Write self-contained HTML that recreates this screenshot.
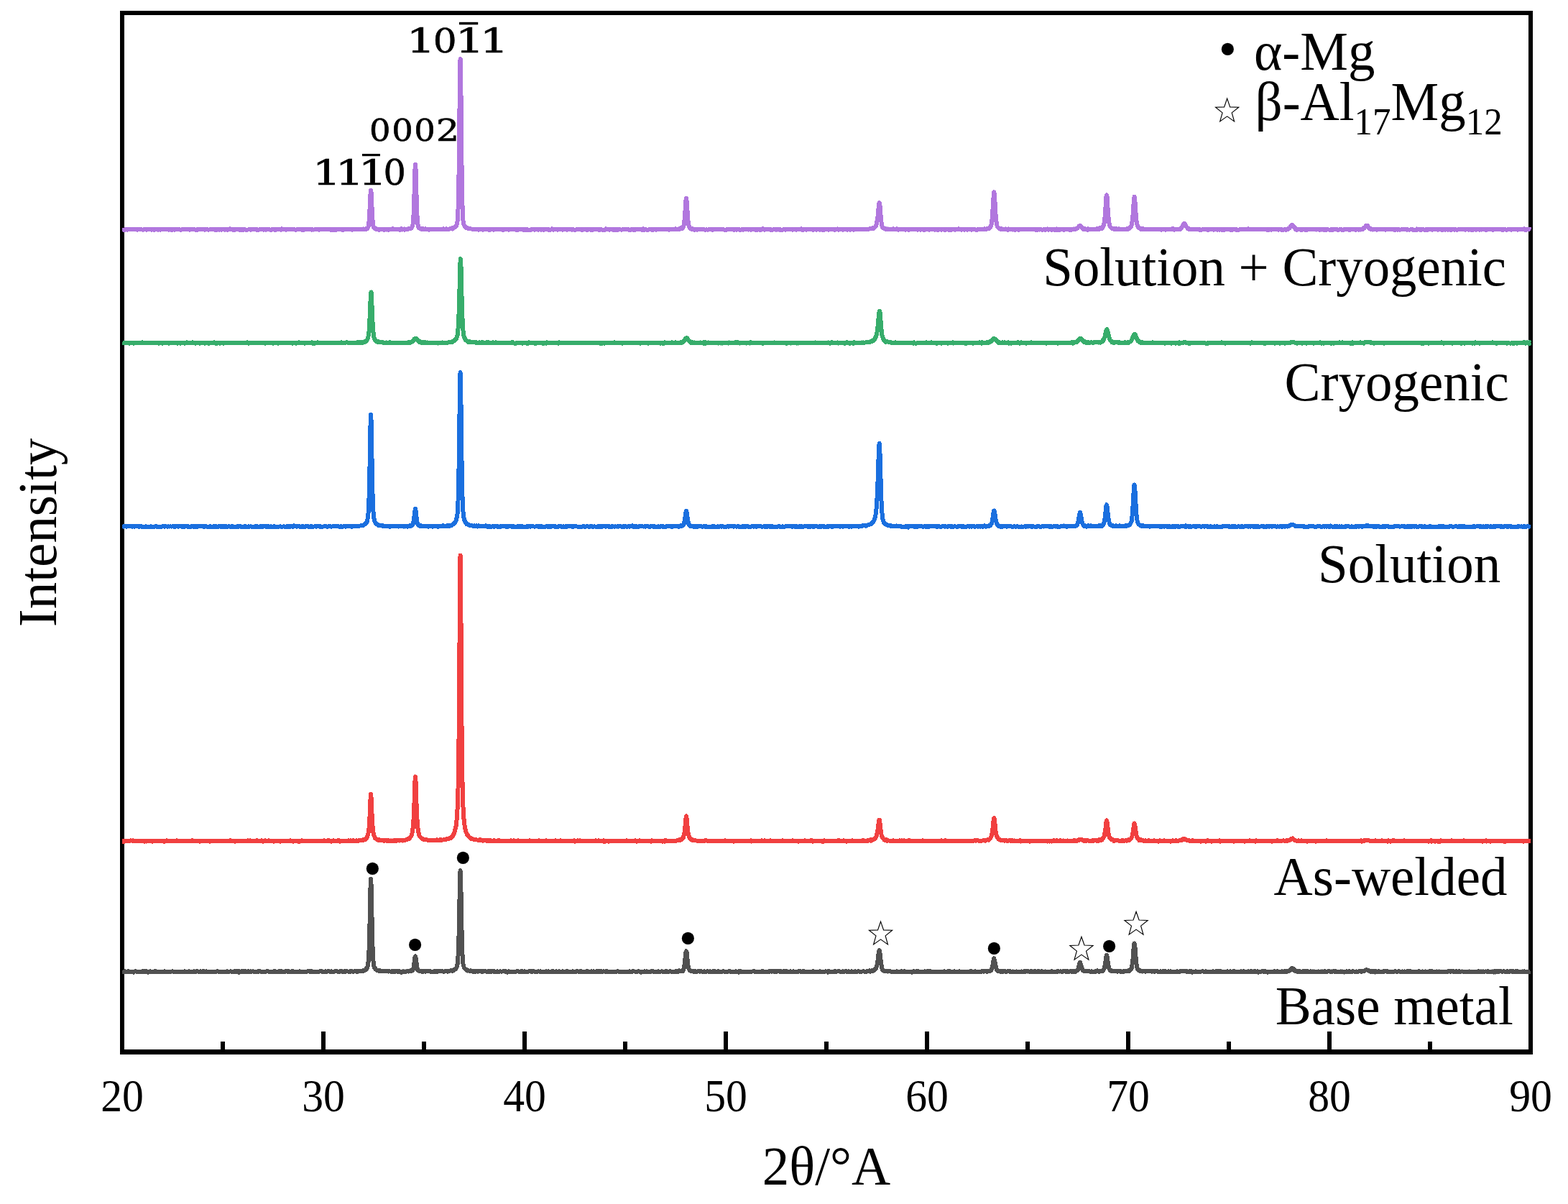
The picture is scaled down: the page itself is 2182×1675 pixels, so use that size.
<!DOCTYPE html>
<html lang="en"><head><meta charset="utf-8"><title>XRD patterns</title>
<style>
html,body{margin:0;padding:0;background:#fff}
body{width:2182px;height:1675px;overflow:hidden}
svg{display:block}
text{fill:#000;white-space:pre}
.t{font-family:"Liberation Serif","Times New Roman",Times,serif;font-size:75px}
.tk{font-family:"Liberation Serif","Times New Roman",Times,serif;font-size:64px;text-anchor:middle}
.pk{font-family:"DejaVu Serif",serif;stroke:#000;stroke-width:.6px}
.c{fill:none;stroke-linejoin:round;stroke-linecap:butt}
.ca{stroke-width:6;shape-rendering:crispEdges}
.cb{stroke-width:4.6}
</style></head><body>
<svg width="2182" height="1675" viewBox="0 0 2182 1675">
<rect width="2182" height="1675" fill="#fff"/>
<path d="M167 15H2133V1467H167ZM173 21V1460H2127V21Z" fill="#000" fill-rule="evenodd"/>
<path d="M310 1461V1449M450 1461V1435M590 1461V1449M730 1461V1435M870 1461V1449M1010 1461V1435M1150 1461V1449M1290 1461V1435M1430 1461V1449M1570 1461V1435M1710 1461V1449M1850 1461V1435M1990 1461V1449" stroke="#000" stroke-width="6" fill="none"/>
<text class="tk" transform="translate(170 1546) scale(0.933 1)">20</text>
<text class="tk" transform="translate(450 1546) scale(0.933 1)">30</text>
<text class="tk" transform="translate(730 1546) scale(0.933 1)">40</text>
<text class="tk" transform="translate(1010 1546) scale(0.933 1)">50</text>
<text class="tk" transform="translate(1290 1546) scale(0.933 1)">60</text>
<text class="tk" transform="translate(1570 1546) scale(0.933 1)">70</text>
<text class="tk" transform="translate(1850 1546) scale(0.933 1)">80</text>
<text class="tk" transform="translate(2130 1546) scale(0.933 1)">90</text>
<text class="t" transform="translate(1150 1648) scale(1 1.018)" text-anchor="middle">2θ/°A</text>
<text class="t" transform="translate(78 741) rotate(-90) scale(1 1.018)" text-anchor="middle">Intensity</text>
<clipPath id="cp"><rect x="170" y="18" width="1961" height="1446"/></clipPath>
<defs>
<path id="base" d="M170 1351.3L171 1351.8L172 1352L173 1351.5L174 1351.3L175 1351.7L176 1351.9L177 1352.1L178 1351.3L179 1351.3L180 1351.9L181 1351.9L182 1352.2L183 1352L184 1351.7L185 1351.6L186 1352.5L187 1351.6L188 1351.4L189 1351.3L190 1351.7L191 1351.7L192 1351.6L193 1351.7L194 1351.8L195 1351.9L196 1352.1L197 1351.8L198 1351.1L199 1351.9L200 1351.2L201 1351.6L202 1351.2L203 1351.7L204 1351.4L205 1351.8L206 1352.8L207 1351.7L208 1352L209 1351.3L210 1351.6L211 1351.9L212 1351.7L213 1351.8L214 1351.7L215 1351.4L216 1351.9L217 1351.4L218 1352.3L219 1351.5L220 1351.9L221 1351.7L222 1352L223 1351.5L224 1352L225 1351.7L226 1352.1L227 1351.9L228 1351.7L229 1351.4L230 1352L231 1351.9L232 1352.2L233 1351.6L234 1351.9L235 1351.9L236 1351.8L237 1351.8L238 1351.8L239 1351.5L240 1351.4L241 1351.6L242 1351.9L243 1352.2L244 1352L245 1352L246 1352L247 1351.9L248 1351.8L249 1352L250 1352.3L251 1351.6L252 1351.5L253 1352.3L254 1351.8L255 1352L256 1352L257 1351.3L258 1352.5L259 1352.3L260 1351.8L261 1351.9L262 1351.7L263 1351.4L264 1351.7L265 1351.8L266 1352.1L267 1351.9L268 1351.7L269 1352.1L270 1351.4L271 1352L272 1352.1L273 1351.6L274 1351.1L275 1351.4L276 1351.8L277 1351.9L278 1352.2L279 1351.4L280 1351.7L281 1351.9L282 1351.6L283 1350.9L284 1352L285 1352.5L286 1352L287 1351.4L288 1351.6L289 1351.8L290 1352.5L291 1351.9L292 1351.7L293 1352.2L294 1351.7L295 1352.3L296 1351.5L297 1351.5L298 1351.9L299 1352.2L300 1351.9L301 1351.8L302 1351.1L303 1351.5L304 1351.5L305 1351.5L306 1351.9L307 1351.6L308 1352L309 1351.7L310 1351.6L311 1351.7L312 1351.8L313 1352L314 1351.5L315 1351.6L316 1351.3L317 1352.2L318 1352.2L319 1351.6L320 1351.5L321 1351.3L322 1351.8L323 1351.8L324 1352.4L325 1351.8L326 1351.4L327 1350.9L328 1352.2L329 1351.8L330 1351.2L331 1351.8L332 1351.2L333 1352.8L334 1352.1L335 1351.9L336 1351.6L337 1351L338 1351.7L339 1351.2L340 1351.9L341 1351L342 1351.4L343 1352.1L344 1352.2L345 1351.3L346 1351.2L347 1352L348 1352L349 1351.4L350 1351.5L351 1351.5L352 1351.3L353 1351.5L354 1352.1L355 1351.9L356 1352.4L357 1351.7L358 1351.7L359 1351.4L360 1351.7L361 1351.3L362 1351.1L363 1351.9L364 1352.2L365 1352L366 1352.1L367 1351.8L368 1351.5L369 1351.7L370 1351.6L371 1351.3L372 1351.1L373 1351.2L374 1351.7L375 1351.7L376 1351.5L377 1352.2L378 1351.8L379 1351.9L380 1352.1L381 1351.4L382 1351L383 1351.9L384 1351.5L385 1352.1L386 1351.8L387 1352L388 1351.9L389 1351L390 1351.9L391 1351.5L392 1351.4L393 1351.5L394 1351.9L395 1352L396 1352L397 1351.1L398 1351.5L399 1350.9L400 1351.7L401 1351.9L402 1351.4L403 1351.8L404 1351.8L405 1352L406 1351.4L407 1351.4L408 1351.4L409 1352.3L410 1352L411 1351.6L412 1351.8L413 1351.7L414 1351.8L415 1351.6L416 1351.6L417 1351.3L418 1351.5L419 1352.2L420 1351.9L421 1351.7L422 1351.6L423 1351.7L424 1351.8L425 1351.5L426 1351.7L427 1351.8L428 1351.4L429 1351.4L430 1351.3L431 1351.3L432 1352L433 1350.9L434 1351.6L435 1351.5L436 1351.5L437 1351.7L438 1352L439 1351.7L440 1351.6L441 1351.5L442 1351.6L443 1352L444 1351.5L445 1351.3L446 1351.2L447 1351.3L448 1351.2L449 1352L450 1351.8L451 1351.6L452 1352.1L453 1351.4L454 1351.9L455 1351.9L456 1351.1L457 1351.1L458 1351.3L459 1351.9L460 1352.1L461 1351.2L462 1352L463 1351.5L464 1351.5L465 1351.5L466 1351.5L467 1351L468 1351.3L469 1351.2L470 1351.8L471 1352.3L472 1352.5L473 1351.5L474 1351L475 1351.5L476 1351.3L477 1352.2L478 1351.8L479 1351.3L480 1351.9L481 1351.7L482 1351L483 1351.4L484 1351.5L485 1351.5L486 1351.6L487 1351.4L488 1351.6L489 1351.3L490 1351.2L491 1351.9L492 1351.5L493 1351.5L494 1350.8L495 1351.3L496 1351.6L497 1350.8L498 1351.6L499 1351L500 1351.2L501 1351L502 1351L503 1351.2L504 1350.5L505 1351L505.5 1350.1L506 1349.9L506.5 1350.3L507 1349.5L507.5 1349.5L508 1349.7L508.5 1349.5L509 1348.1L509.5 1348.4L510 1348.4L510.5 1347.4L511 1346L511.5 1344.6L512 1342.5L512.5 1338.6L513 1332.7L513.5 1322.4L514 1306.5L514.5 1285.4L515 1259.6L515.5 1235.6L516 1223.8L516.1 1222.7L516.5 1229L517 1249.5L517.5 1275L518 1298.3L518.5 1316.7L519 1329.9L519.5 1336.7L520 1341.4L520.5 1344.4L521 1345.9L521.5 1346.9L522 1347.8L522.5 1347.4L523 1348.3L523.5 1349L524 1349.4L524.5 1350L525 1349.9L525.5 1349.9L526 1350.1L526.5 1350.2L527 1350.5L527.5 1350.7L528 1350.5L528.5 1350.4L529.5 1350.5L530.5 1351.3L531.5 1351.4L532.5 1351.4L533.5 1351.4L534.5 1351.5L535.5 1351.3L536.5 1351.5L537.5 1351L538.5 1351.3L539.5 1351.1L540.5 1351.6L541.5 1351.2L542.5 1351.4L543.5 1351.6L544.5 1351.9L545.5 1351.2L546.5 1351.2L547.5 1351.8L548.5 1351.1L549.5 1351.7L550.5 1351.3L551.5 1351.5L552.5 1350.9L553.5 1351.8L554.5 1351.4L555.5 1351.2L556.5 1352.2L557.5 1351.8L558.5 1352.7L559.5 1351.6L560.5 1351.4L561.5 1351.5L562.5 1352L563.5 1351.5L564.5 1351.6L565.5 1351.6L566.5 1351.1L567 1351.4L567.5 1351.2L568 1350.9L568.5 1351.6L569 1351.5L569.5 1351.3L570 1350.9L570.5 1350.5L571 1351.3L571.5 1351L572 1350.4L572.5 1350.8L573 1350.2L573.5 1350.4L574 1350.1L574.5 1349.5L575 1348.3L575.5 1346.4L576 1343.1L576.5 1339.6L577 1335.4L577.5 1331.8L578 1330.4L578.5 1332L579 1336.1L579.5 1338.9L580 1343.6L580.5 1346.3L581 1349L581.5 1349.7L582 1349.5L582.5 1350.5L583 1350.5L583.5 1351.1L584 1350.6L584.5 1351L585 1351.1L585.5 1351.1L586 1351L586.5 1350.7L587 1351.4L587.5 1351.7L588 1351.3L588.5 1351L589 1351.5L589.5 1351.6L590 1351.4L591 1351.4L592 1351.9L593 1351.1L594 1351.3L595 1350.9L596 1351.3L597 1351.3L598 1351.2L599 1351.3L600 1352.1L601 1351.5L602 1351.5L603 1352.2L604 1351.5L605 1350.9L606 1351.6L607 1351.2L608 1352L609 1351.1L610 1351.3L611 1350.9L612 1351.5L613 1351.1L614 1351.4L615 1351.3L616 1351.2L617 1351.7L618 1351.6L619 1351.3L620 1351L621 1350.9L622 1351.3L623 1351.9L624 1350.9L625 1350.7L626 1350.6L627 1350.4L628 1350.3L629 1350.4L629.5 1350.8L630 1350.2L630.5 1349.9L631 1349.3L631.5 1349.7L632 1349.4L632.5 1348.8L633 1348.5L633.5 1348.4L634 1348.3L634.5 1347.6L635 1346.7L635.5 1345.5L636 1344.2L636.5 1341.8L637 1338.6L637.5 1330.7L638 1319.6L638.5 1302.9L639 1278.8L639.5 1251.7L640 1225.4L640.5 1211.8L640.6 1211.2L641 1217.4L641.5 1239.8L642 1268.8L642.5 1293.9L643 1313.8L643.5 1327.5L644 1335.8L644.5 1340.8L645 1343.2L645.5 1345L646 1346.6L646.5 1347L647 1347.3L647.5 1348.2L648 1348.5L648.5 1349.2L649 1349.1L649.5 1349.2L650 1349.7L650.5 1350.5L651 1350.1L651.5 1350.3L652 1350.4L652.5 1350.6L653 1350.9L654 1351.2L655 1350.3L656 1351.4L657 1351.1L658 1351L659 1352L660 1351.2L661 1351.9L662 1351.6L663 1351L664 1351.5L665 1351.6L666 1351.4L667 1350.7L668 1351.4L669 1351.4L670 1351.1L671 1352.1L672 1351.4L673 1351.4L674 1351.4L675 1351.3L676 1351.3L677 1351.6L678 1351.7L679 1351.4L680 1351.6L681 1351.1L682 1351.8L683 1351.4L684 1351.7L685 1351.3L686 1351.4L687 1351.7L688 1351.2L689 1352.4L690 1351.6L691 1351.6L692 1351.4L693 1352.2L694 1352.1L695 1351.7L696 1351.2L697 1351.5L698 1351.8L699 1351.5L700 1351.3L701 1351.3L702 1351.4L703 1351.7L704 1351.4L705 1351.7L706 1352.6L707 1352.2L708 1351.3L709 1351.8L710 1351.7L711 1351.6L712 1352L713 1351.6L714 1351.6L715 1351.5L716 1351.6L717 1352.1L718 1351.9L719 1351.2L720 1351.5L721 1351.4L722 1351.9L723 1351.7L724 1352L725 1351.7L726 1351L727 1351.8L728 1351.8L729 1351.8L730 1351.2L731 1351.7L732 1351.5L733 1351.5L734 1351.8L735 1351.8L736 1351.4L737 1351.1L738 1350.9L739 1351.5L740 1352.1L741 1351.7L742 1350.9L743 1351.4L744 1351.8L745 1352.2L746 1352.1L747 1351.8L748 1351.8L749 1351.3L750 1351.5L751 1351.6L752 1351.4L753 1351.7L754 1351.6L755 1351.8L756 1352.2L757 1351.9L758 1351.8L759 1351.6L760 1351.2L761 1351.7L762 1351.9L763 1351.4L764 1352.1L765 1351.6L766 1351.8L767 1351.6L768 1351.3L769 1352.4L770 1351.3L771 1352L772 1351.5L773 1351.8L774 1351.4L775 1351.6L776 1352L777 1352.3L778 1351.4L779 1351.7L780 1352L781 1351.5L782 1351.9L783 1351.4L784 1351.9L785 1351.8L786 1352.1L787 1351.8L788 1351.3L789 1351.9L790 1351.3L791 1351.9L792 1352.2L793 1351.9L794 1351.5L795 1352.1L796 1351.8L797 1351.3L798 1351.6L799 1352.2L800 1351.6L801 1351.7L802 1351.6L803 1351.1L804 1351.5L805 1351.8L806 1351.8L807 1351.6L808 1351L809 1352.1L810 1351.9L811 1352L812 1352.1L813 1351.6L814 1351.5L815 1351.8L816 1352.3L817 1351.1L818 1351.6L819 1351.5L820 1351.9L821 1352.2L822 1351.6L823 1351.3L824 1351.7L825 1351.6L826 1351.2L827 1352L828 1351.5L829 1351.9L830 1351.3L831 1352.1L832 1351.2L833 1352L834 1351.1L835 1352.2L836 1351.6L837 1351.2L838 1351.6L839 1351.8L840 1351.4L841 1351.5L842 1351.8L843 1351.6L844 1350.7L845 1351.6L846 1351.8L847 1351.8L848 1352L849 1351.5L850 1352.5L851 1352L852 1351.8L853 1352.1L854 1352L855 1351.7L856 1351.5L857 1352L858 1351.8L859 1351.1L860 1351.3L861 1351.8L862 1351.7L863 1351.8L864 1351.9L865 1351.7L866 1352.2L867 1351.5L868 1351.6L869 1351.8L870 1351.9L871 1352L872 1352.2L873 1351.5L874 1352.1L875 1351.8L876 1351.3L877 1351.6L878 1352.4L879 1352L880 1351.5L881 1350.9L882 1351.4L883 1351.5L884 1351.7L885 1352.5L886 1351.9L887 1351.8L888 1351.4L889 1351.3L890 1351.6L891 1351.5L892 1352.7L893 1351.6L894 1351.5L895 1352.1L896 1351.7L897 1351.3L898 1352.1L899 1351.6L900 1351.2L901 1351.8L902 1351.8L903 1351.6L904 1351.9L905 1352L906 1351.4L907 1351L908 1350.9L909 1351.6L910 1352.1L911 1352L912 1352.1L913 1352.3L914 1351.7L915 1352L916 1351.2L917 1351.9L918 1351.8L919 1351.6L920 1351.5L921 1351.3L922 1351.7L923 1352.1L924 1351.5L925 1351.8L926 1351.4L927 1351.7L928 1351.3L929 1351.8L930 1351.6L931 1351.7L932 1351.4L933 1351.2L934 1351.5L935 1351.9L936 1352.1L937 1351.5L938 1351.8L939 1351.8L940 1351.6L941 1351L942 1351.6L943 1351.1L944 1351.7L944.5 1351.6L945 1351.5L945.5 1350.4L946 1351.4L946.5 1351.4L947 1350.6L947.5 1351.3L948 1350.9L948.5 1350.7L949 1350.4L949.5 1350.1L950 1350L950.5 1350.7L951 1349L951.5 1347.8L952 1345.6L952.5 1342.7L953 1338.8L953.5 1333.8L954 1329.1L954.5 1324.4L955 1323.1L955.5 1324.2L956 1329.2L956.5 1334.1L957 1339.2L957.5 1342.9L958 1345.5L958.5 1348.1L959 1348.8L959.5 1349.6L960 1349.8L960.5 1350.5L961 1350.5L961.5 1350.9L962 1351L962.5 1350.8L963 1350.6L963.5 1351.3L964 1351.5L964.5 1351.5L965 1350.9L965.5 1351.5L966 1351.5L966.5 1351.5L967 1351.6L968 1351.3L969 1351.6L970 1351.8L971 1351.4L972 1351.1L973 1351.5L974 1351.6L975 1351L976 1351.4L977 1351.8L978 1351.6L979 1351.7L980 1351.2L981 1351.9L982 1352.2L983 1351.6L984 1351.4L985 1351.3L986 1351.9L987 1351.7L988 1351.4L989 1352.1L990 1351.9L991 1351.9L992 1351.1L993 1351.6L994 1351.9L995 1351.3L996 1352L997 1352.1L998 1352L999 1351.4L1000 1351.4L1001 1352L1002 1352L1003 1352.1L1004 1352.1L1005 1351.6L1006 1351.5L1007 1351.1L1008 1351.9L1009 1352.4L1010 1351.5L1011 1351.5L1012 1351.9L1013 1351.8L1014 1351.2L1015 1351.5L1016 1351.3L1017 1352.4L1018 1351.5L1019 1352L1020 1352.3L1021 1352.3L1022 1352.2L1023 1352.2L1024 1351.3L1025 1351.6L1026 1351.5L1027 1351.6L1028 1352.6L1029 1351.1L1030 1351.9L1031 1351.3L1032 1352.1L1033 1352.1L1034 1351.5L1035 1352.4L1036 1351.7L1037 1352.1L1038 1351.8L1039 1351.5L1040 1351.6L1041 1351.7L1042 1351.9L1043 1351.7L1044 1352.5L1045 1351.6L1046 1351.5L1047 1351.5L1048 1351.4L1049 1351.2L1050 1351.4L1051 1352L1052 1351.7L1053 1351.6L1054 1351.8L1055 1352L1056 1351.9L1057 1352L1058 1351.5L1059 1351.6L1060 1351.4L1061 1351.7L1062 1351.4L1063 1351.6L1064 1351.6L1065 1351.6L1066 1351.6L1067 1351.5L1068 1352.1L1069 1351.6L1070 1351.4L1071 1351.8L1072 1351.3L1073 1351.3L1074 1351.7L1075 1351.1L1076 1350.6L1077 1351.8L1078 1352L1079 1351.1L1080 1351.4L1081 1351.9L1082 1351L1083 1351.4L1084 1351.3L1085 1351.6L1086 1351L1087 1352L1088 1351.6L1089 1351.8L1090 1351.6L1091 1351L1092 1351.6L1093 1351.2L1094 1351.7L1095 1351.4L1096 1351.6L1097 1351.6L1098 1351.9L1099 1351.9L1100 1351.4L1101 1351.7L1102 1352.2L1103 1351.9L1104 1351.4L1105 1351.7L1106 1351.6L1107 1352L1108 1351.7L1109 1351.8L1110 1352.4L1111 1351.2L1112 1351.4L1113 1351.1L1114 1351.2L1115 1352L1116 1351.8L1117 1352.2L1118 1351L1119 1351.4L1120 1352.2L1121 1352L1122 1352L1123 1352L1124 1351.7L1125 1351.7L1126 1351.7L1127 1352L1128 1351.6L1129 1351.8L1130 1352.2L1131 1351.3L1132 1351.4L1133 1351.9L1134 1351.6L1135 1351.6L1136 1352.4L1137 1351.8L1138 1351.5L1139 1352L1140 1352.5L1141 1351.3L1142 1351.5L1143 1351.7L1144 1351.5L1145 1352.4L1146 1351.9L1147 1351.5L1148 1351.8L1149 1351.4L1150 1351.5L1151 1351.7L1152 1352.5L1153 1350.9L1154 1351.8L1155 1352.1L1156 1351.9L1157 1352.3L1158 1351.8L1159 1351.7L1160 1351.6L1161 1351.4L1162 1352.2L1163 1351.3L1164 1351.6L1165 1351.5L1166 1351.4L1167 1350.9L1168 1351.5L1169 1351.7L1170 1351.7L1171 1351.9L1172 1351.6L1173 1351.4L1174 1351.8L1175 1351.9L1176 1351.4L1177 1351.1L1178 1351.3L1179 1352L1180 1352L1181 1351.3L1182 1351.7L1183 1351.9L1184 1352.1L1185 1351.4L1186 1351.5L1187 1352.1L1188 1352.4L1189 1352.1L1190 1351.2L1191 1351.7L1192 1351.5L1193 1351.6L1194 1351.4L1195 1351.4L1196 1351.5L1197 1352.1L1198 1351.8L1199 1351.7L1200 1351.5L1201 1351.2L1202 1351.4L1203 1351.8L1204 1351.7L1205 1352L1206 1351.4L1207 1351.3L1208 1350.7L1209 1351.3L1210 1350.5L1211 1351.5L1212 1350.7L1212.5 1350.8L1213 1350.3L1213.5 1350.5L1214 1350.2L1214.5 1350.8L1215 1350.4L1215.5 1349.7L1216 1349.3L1216.5 1349.7L1217 1349.2L1217.5 1348.7L1218 1348.8L1218.5 1347.9L1219 1347.1L1219.5 1345.8L1220 1344.3L1220.5 1342.2L1221 1339.2L1221.5 1336.6L1222 1332.6L1222.5 1327.7L1223 1324.6L1223.5 1322.8L1223.7 1322.3L1224 1323.2L1224.5 1325.7L1225 1330.4L1225.5 1334.9L1226 1339.4L1226.5 1342.6L1227 1345.5L1227.5 1347.7L1228 1348.9L1228.5 1349.9L1229 1350L1229.5 1349.9L1230 1350.6L1230.5 1350.6L1231 1351.4L1231.5 1351.5L1232 1351.3L1232.5 1350.7L1233 1351L1233.5 1351.2L1234 1351L1234.5 1351.4L1235 1351.5L1235.5 1351.6L1236 1351.4L1237 1351.1L1238 1351.2L1239 1351.4L1240 1351.9L1241 1352L1242 1351.9L1243 1351.7L1244 1351.8L1245 1351.9L1246 1352L1247 1351.9L1248 1351.1L1249 1351.9L1250 1351.8L1251 1351.5L1252 1351.8L1253 1351.7L1254 1351.6L1255 1351.1L1256 1351.7L1257 1351.8L1258 1351.6L1259 1351.1L1260 1351.8L1261 1351.9L1262 1351.7L1263 1351.8L1264 1351.5L1265 1351.5L1266 1351.8L1267 1351.6L1268 1351.7L1269 1352.7L1270 1351.9L1271 1351.7L1272 1351.1L1273 1351.7L1274 1351.9L1275 1351.4L1276 1351.6L1277 1350.9L1278 1351.9L1279 1351.5L1280 1351.9L1281 1352.1L1282 1351.6L1283 1352L1284 1351.8L1285 1351.6L1286 1351.6L1287 1351.4L1288 1352.1L1289 1352L1290 1351.4L1291 1352L1292 1351.4L1293 1351.2L1294 1352.1L1295 1351.3L1296 1352.1L1297 1351.8L1298 1352L1299 1351.9L1300 1352.1L1301 1351.8L1302 1351.9L1303 1351.8L1304 1352L1305 1351.6L1306 1352L1307 1352.2L1308 1351.7L1309 1351.8L1310 1351.5L1311 1351.6L1312 1351.8L1313 1351.6L1314 1351.4L1315 1351.7L1316 1351.7L1317 1351.8L1318 1351.9L1319 1351.1L1320 1352.2L1321 1351.6L1322 1351.4L1323 1351.6L1324 1351.8L1325 1352L1326 1351.6L1327 1351.7L1328 1351.2L1329 1351.7L1330 1351.6L1331 1351.5L1332 1352L1333 1352.3L1334 1352L1335 1351.4L1336 1352.2L1337 1351.6L1338 1351.7L1339 1351.5L1340 1351.8L1341 1351.9L1342 1351.7L1343 1351.6L1344 1351.6L1345 1351.5L1346 1352L1347 1351.5L1348 1351.6L1349 1351.6L1350 1351.4L1351 1351.6L1352 1351.2L1353 1351.8L1354 1351.8L1355 1351.6L1356 1352.2L1357 1351.4L1358 1351.8L1359 1351.8L1360 1351.5L1361 1351.6L1362 1351.9L1363 1351.6L1364 1351.7L1365 1352.1L1366 1351.7L1367 1351L1368 1351.3L1369 1351.8L1370 1351.5L1371 1351.1L1372 1350.8L1372.5 1351.5L1373 1351.9L1373.5 1351L1374 1350.6L1374.5 1351.5L1375 1351.1L1375.5 1351.1L1376 1351L1376.5 1350.8L1377 1351.1L1377.5 1351.1L1378 1350.8L1378.5 1350.2L1379 1350.2L1379.5 1349.1L1380 1348.3L1380.5 1346.2L1381 1344.5L1381.5 1341.9L1382 1339L1382.5 1335.8L1383 1334.1L1383.3 1333.4L1383.5 1334L1384 1335.6L1384.5 1338.4L1385 1340.9L1385.5 1343.4L1386 1346.1L1386.5 1347.7L1387 1348.8L1387.5 1350L1388 1350.6L1388.5 1350.7L1389 1351.2L1389.5 1351.1L1390 1350.7L1390.5 1350.9L1391 1351.1L1391.5 1351.5L1392 1351.6L1392.5 1351.4L1393 1351.7L1393.5 1351.1L1394 1351.4L1394.5 1351.9L1395 1351.6L1395.5 1351.8L1396.5 1350.9L1397.5 1351L1398.5 1351.3L1399.5 1351.9L1400.5 1352.1L1401.5 1351.4L1402.5 1351.3L1403.5 1351.3L1404.5 1351.3L1405.5 1351.8L1406.5 1351.5L1407.5 1352.3L1408.5 1351.9L1409.5 1351.4L1410.5 1351.7L1411.5 1351.6L1412.5 1351.9L1413.5 1352L1414.5 1351.5L1415.5 1352L1416.5 1351.9L1417.5 1351.6L1418.5 1351.8L1419.5 1351.9L1420.5 1351.6L1421.5 1351.5L1422.5 1352.1L1423.5 1351.7L1424.5 1351.5L1425.5 1351.8L1426.5 1351.2L1427.5 1351.7L1428.5 1351.2L1429.5 1351.5L1430.5 1351.1L1431.5 1351.4L1432.5 1352L1433.5 1351.6L1434.5 1351.3L1435.5 1352.2L1436.5 1351.5L1437.5 1352.2L1438.5 1351.5L1439.5 1351.2L1440.5 1352.3L1441.5 1351.5L1442.5 1351.9L1443.5 1352.1L1444.5 1351.3L1445.5 1351.7L1446.5 1351.5L1447.5 1351.9L1448.5 1351.7L1449.5 1351.3L1450.5 1351.7L1451.5 1351.9L1452.5 1351.6L1453.5 1351.9L1454.5 1351.5L1455.5 1351.7L1456.5 1351.8L1457.5 1351.7L1458.5 1352.1L1459.5 1352L1460.5 1351.9L1461.5 1351.9L1462.5 1351.7L1463.5 1351.3L1464.5 1352L1465.5 1352.2L1466.5 1351.7L1467.5 1351.6L1468.5 1351.7L1469.5 1352.1L1470.5 1351.8L1471.5 1351.3L1472.5 1351.6L1473.5 1351.4L1474.5 1351.6L1475.5 1351.4L1476.5 1351.4L1477.5 1352.1L1478.5 1352L1479.5 1351.1L1480.5 1351.3L1481.5 1351.5L1482.5 1351.5L1483.5 1351.2L1484.5 1351.9L1485.5 1351.1L1486.5 1351.8L1487.5 1351.8L1488.5 1351.5L1489.5 1351.3L1490.5 1351.6L1491.5 1351.6L1492 1350.8L1492.5 1351.1L1493 1351.6L1493.5 1351.4L1494 1351.3L1494.5 1351.1L1495 1351.1L1495.5 1351.1L1496 1352.2L1496.5 1350.8L1497 1351.6L1497.5 1351.1L1498 1350.9L1498.5 1350.6L1499 1350L1499.5 1350L1500 1348.7L1500.5 1347.2L1501 1345.4L1501.5 1343.5L1502 1341.1L1502.5 1339.7L1503 1339L1503.5 1340L1504 1341.6L1504.5 1342.9L1505 1345.4L1505.5 1347.5L1506 1348.1L1506.5 1349.1L1507 1350.5L1507.5 1350.5L1508 1350.7L1508.5 1350.6L1509 1351.1L1509.5 1351L1510 1351.3L1510.5 1351.4L1511 1351.5L1511.5 1351.2L1512 1351.2L1512.5 1351.4L1513 1351.4L1513.5 1351.5L1514 1351.3L1514.5 1351.4L1515 1351.3L1516 1351.3L1517 1351.5L1518 1351.9L1519 1351.3L1520 1351.7L1521 1351.6L1522 1351.5L1523 1351.7L1524 1351.3L1525 1351.6L1526 1351.5L1527 1350.3L1528 1351.5L1529 1351.5L1529.5 1351.9L1530 1350.9L1530.5 1351.3L1531 1351.3L1531.5 1350.8L1532 1351.4L1532.5 1351.1L1533 1350.6L1533.5 1350.4L1534 1350.5L1534.5 1351.2L1535 1350.8L1535.5 1348.9L1536 1348.3L1536.5 1348L1537 1346L1537.5 1343.4L1538 1340.7L1538.5 1336.9L1539 1333.3L1539.5 1330.4L1540 1328.8L1540.5 1330.7L1541 1333.1L1541.5 1337.3L1542 1340.7L1542.5 1343.6L1543 1346.1L1543.5 1347.7L1544 1348.3L1544.5 1349.5L1545 1350.2L1545.5 1349.9L1546 1350.1L1546.5 1351.1L1547 1351.1L1547.5 1350.5L1548 1351.2L1548.5 1351.1L1549 1351.5L1549.5 1351.1L1550 1351.2L1550.5 1351L1551 1351.3L1551.5 1351.3L1552 1351.1L1553 1351.2L1554 1351.1L1555 1351.6L1556 1351.1L1557 1350.9L1558 1351.1L1559 1351.8L1560 1351.2L1561 1351.6L1562 1351.6L1563 1351.2L1564 1351.6L1565 1351.4L1566 1351.2L1567 1350.9L1567.5 1351.1L1568 1350.6L1568.5 1350.9L1569 1350.7L1569.5 1351L1570 1350.9L1570.5 1350.4L1571 1350.8L1571.5 1350.8L1572 1350.2L1572.5 1349.7L1573 1349.8L1573.5 1348.3L1574 1348.2L1574.5 1347.4L1575 1346L1575.5 1342.3L1576 1339.1L1576.5 1334.1L1577 1327.7L1577.5 1319.8L1578 1315.4L1578.5 1312.3L1578.6 1312.5L1579 1313.4L1579.5 1317.9L1580 1324.4L1580.5 1331.4L1581 1336.9L1581.5 1341L1582 1344.5L1582.5 1346.8L1583 1348.2L1583.5 1348.9L1584 1349.2L1584.5 1349.6L1585 1350L1585.5 1350.1L1586 1350L1586.5 1350.2L1587 1351L1587.5 1350.5L1588 1350.5L1588.5 1351L1589 1351.5L1589.5 1351.5L1590 1351L1590.5 1350.9L1591 1351.1L1592 1351L1593 1351.2L1594 1351.6L1595 1351.1L1596 1351.2L1597 1351.4L1598 1351.5L1599 1351.3L1600 1351.3L1601 1351.2L1602 1351.3L1603 1351.7L1604 1351.5L1605 1350.6L1606 1351.8L1607 1351.6L1608 1351.3L1609 1351.5L1610 1350.6L1611 1351.1L1612 1352L1613 1352.3L1614 1352.4L1615 1351.4L1616 1351.7L1617 1351.9L1618 1351.2L1619 1352.2L1620 1351.4L1621 1351.8L1622 1351.3L1623 1351.8L1624 1351.7L1625 1352L1626 1351.3L1627 1351.7L1628 1352.3L1629 1351.3L1630 1351.8L1631 1351.8L1632 1351.5L1633 1351.6L1634 1352.1L1635 1352L1636 1351.8L1637 1351.7L1638 1351.3L1639 1351.7L1640 1352.2L1641 1352L1642 1351.2L1643 1350.9L1644 1351.3L1645 1351.5L1646 1351.2L1647 1351.1L1648 1351.3L1649 1351.5L1650 1351.4L1651 1351.9L1652 1351.1L1653 1351.8L1654 1351.8L1655 1351.2L1656 1352.1L1657 1351.1L1658 1351.2L1659 1352.6L1660 1352.1L1661 1351.8L1662 1352.1L1663 1352.1L1664 1351.3L1665 1351.8L1666 1352.1L1667 1351.6L1668 1351.7L1669 1351.5L1670 1351.9L1671 1351.5L1672 1351.5L1673 1351.3L1674 1351.4L1675 1351.8L1676 1351.8L1677 1351.6L1678 1351.3L1679 1351.8L1680 1351.8L1681 1352.1L1682 1351.5L1683 1351.6L1684 1351.9L1685 1352.2L1686 1351.7L1687 1351.7L1688 1351.4L1689 1351.6L1690 1352L1691 1352L1692 1352.1L1693 1351.1L1694 1352L1695 1351.4L1696 1351.9L1697 1350.9L1698 1351.7L1699 1351.4L1700 1352.1L1701 1351.7L1702 1352.1L1703 1351.5L1704 1352.3L1705 1351.5L1706 1352.3L1707 1351.5L1708 1351.4L1709 1352L1710 1351.6L1711 1351.7L1712 1351.2L1713 1351.6L1714 1351.7L1715 1351.5L1716 1351.8L1717 1350.9L1718 1352L1719 1351.6L1720 1352.2L1721 1351.6L1722 1351.5L1723 1351.5L1724 1351.8L1725 1351.9L1726 1351.5L1727 1351.4L1728 1351.8L1729 1352L1730 1351.1L1731 1351.3L1732 1351.5L1733 1352.3L1734 1352.1L1735 1352L1736 1351.9L1737 1351.3L1738 1352.1L1739 1351.5L1740 1351.4L1741 1352.3L1742 1351.2L1743 1352.2L1744 1351.8L1745 1351.4L1746 1351.8L1747 1351.4L1748 1351.8L1749 1351.5L1750 1351.3L1751 1352.6L1752 1351.5L1753 1352L1754 1351.7L1755 1351.9L1756 1351.3L1757 1351.3L1758 1350.6L1759 1352L1760 1351.8L1761 1351.3L1762 1352L1763 1351.9L1764 1352.7L1765 1351.8L1766 1352L1767 1351.9L1768 1351.9L1769 1351.7L1770 1351.5L1771 1351.9L1772 1352.1L1773 1351.3L1774 1351.3L1775 1351.7L1776 1352.3L1777 1351.6L1778 1351.1L1779 1351.9L1780 1351.9L1781 1352.3L1782 1351.7L1783 1352.3L1784 1351.4L1785 1351.9L1786 1351.6L1787 1351.2L1787.5 1351.5L1788 1352L1788.5 1351.9L1789 1351.4L1789.5 1351.9L1790 1351.8L1790.5 1351.8L1791 1351.5L1791.5 1351.5L1792 1351L1792.5 1351.1L1793 1351.1L1793.5 1350.6L1794 1350.4L1794.5 1350.3L1795 1349.9L1795.5 1349.7L1796 1348.4L1796.5 1348.1L1797 1347.8L1797.5 1347.2L1798 1347.3L1798.1 1347L1798.5 1347.7L1799 1347.5L1799.5 1347.6L1800 1348.8L1800.5 1349.6L1801 1349L1801.5 1350L1802 1350.4L1802.5 1351.1L1803 1351.4L1803.5 1351.1L1804 1350.7L1804.5 1351.6L1805 1351.7L1805.5 1351.6L1806 1351.5L1806.5 1351.2L1807 1352.3L1807.5 1351.1L1808 1351.1L1808.5 1351.9L1809 1351.7L1809.5 1351.8L1810 1351.7L1810.5 1352.2L1811.5 1352.1L1812.5 1351.4L1813.5 1352L1814.5 1351.3L1815.5 1351.1L1816.5 1352.1L1817.5 1351.5L1818.5 1350.9L1819.5 1351.7L1820.5 1351.4L1821.5 1351.8L1822.5 1351.7L1823.5 1351.4L1824.5 1351.4L1825.5 1351.9L1826.5 1351.4L1827.5 1351.7L1828.5 1351.4L1829.5 1351.8L1830.5 1352.3L1831.5 1351.9L1832.5 1352.1L1833.5 1351.8L1834.5 1351.4L1835.5 1351.6L1836.5 1351.7L1837.5 1351.8L1838.5 1351.5L1839.5 1351.9L1840.5 1351.5L1841.5 1351.7L1842.5 1351.7L1843.5 1351.3L1844.5 1352L1845.5 1351.7L1846.5 1351.7L1847.5 1351.7L1848.5 1351L1849.5 1351.2L1850.5 1351.4L1851.5 1352L1852.5 1351.5L1853.5 1351.9L1854.5 1351.4L1855.5 1351.4L1856.5 1351.5L1857.5 1352L1858.5 1351.1L1859.5 1351.6L1860.5 1351.8L1861.5 1351.7L1862.5 1351.7L1863.5 1352L1864.5 1351.8L1865.5 1351.4L1866.5 1351.9L1867.5 1351.4L1868.5 1351.6L1869.5 1352.2L1870.5 1352.5L1871.5 1352.2L1872.5 1351.8L1873.5 1351.4L1874.5 1351.4L1875.5 1352.2L1876.5 1351.8L1877.5 1351.2L1878.5 1352.2L1879.5 1351.9L1880.5 1352.1L1881.5 1351.8L1882.5 1351L1883.5 1351.4L1884.5 1351.6L1885.5 1351.6L1886.5 1352.2L1887.5 1351.4L1888.5 1351.6L1889.5 1351.6L1890.5 1351.6L1891.5 1351.3L1892.5 1351.2L1893.5 1350.7L1894.5 1351.7L1895.5 1351.4L1896.5 1351.5L1897.5 1350.8L1898.5 1350.8L1899.5 1350L1900.5 1349.4L1901.5 1349.4L1902.5 1349.5L1903.5 1349.9L1904.5 1350.3L1905.5 1350.7L1906.5 1351.6L1907.5 1351.8L1908.5 1351.3L1909.5 1351.2L1910.5 1351.7L1911.5 1351.7L1912.5 1351.3L1913.5 1352.4L1914.5 1351L1915.5 1351.4L1916.5 1351.7L1917.5 1352L1918.5 1351.1L1919.5 1351.5L1920.5 1352.2L1921.5 1352.1L1922.5 1351.6L1923.5 1351.7L1924.5 1351.4L1925.5 1351.8L1926.5 1351.3L1927.5 1351L1928.5 1351.2L1929.5 1351.7L1930.5 1351.3L1931.5 1352.1L1932.5 1352.1L1933.5 1352L1934.5 1351.9L1935.5 1352.1L1936.5 1351.8L1937.5 1352L1938.5 1351.9L1939.5 1352L1940.5 1351.4L1941.5 1351.5L1942.5 1351.4L1943.5 1352L1944.5 1351.9L1945.5 1351.4L1946.5 1351.4L1947.5 1351.5L1948.5 1352L1949.5 1351.7L1950.5 1351.6L1951.5 1351.5L1952.5 1351.7L1953.5 1352.2L1954.5 1351.5L1955.5 1351.6L1956.5 1352.3L1957.5 1351.9L1958.5 1351.3L1959.5 1352.1L1960.5 1351.3L1961.5 1351.9L1962.5 1350.9L1963.5 1351.4L1964.5 1352L1965.5 1351.5L1966.5 1351.5L1967.5 1351.7L1968.5 1351.7L1969.5 1351.5L1970.5 1351.5L1971.5 1352.3L1972.5 1352.2L1973.5 1351.8L1974.5 1351.3L1975.5 1351.5L1976.5 1351.6L1977.5 1351.9L1978.5 1352.2L1979.5 1351.5L1980.5 1351.7L1981.5 1351.6L1982.5 1351.7L1983.5 1351.5L1984.5 1351.8L1985.5 1352.1L1986.5 1351.6L1987.5 1351.6L1988.5 1351.7L1989.5 1351.3L1990.5 1352.3L1991.5 1351.3L1992.5 1351.6L1993.5 1351.4L1994.5 1352.2L1995.5 1351.5L1996.5 1351.5L1997.5 1352.3L1998.5 1351.7L1999.5 1351.4L2000.5 1351.7L2001.5 1351.8L2002.5 1351.5L2003.5 1351.6L2004.5 1351.6L2005.5 1351.9L2006.5 1352L2007.5 1352L2008.5 1351.7L2009.5 1352L2010.5 1351.6L2011.5 1352.1L2012.5 1351.8L2013.5 1351.6L2014.5 1352.1L2015.5 1351.2L2016.5 1351.4L2017.5 1351.4L2018.5 1351.7L2019.5 1351.3L2020.5 1351.3L2021.5 1351.1L2022.5 1351.7L2023.5 1351.4L2024.5 1352.4L2025.5 1352L2026.5 1351.3L2027.5 1352.1L2028.5 1351.7L2029.5 1352.1L2030.5 1351.3L2031.5 1352.1L2032.5 1352.1L2033.5 1351.6L2034.5 1351.4L2035.5 1351.6L2036.5 1351.8L2037.5 1352.5L2038.5 1352.3L2039.5 1352.2L2040.5 1351.6L2041.5 1351.6L2042.5 1351.8L2043.5 1351.6L2044.5 1351.5L2045.5 1351.6L2046.5 1352L2047.5 1351.7L2048.5 1351.8L2049.5 1351.6L2050.5 1351.6L2051.5 1351.6L2052.5 1352.1L2053.5 1351.8L2054.5 1352.2L2055.5 1351.6L2056.5 1352.1L2057.5 1351.2L2058.5 1351.6L2059.5 1351.7L2060.5 1351.5L2061.5 1351.7L2062.5 1351.4L2063.5 1351.6L2064.5 1351.5L2065.5 1351.7L2066.5 1351.6L2067.5 1351.4L2068.5 1351.6L2069.5 1351.7L2070.5 1351.3L2071.5 1351.7L2072.5 1352.1L2073.5 1351.6L2074.5 1351.9L2075.5 1351.9L2076.5 1351.4L2077.5 1352.1L2078.5 1352.5L2079.5 1351.4L2080.5 1352.4L2081.5 1351.5L2082.5 1352.2L2083.5 1351.1L2084.5 1352.1L2085.5 1351.7L2086.5 1351.3L2087.5 1351.4L2088.5 1351.4L2089.5 1351.4L2090.5 1351.8L2091.5 1351.6L2092.5 1350.9L2093.5 1351.6L2094.5 1351.9L2095.5 1351.7L2096.5 1352.3L2097.5 1351.1L2098.5 1351.8L2099.5 1351.7L2100.5 1351.9L2101.5 1351.3L2102.5 1351.3L2103.5 1351.6L2104.5 1351.7L2105.5 1351.1L2106.5 1351.8L2107.5 1351.7L2108.5 1351.9L2109.5 1350.8L2110.5 1351.9L2111.5 1351.4L2112.5 1351.5L2113.5 1352L2114.5 1352.3L2115.5 1351.8L2116.5 1351.7L2117.5 1352.1L2118.5 1351.4L2119.5 1351.7L2120.5 1351.5L2121.5 1351.4L2122.5 1351.8L2123.5 1352.4L2124.5 1351.8L2125.5 1351.9L2126.5 1351.7L2127.5 1352.1L2128.5 1351.8L2129.5 1351.4"/>
<path id="asw" d="M170 1170.2L171 1170L172 1171.2L173 1170.2L174 1170.1L175 1170.2L176 1169.8L177 1169.8L178 1170.2L179 1169.8L180 1170.3L181 1169.9L182 1169.4L183 1169.5L184 1169.7L185 1169.3L186 1170L187 1169.9L188 1170.3L189 1169.7L190 1169.9L191 1170.2L192 1170.3L193 1169.6L194 1170.5L195 1169.8L196 1170.4L197 1169.9L198 1169.9L199 1169.6L200 1170L201 1170.8L202 1169.8L203 1170.5L204 1170.5L205 1169.9L206 1170.4L207 1170.5L208 1169.9L209 1169.8L210 1170.4L211 1170.1L212 1170.7L213 1170.2L214 1169.6L215 1170L216 1169.6L217 1170.3L218 1170.2L219 1169.9L220 1169.7L221 1170.3L222 1169.9L223 1170.4L224 1169.7L225 1169.9L226 1169.8L227 1169.6L228 1170.9L229 1170.6L230 1169.8L231 1170.3L232 1169.4L233 1170.4L234 1170.4L235 1169.9L236 1169.9L237 1170.1L238 1170.2L239 1169.9L240 1169.7L241 1169.9L242 1169.9L243 1170.3L244 1170L245 1170.1L246 1169.4L247 1169.9L248 1169.9L249 1169.8L250 1170L251 1169.9L252 1169.5L253 1170.3L254 1170.3L255 1169.8L256 1170.2L257 1169.7L258 1169.6L259 1169.9L260 1170.5L261 1170L262 1169.5L263 1170.1L264 1169.8L265 1169.8L266 1170.1L267 1169.4L268 1169.4L269 1169.5L270 1170.4L271 1170L272 1169.8L273 1169.8L274 1170.2L275 1170.4L276 1169.8L277 1170.1L278 1170.8L279 1170.2L280 1169.9L281 1170.1L282 1170.1L283 1170.2L284 1170.1L285 1169.8L286 1170L287 1170.1L288 1169.8L289 1170L290 1169.7L291 1170.4L292 1170.6L293 1169.7L294 1170.3L295 1170.1L296 1170L297 1169.9L298 1170.1L299 1170.4L300 1169.6L301 1170.4L302 1169.9L303 1169.6L304 1170L305 1170.2L306 1170L307 1170.1L308 1169.9L309 1169.8L310 1170.4L311 1169.7L312 1170.4L313 1170.1L314 1169.9L315 1169.9L316 1169.9L317 1170L318 1170L319 1170L320 1169.4L321 1169.3L322 1170.1L323 1169.8L324 1169.8L325 1170L326 1169.6L327 1170.6L328 1170L329 1170L330 1169.7L331 1170.3L332 1170.3L333 1170.5L334 1170.3L335 1169.7L336 1169.6L337 1170.5L338 1169.8L339 1170L340 1170L341 1170.2L342 1170.2L343 1169.7L344 1169.8L345 1169.4L346 1170.2L347 1170L348 1169.4L349 1170.4L350 1170L351 1169.7L352 1169.9L353 1169.8L354 1170.1L355 1170.1L356 1169.8L357 1170.2L358 1169.1L359 1169.9L360 1170.2L361 1170.3L362 1170.3L363 1169.7L364 1169.4L365 1169.9L366 1170.8L367 1170.1L368 1169.8L369 1169.4L370 1170.1L371 1169.9L372 1170.2L373 1170.1L374 1169.2L375 1170L376 1170.3L377 1169.8L378 1169.6L379 1169.6L380 1169.6L381 1170.8L382 1170.5L383 1169.8L384 1170.5L385 1169.6L386 1169.8L387 1169.8L388 1169.9L389 1170.2L390 1170.7L391 1170.3L392 1170L393 1170.1L394 1169.9L395 1170.1L396 1169.7L397 1170.1L398 1170.2L399 1170.3L400 1169.7L401 1170.1L402 1170.1L403 1169.7L404 1169.3L405 1169.8L406 1170.3L407 1169.9L408 1170.8L409 1170.2L410 1169.8L411 1170L412 1170.2L413 1170.2L414 1169.9L415 1170.2L416 1171L417 1170.3L418 1170.1L419 1169.8L420 1169.4L421 1170.1L422 1169.9L423 1170L424 1169.8L425 1170.3L426 1170.4L427 1169.8L428 1169.5L429 1170.1L430 1170.4L431 1170.1L432 1170.1L433 1169.5L434 1169.8L435 1170.2L436 1170.1L437 1170L438 1170.2L439 1170.3L440 1170L441 1169.7L442 1169.5L443 1170L444 1169.9L445 1169.9L446 1170.3L447 1169.7L448 1169.9L449 1170.2L450 1169.7L451 1169.2L452 1169.8L453 1170.2L454 1169.7L455 1169.9L456 1169.3L457 1170.3L458 1169.4L459 1169.7L460 1169.9L461 1170.6L462 1170L463 1169.7L464 1169.4L465 1169.8L466 1169.5L467 1169.7L468 1169.9L469 1170.3L470 1169.5L471 1170.4L472 1169.3L473 1170.6L474 1169.7L475 1169.8L476 1169.7L477 1170L478 1169.9L479 1169.8L480 1169.6L481 1169.7L482 1169.9L483 1169.7L484 1169.6L485 1169.3L486 1169.8L487 1170L488 1169.4L489 1170.1L490 1169.7L491 1169.7L492 1169.1L493 1169.8L494 1170L495 1170.2L496 1169.3L497 1169.5L498 1169.7L499 1169.6L500 1169.1L501 1169.3L502 1169.5L503 1169.2L504 1168.8L505 1169L505.5 1168L506 1168.5L506.5 1168L507 1167.9L507.5 1168.1L508 1168.1L508.5 1167.4L509 1166.9L509.5 1167L510 1166.1L510.5 1164.5L511 1164.1L511.5 1162.9L512 1161.4L512.5 1158.9L513 1156.6L513.5 1151.9L514 1145.9L514.5 1136.1L515 1124.4L515.5 1111.7L516 1105.1L516.1 1104.9L516.5 1108.6L517 1119.5L517.5 1131.5L518 1142.4L518.5 1149.2L519 1154.5L519.5 1158.3L520 1161.5L520.5 1162.3L521 1163.5L521.5 1164.9L522 1166L522.5 1166.4L523 1166.9L523.5 1166.8L524 1167.3L524.5 1168.1L525 1167.9L525.5 1167.9L526 1168.2L526.5 1168.9L527 1169.1L527.5 1168.8L528 1168.5L528.5 1169.4L529.5 1168.8L530.5 1169.1L531.5 1169.3L532.5 1169.2L533.5 1169.2L534.5 1169.9L535.5 1169.5L536.5 1168.9L537.5 1169.2L538.5 1169.9L539.5 1169.4L540.5 1169.2L541.5 1169.8L542.5 1169.7L543.5 1169.5L544.5 1169.7L545.5 1169.4L546.5 1169.6L547.5 1169.7L548.5 1169.3L549.5 1169.9L550.5 1169.1L551.5 1170.1L552.5 1169.4L553.5 1169.5L554.5 1168.9L555.5 1169.6L556.5 1169L557.5 1169.4L558.5 1169.1L559.5 1168.8L560.5 1169.6L561.5 1168.9L562.5 1168.6L563.5 1168.5L564.5 1168.5L565.5 1168.2L566.5 1168.2L567 1167.5L567.5 1167.6L568 1167.1L568.5 1166.8L569 1167L569.5 1166.1L570 1165.4L570.5 1165.6L571 1164.6L571.5 1164.3L572 1163.3L572.5 1162.2L573 1160.6L573.5 1159.1L574 1155.6L574.5 1152.7L575 1147.1L575.5 1140.1L576 1129.8L576.5 1117.1L577 1101.2L577.5 1086.5L578 1080.4L578.5 1086.8L579 1101L579.5 1117.6L580 1130.1L580.5 1139.8L581 1147.5L581.5 1152.4L582 1155.7L582.5 1158.4L583 1160L583.5 1162.2L584 1163.6L584.5 1164L585 1164.5L585.5 1164.8L586 1165.5L586.5 1166.3L587 1166.4L587.5 1166.9L588 1166.9L588.5 1167.4L589 1167.5L589.5 1167.8L590 1167.9L591 1168.2L592 1168.1L593 1168.4L594 1168.2L595 1168.6L596 1168.8L597 1169L598 1168.5L599 1168.6L600 1168.8L601 1168.6L602 1168.9L603 1169L604 1168.8L605 1169.5L606 1168.9L607 1169.1L608 1168.4L609 1169.2L610 1169L611 1168.9L612 1168.1L613 1168.7L614 1168.4L615 1168.7L616 1168.5L617 1168.2L618 1168.1L619 1168.5L620 1168.3L621 1167.2L622 1167.4L623 1167.5L624 1166.8L625 1166.7L626 1166L627 1166.1L628 1165.1L629 1163.9L629.5 1163.9L630 1163L630.5 1162.7L631 1161.2L631.5 1159.9L632 1159.5L632.5 1158L633 1155.9L633.5 1153.3L634 1152.3L634.5 1149.5L635 1145.7L635.5 1141.2L636 1135.4L636.5 1126.6L637 1115.5L637.5 1096.8L638 1069.9L638.5 1029.1L639 971.1L639.5 896.6L640 819.5L640.5 773.6L640.6 772.6L641 795.2L641.5 864.4L642 942.7L642.5 1008L643 1054.5L643.5 1087.4L644 1108.5L644.5 1122.6L645 1132.1L645.5 1139.4L646 1144.3L646.5 1147.8L647 1151.7L647.5 1153.4L648 1156.2L648.5 1157.3L649 1158.5L649.5 1159.9L650 1161.5L650.5 1161.9L651 1162.6L651.5 1162.7L652 1163.8L652.5 1164.2L653 1164.6L654 1165.2L655 1165.6L656 1167L657 1166.6L658 1167.5L659 1167.8L660 1167.9L661 1168.1L662 1168.4L663 1168.2L664 1168.5L665 1168.7L666 1168.8L667 1168.7L668 1168L669 1169L670 1168.6L671 1169.5L672 1169.6L673 1169.3L674 1169.3L675 1168.6L676 1169.3L677 1169.1L678 1170L679 1169L680 1170.2L681 1169.4L682 1168.8L683 1170.1L684 1169.5L685 1169.7L686 1170L687 1169.1L688 1169.5L689 1169.7L690 1170.1L691 1169.6L692 1169.9L693 1169.1L694 1169.9L695 1169.4L696 1169.6L697 1169.8L698 1170L699 1169.5L700 1169.9L701 1169.7L702 1170L703 1169.6L704 1170.3L705 1169.5L706 1169.5L707 1170.2L708 1169.6L709 1170L710 1170.1L711 1169.3L712 1169.7L713 1169.7L714 1169.8L715 1169.4L716 1169.9L717 1169.9L718 1169.5L719 1169.9L720 1169.9L721 1169.3L722 1169.9L723 1170.2L724 1170.1L725 1169.5L726 1169.6L727 1169.9L728 1170L729 1170.2L730 1169.9L731 1170.2L732 1169.7L733 1170.5L734 1169.9L735 1169.6L736 1169.7L737 1169.3L738 1169.7L739 1169.8L740 1170.1L741 1170.3L742 1169.6L743 1169.7L744 1170.2L745 1170.3L746 1170.2L747 1170L748 1169.6L749 1169.8L750 1169.4L751 1169.7L752 1170.3L753 1170.5L754 1169.8L755 1170.1L756 1170.4L757 1169.6L758 1169.5L759 1169.7L760 1169.2L761 1170.2L762 1169.9L763 1169.8L764 1170L765 1170.1L766 1169.9L767 1169.5L768 1170.2L769 1169.8L770 1170L771 1169.7L772 1169.9L773 1169.4L774 1170L775 1169.8L776 1170.3L777 1169.7L778 1169.7L779 1170.2L780 1169.3L781 1170.2L782 1169.9L783 1169.8L784 1170L785 1169.9L786 1169.6L787 1170.2L788 1169.7L789 1170L790 1169.9L791 1169.7L792 1169.8L793 1170.1L794 1169.9L795 1170.4L796 1170.3L797 1169.8L798 1170.3L799 1169.2L800 1170.5L801 1169.6L802 1169.6L803 1170.3L804 1169.4L805 1169.7L806 1170.1L807 1169.3L808 1169.9L809 1170.3L810 1169.7L811 1170.5L812 1169.7L813 1170.4L814 1170.1L815 1170L816 1169.9L817 1169.7L818 1170.3L819 1169.6L820 1170L821 1170.2L822 1170.1L823 1170.2L824 1169.8L825 1169.6L826 1170.1L827 1169.9L828 1170.3L829 1169.3L830 1170L831 1170.1L832 1169.8L833 1169.4L834 1170L835 1170.3L836 1169.7L837 1169.7L838 1169.6L839 1169.6L840 1169.4L841 1171L842 1169.9L843 1170.4L844 1170.4L845 1169.8L846 1170.2L847 1170.6L848 1170.4L849 1170.3L850 1169.7L851 1169.8L852 1170L853 1170.5L854 1169.7L855 1170.2L856 1170.4L857 1170.2L858 1170L859 1169.8L860 1170.2L861 1169.9L862 1170.1L863 1169.8L864 1169.8L865 1169.8L866 1169.7L867 1170.3L868 1169.5L869 1170.1L870 1169.8L871 1170.1L872 1169.4L873 1170L874 1170L875 1170.4L876 1170.3L877 1170.1L878 1170L879 1170L880 1170.3L881 1170.4L882 1170.2L883 1170.4L884 1169.5L885 1170.3L886 1170.6L887 1170L888 1169.8L889 1170.4L890 1169.4L891 1170.4L892 1169.6L893 1170.1L894 1169.6L895 1170.5L896 1170L897 1169.8L898 1170L899 1170.4L900 1170.5L901 1170.1L902 1169.9L903 1170.5L904 1170L905 1169.8L906 1170.6L907 1169.4L908 1170.1L909 1170.5L910 1170.1L911 1170.1L912 1170.3L913 1169.7L914 1170L915 1170L916 1170.3L917 1170.1L918 1170L919 1170.4L920 1170.4L921 1169.6L922 1170.8L923 1170.1L924 1169.8L925 1170.5L926 1169.1L927 1169.5L928 1170L929 1169.7L930 1169.5L931 1169.8L932 1170.3L933 1169.9L934 1170.1L935 1170L936 1169.8L937 1169.8L938 1169.5L939 1169.7L940 1169.9L941 1169.5L942 1169.4L943 1169.5L944 1169.3L944.5 1169.3L945 1168.5L945.5 1169.1L946 1168.3L946.5 1168.9L947 1168.5L947.5 1168.2L948 1167.7L948.5 1168.1L949 1167.3L949.5 1166.9L950 1165.8L950.5 1166.2L951 1164.5L951.5 1163L952 1161.6L952.5 1158.6L953 1153.8L953.5 1149.5L954 1144L954.5 1137.9L955 1135.4L955.5 1138.3L956 1143.8L956.5 1149.2L957 1154.4L957.5 1158.3L958 1161.1L958.5 1162.8L959 1164.4L959.5 1165.9L960 1165.9L960.5 1167.3L961 1167.6L961.5 1168L962 1168.3L962.5 1168.1L963 1168L963.5 1169.1L964 1168.8L964.5 1169.1L965 1169.4L965.5 1168.7L966 1169.2L966.5 1169.3L967 1169L968 1169.2L969 1169.5L970 1169.7L971 1170L972 1170L973 1170.2L974 1169.6L975 1169.9L976 1169.8L977 1169.7L978 1169.7L979 1170.3L980 1170.3L981 1169.9L982 1169L983 1169.5L984 1169.6L985 1170.5L986 1170.3L987 1169.9L988 1170.2L989 1170.1L990 1169.9L991 1169.9L992 1169.7L993 1169.6L994 1169.9L995 1169.6L996 1170.1L997 1169.9L998 1169.7L999 1170.1L1000 1169.7L1001 1169.9L1002 1169.7L1003 1170.2L1004 1170L1005 1169.9L1006 1169.9L1007 1170.1L1008 1169.8L1009 1169.4L1010 1170.5L1011 1170L1012 1170.2L1013 1169.7L1014 1169.5L1015 1169.6L1016 1170.2L1017 1169.9L1018 1169.9L1019 1169.8L1020 1169.5L1021 1170.5L1022 1169.7L1023 1169.7L1024 1169.6L1025 1170.1L1026 1170.4L1027 1170.1L1028 1170.1L1029 1169.9L1030 1170.4L1031 1170.1L1032 1170.1L1033 1169.7L1034 1170.4L1035 1170.2L1036 1169.9L1037 1169.8L1038 1170.1L1039 1169.6L1040 1170L1041 1169.8L1042 1169.7L1043 1170.4L1044 1169.7L1045 1169.4L1046 1170.5L1047 1169.8L1048 1170.4L1049 1170L1050 1169.7L1051 1169.5L1052 1169.9L1053 1170.1L1054 1169.8L1055 1169.9L1056 1169.8L1057 1170L1058 1170L1059 1169.9L1060 1169.4L1061 1169.7L1062 1169.9L1063 1169.8L1064 1169.4L1065 1169.8L1066 1169.5L1067 1169.5L1068 1170.1L1069 1169.7L1070 1170.4L1071 1170.3L1072 1169.4L1073 1170.1L1074 1169.5L1075 1170.2L1076 1170.3L1077 1170.4L1078 1170.4L1079 1169.5L1080 1170.1L1081 1169.5L1082 1170.1L1083 1170.2L1084 1169.9L1085 1170.3L1086 1169.7L1087 1169.8L1088 1169.6L1089 1169.4L1090 1170L1091 1170L1092 1169.7L1093 1169.7L1094 1169.5L1095 1170.2L1096 1170.2L1097 1169.8L1098 1169.9L1099 1169.8L1100 1169.7L1101 1170.1L1102 1170.3L1103 1169.3L1104 1170.3L1105 1169.7L1106 1169.9L1107 1169.5L1108 1169.8L1109 1169.9L1110 1169.9L1111 1170.8L1112 1169.9L1113 1169.9L1114 1169.9L1115 1170.1L1116 1170.2L1117 1170.2L1118 1170L1119 1170L1120 1169.2L1121 1170L1122 1169.7L1123 1170.1L1124 1169.8L1125 1170.2L1126 1169.9L1127 1170.2L1128 1169.3L1129 1170.3L1130 1169.5L1131 1170.5L1132 1169.5L1133 1170L1134 1169.7L1135 1170L1136 1170.3L1137 1169.7L1138 1170.1L1139 1170.2L1140 1169.6L1141 1170.2L1142 1169.8L1143 1170.2L1144 1169.6L1145 1171L1146 1169.9L1147 1169.3L1148 1170.1L1149 1169.9L1150 1169.5L1151 1169.9L1152 1169.6L1153 1170L1154 1169.7L1155 1169.6L1156 1170L1157 1170.1L1158 1170L1159 1170.1L1160 1169.9L1161 1170L1162 1170.3L1163 1170.3L1164 1170.1L1165 1170.4L1166 1169.4L1167 1170.3L1168 1169.3L1169 1169.7L1170 1169.6L1171 1170.1L1172 1170.4L1173 1169.7L1174 1169.3L1175 1170.2L1176 1169.9L1177 1169.5L1178 1170.6L1179 1170L1180 1170L1181 1170L1182 1169.8L1183 1170.1L1184 1169.9L1185 1170.3L1186 1169.4L1187 1169.9L1188 1170.2L1189 1169.5L1190 1170.1L1191 1169.6L1192 1170.2L1193 1170.3L1194 1170L1195 1169.8L1196 1169.6L1197 1169.6L1198 1169.9L1199 1169.7L1200 1169.4L1201 1169.7L1202 1169.3L1203 1170L1204 1169.9L1205 1169.6L1206 1169.9L1207 1169.4L1208 1169.8L1209 1169.3L1210 1168.8L1211 1168.4L1212 1169.5L1212.5 1168.3L1213 1168.7L1213.5 1168.9L1214 1168.4L1214.5 1168L1215 1168L1215.5 1168L1216 1167.7L1216.5 1167.5L1217 1166.6L1217.5 1166.9L1218 1166L1218.5 1165.5L1219 1164.7L1219.5 1163.5L1220 1161.5L1220.5 1159.8L1221 1157.5L1221.5 1154.4L1222 1150.9L1222.5 1146.4L1223 1143.1L1223.5 1140.7L1223.7 1140.8L1224 1141L1224.5 1145.1L1225 1149.2L1225.5 1153.7L1226 1157.6L1226.5 1160.9L1227 1162.9L1227.5 1164.2L1228 1165.2L1228.5 1165.9L1229 1166.3L1229.5 1167.2L1230 1167.5L1230.5 1168.5L1231 1168L1231.5 1168.8L1232 1168.6L1232.5 1168.6L1233 1169.1L1233.5 1168.2L1234 1168.4L1234.5 1169.7L1235 1169.3L1235.5 1169.4L1236 1169.3L1237 1169.5L1238 1169.5L1239 1169.5L1240 1169.7L1241 1169.7L1242 1169.9L1243 1169.4L1244 1169.6L1245 1170.3L1246 1169.7L1247 1169.9L1248 1169.9L1249 1169.7L1250 1170.4L1251 1170.1L1252 1169.3L1253 1170.2L1254 1169.5L1255 1169.3L1256 1169.7L1257 1170.2L1258 1169.4L1259 1170.2L1260 1169.6L1261 1170.3L1262 1170.2L1263 1169.7L1264 1169.2L1265 1169.9L1266 1169.2L1267 1170.2L1268 1169.8L1269 1170.3L1270 1169.8L1271 1169.6L1272 1170.1L1273 1169.6L1274 1170L1275 1169.9L1276 1169.7L1277 1169.5L1278 1170.1L1279 1170.5L1280 1169.9L1281 1169.7L1282 1169.8L1283 1169.6L1284 1169.3L1285 1170.3L1286 1170L1287 1169.8L1288 1170.5L1289 1170L1290 1169.9L1291 1170.2L1292 1169.8L1293 1170.1L1294 1170.1L1295 1170.2L1296 1170.1L1297 1170.4L1298 1170.2L1299 1170.2L1300 1170.2L1301 1169.8L1302 1169.7L1303 1169.9L1304 1170.3L1305 1169.5L1306 1170.1L1307 1169.7L1308 1169.8L1309 1169.7L1310 1169.4L1311 1170.4L1312 1169.9L1313 1170L1314 1170L1315 1169.1L1316 1170.4L1317 1170.5L1318 1169.9L1319 1170L1320 1170.2L1321 1170.2L1322 1170.2L1323 1170.2L1324 1169.9L1325 1170.1L1326 1169.6L1327 1169.9L1328 1170.3L1329 1170.4L1330 1170.1L1331 1170.2L1332 1169.8L1333 1170.2L1334 1169.9L1335 1169.6L1336 1170.3L1337 1170L1338 1170L1339 1169.6L1340 1169.9L1341 1170L1342 1170.1L1343 1170.1L1344 1170.1L1345 1170.2L1346 1170.3L1347 1170.3L1348 1169.6L1349 1170L1350 1170.3L1351 1170.2L1352 1169.8L1353 1169.9L1354 1169.8L1355 1169.9L1356 1169.2L1357 1169.2L1358 1169.6L1359 1169.3L1360 1169.5L1361 1169.4L1362 1169.8L1363 1169.7L1364 1170.1L1365 1169.7L1366 1169.5L1367 1169.5L1368 1169.4L1369 1169.1L1370 1168.9L1371 1169.7L1372 1168.9L1372.5 1168.8L1373 1168.5L1373.5 1168.6L1374 1168.3L1374.5 1168.3L1375 1167.8L1375.5 1167.7L1376 1168.6L1376.5 1167.7L1377 1167.5L1377.5 1167.3L1378 1166.5L1378.5 1165.8L1379 1164.6L1379.5 1163.8L1380 1161.5L1380.5 1159.3L1381 1156.1L1381.5 1152.5L1382 1147.1L1382.5 1142L1383 1138.7L1383.3 1138L1383.5 1138L1384 1141.1L1384.5 1145.9L1385 1151.2L1385.5 1155.8L1386 1159L1386.5 1161.8L1387 1163.3L1387.5 1164.2L1388 1165.3L1388.5 1165.6L1389 1167L1389.5 1167L1390 1167.8L1390.5 1167.8L1391 1168.2L1391.5 1168.3L1392 1168.5L1392.5 1168.8L1393 1168.7L1393.5 1168.9L1394 1168.9L1394.5 1169L1395 1169L1395.5 1168.9L1396.5 1169.3L1397.5 1169.6L1398.5 1169.5L1399.5 1169.3L1400.5 1169.2L1401.5 1170.3L1402.5 1170.1L1403.5 1169.4L1404.5 1169.3L1405.5 1169.3L1406.5 1170.1L1407.5 1169.3L1408.5 1169.8L1409.5 1169.5L1410.5 1169.9L1411.5 1169.5L1412.5 1169.8L1413.5 1169.8L1414.5 1170.1L1415.5 1170.3L1416.5 1170L1417.5 1170L1418.5 1170.4L1419.5 1169.4L1420.5 1170.5L1421.5 1169.8L1422.5 1169.8L1423.5 1170.3L1424.5 1169.8L1425.5 1169.9L1426.5 1170.2L1427.5 1170.3L1428.5 1169.6L1429.5 1170.1L1430.5 1170L1431.5 1169.9L1432.5 1170.4L1433.5 1170.7L1434.5 1170.2L1435.5 1170.2L1436.5 1169.7L1437.5 1169.9L1438.5 1169.8L1439.5 1170.1L1440.5 1170L1441.5 1169.7L1442.5 1169.9L1443.5 1169.6L1444.5 1169.8L1445.5 1169.9L1446.5 1170L1447.5 1169.9L1448.5 1170L1449.5 1169.9L1450.5 1169.7L1451.5 1170.2L1452.5 1169.8L1453.5 1169.8L1454.5 1170.3L1455.5 1169.9L1456.5 1170.1L1457.5 1170.5L1458.5 1169.7L1459.5 1169.6L1460.5 1170.6L1461.5 1169.8L1462.5 1169.7L1463.5 1170.6L1464.5 1170L1465.5 1169.9L1466.5 1169.3L1467.5 1169.9L1468.5 1169.7L1469.5 1170.1L1470.5 1169.3L1471.5 1170L1472.5 1170.4L1473.5 1170L1474.5 1169.7L1475.5 1169.1L1476.5 1169.8L1477.5 1169.7L1478.5 1169.6L1479.5 1169.5L1480.5 1170.3L1481.5 1170.3L1482.5 1169.6L1483.5 1169.7L1484.5 1169.6L1485.5 1169.5L1486.5 1170L1487.5 1170L1488.5 1170.2L1489.5 1169.9L1490.5 1169.9L1491.5 1170.3L1492.5 1170L1493.5 1169.9L1494.5 1169.2L1495.5 1169.6L1496.5 1169.5L1497.5 1169.6L1498.5 1169.8L1499.5 1169L1500.5 1169.3L1501.5 1168.1L1502.5 1168.5L1503.5 1167.6L1504.5 1168.3L1505.5 1168.1L1506.5 1168.7L1507.5 1168.6L1508.5 1169.7L1509.5 1169.5L1510.5 1168.9L1511.5 1169.8L1512.5 1169.5L1513.5 1169.3L1514.5 1169.6L1515.5 1169.8L1516.5 1169.7L1517.5 1169.7L1518.5 1169.9L1519.5 1170L1520.5 1169.2L1521.5 1169.8L1522.5 1169.1L1523.5 1169.3L1524.5 1169L1525.5 1169.2L1526.5 1169.8L1527.5 1169.4L1528.5 1169.7L1529 1168.9L1529.5 1169.5L1530 1168.2L1530.5 1169.1L1531 1169.1L1531.5 1168.8L1532 1168.3L1532.5 1168.1L1533 1168L1533.5 1168.4L1534 1167.7L1534.5 1166.9L1535 1165.9L1535.5 1166L1536 1164.5L1536.5 1163.7L1537 1161.1L1537.5 1158.7L1538 1155.9L1538.5 1151.8L1539 1147.4L1539.5 1143.1L1540 1141.4L1540.5 1143.3L1541 1147L1541.5 1151.4L1542 1155.8L1542.5 1159.5L1543 1161.7L1543.5 1163.5L1544 1165L1544.5 1165.9L1545 1166.1L1545.5 1166.9L1546 1167.5L1546.5 1168.3L1547 1168.1L1547.5 1168L1548 1168.4L1548.5 1168.6L1549 1168.3L1549.5 1168.9L1550 1169.8L1550.5 1168.8L1551 1169.2L1551.5 1169.5L1552 1169.1L1553 1168.7L1554 1169.5L1555 1169.2L1556 1169.2L1557 1169.6L1558 1169.5L1559 1169.8L1560 1169.9L1561 1169.2L1562 1169.8L1563 1169.4L1564 1169.5L1565 1169.9L1566 1169.3L1567 1169.1L1567.5 1168.8L1568 1169.7L1568.5 1169.2L1569 1169.1L1569.5 1168.7L1570 1169.3L1570.5 1168L1571 1168.8L1571.5 1168.9L1572 1168.6L1572.5 1167.9L1573 1167.6L1573.5 1167L1574 1166.3L1574.5 1165.6L1575 1164.4L1575.5 1163.1L1576 1160.9L1576.5 1158.4L1577 1155.2L1577.5 1151.6L1578 1147.4L1578.5 1145.7L1578.6 1145.4L1579 1146.7L1579.5 1149.3L1580 1153.1L1580.5 1156.7L1581 1159.9L1581.5 1162.3L1582 1164.5L1582.5 1165.4L1583 1166.2L1583.5 1166.4L1584 1167.1L1584.5 1167.5L1585 1168.9L1585.5 1168.7L1586 1168.9L1586.5 1168.2L1587 1168.7L1587.5 1168.8L1588 1169.1L1588.5 1168.6L1589 1169.4L1589.5 1169.2L1590 1168.7L1590.5 1169.2L1591 1169.8L1592 1169.7L1593 1169.8L1594 1169.1L1595 1169.9L1596 1169.8L1597 1169.8L1598 1169.3L1599 1169.3L1600 1170.2L1601 1170L1602 1170.2L1603 1170.3L1604 1169.7L1605 1169.7L1606 1169.4L1607 1170.3L1608 1169.9L1609 1169.8L1610 1169.7L1611 1169.9L1612 1170.7L1613 1169.7L1614 1169.3L1615 1170.2L1616 1169.9L1617 1170.5L1618 1170L1619 1170.2L1620 1169.4L1621 1169.8L1622 1169.8L1623 1169.9L1624 1170.1L1625 1169.9L1626 1169.8L1627 1170.4L1628 1170.2L1629 1170.6L1630 1169.7L1631 1169.7L1632 1169.3L1633 1169.6L1634 1169.8L1635 1170.3L1636 1169.4L1637 1169.3L1638 1169.7L1639 1169.6L1640 1169.8L1641 1169.4L1642 1169.4L1643 1169.2L1644 1169.2L1645 1168L1646 1168.2L1647 1166.8L1648 1167.3L1649 1167.1L1650 1168.2L1651 1168.4L1652 1169.2L1653 1169.5L1654 1169L1655 1169.9L1656 1169.7L1657 1169.5L1658 1169.9L1659 1169.1L1660 1169.4L1661 1170.2L1662 1169.8L1663 1170.2L1664 1170L1665 1170.2L1666 1170.2L1667 1170.1L1668 1170L1669 1169.7L1670 1170.1L1671 1170.6L1672 1169.8L1673 1170.2L1674 1170L1675 1170L1676 1170.3L1677 1169.6L1678 1170.6L1679 1169.8L1680 1169.4L1681 1169.4L1682 1170L1683 1170.5L1684 1170L1685 1169.8L1686 1170.8L1687 1169.6L1688 1170L1689 1170.2L1690 1170.1L1691 1170.1L1692 1169.7L1693 1170.5L1694 1170L1695 1170.2L1696 1169.7L1697 1169.4L1698 1170.6L1699 1170L1700 1169.9L1701 1169.7L1702 1169.9L1703 1170L1704 1170L1705 1170L1706 1170L1707 1169.6L1708 1170.1L1709 1170.2L1710 1169.8L1711 1169.8L1712 1170L1713 1169.5L1714 1170L1715 1169.8L1716 1170.2L1717 1170.7L1718 1169.9L1719 1169.6L1720 1170.1L1721 1170L1722 1169.9L1723 1169.9L1724 1169.9L1725 1170.2L1726 1169.9L1727 1170.1L1728 1170.2L1729 1170.4L1730 1170.2L1731 1170.3L1732 1170.6L1733 1169.9L1734 1170.4L1735 1170.3L1736 1169.6L1737 1169.8L1738 1170.2L1739 1169.2L1740 1169.6L1741 1170.5L1742 1170.1L1743 1170.4L1744 1170.4L1745 1169.6L1746 1169.6L1747 1170.6L1748 1169.4L1749 1169.6L1750 1170.1L1751 1169.6L1752 1169.9L1753 1170.1L1754 1170.1L1755 1169.9L1756 1170.2L1757 1170.1L1758 1170.1L1759 1170.2L1760 1169.9L1761 1169.7L1762 1170.2L1763 1169.7L1764 1170.4L1765 1169.5L1766 1169.9L1767 1170.4L1768 1169.9L1769 1169.8L1770 1170.6L1771 1170.1L1772 1170.2L1773 1170L1774 1170.4L1775 1170.4L1776 1169.7L1777 1169.6L1778 1169.1L1779 1169.9L1780 1170.1L1781 1170.5L1782 1169.8L1783 1170.1L1784 1169.8L1785 1169.5L1786 1169.4L1787 1169.6L1788 1170.1L1789 1169.8L1790 1169.2L1791 1169.9L1792 1169.5L1793 1168.9L1794 1168.5L1795 1168.8L1796 1167.8L1797 1166.9L1798 1166.7L1799 1166.2L1800 1167.5L1801 1168.8L1802 1168.6L1803 1169.2L1804 1169.8L1805 1169.7L1806 1169.6L1807 1169.4L1808 1169.6L1809 1169.6L1810 1170.1L1811 1169.4L1812 1169.7L1813 1169.9L1814 1170.2L1815 1169.9L1816 1169.9L1817 1170L1818 1169.6L1819 1170.6L1820 1169.5L1821 1169.9L1822 1169.7L1823 1170.1L1824 1170.2L1825 1170.3L1826 1169.8L1827 1169.6L1828 1169.5L1829 1170.1L1830 1170.2L1831 1170.7L1832 1170.1L1833 1169.8L1834 1170.3L1835 1169.6L1836 1170.5L1837 1170.1L1838 1170.1L1839 1169.7L1840 1170.1L1841 1170.3L1842 1170.2L1843 1170L1844 1169.9L1845 1169.7L1846 1169.4L1847 1170.4L1848 1170.1L1849 1169.7L1850 1170.1L1851 1170L1852 1169.8L1853 1169.6L1854 1170.4L1855 1170L1856 1169.5L1857 1169.6L1858 1169.6L1859 1170L1860 1169.7L1861 1170.3L1862 1169.9L1863 1169.6L1864 1170L1865 1169.7L1866 1169.7L1867 1169.8L1868 1169.5L1869 1169.8L1870 1170.1L1871 1170L1872 1170L1873 1170.2L1874 1170.2L1875 1170.3L1876 1169.6L1877 1170.1L1878 1170L1879 1169.8L1880 1170.5L1881 1169.7L1882 1170L1883 1170.5L1884 1170L1885 1170L1886 1169.7L1887 1170.4L1888 1169.9L1889 1170.1L1890 1169.9L1891 1170.2L1892 1169.9L1893 1169.6L1894 1169.4L1895 1170.7L1896 1169.6L1897 1170.2L1898 1170.5L1899 1169.1L1900 1169.2L1901 1169.4L1902 1168.9L1903 1169L1904 1169.1L1905 1169.5L1906 1169.8L1907 1170L1908 1169.6L1909 1169.8L1910 1169.8L1911 1170L1912 1169.8L1913 1170.1L1914 1169.3L1915 1170L1916 1170.1L1917 1170.2L1918 1169.8L1919 1170.2L1920 1170.1L1921 1170.1L1922 1169.7L1923 1169.4L1924 1170.5L1925 1170L1926 1170.1L1927 1169.5L1928 1170L1929 1169.8L1930 1169.8L1931 1170.6L1932 1169.4L1933 1169.9L1934 1170L1935 1170.6L1936 1170.2L1937 1169.9L1938 1169.9L1939 1168.8L1940 1170.2L1941 1170.1L1942 1170.4L1943 1169.7L1944 1169.9L1945 1170.2L1946 1170.1L1947 1169.9L1948 1170.1L1949 1170L1950 1169.8L1951 1170.3L1952 1169.5L1953 1169.7L1954 1169.3L1955 1170.4L1956 1169.9L1957 1170.3L1958 1170.3L1959 1170L1960 1169.9L1961 1170L1962 1170.1L1963 1169.6L1964 1170.3L1965 1169.6L1966 1169.9L1967 1170.1L1968 1169.8L1969 1170.3L1970 1169.7L1971 1170.2L1972 1170L1973 1170.2L1974 1170.5L1975 1169.7L1976 1169.6L1977 1170.4L1978 1170.4L1979 1170.2L1980 1170L1981 1170.3L1982 1169.6L1983 1170L1984 1169.9L1985 1170.2L1986 1169.5L1987 1170.4L1988 1170.6L1989 1169.7L1990 1169.9L1991 1169.1L1992 1170.7L1993 1170.2L1994 1169.9L1995 1170.1L1996 1170.2L1997 1170.6L1998 1169.9L1999 1169.9L2000 1169.7L2001 1170.7L2002 1170.8L2003 1170L2004 1170.6L2005 1169.5L2006 1170.3L2007 1169.7L2008 1170L2009 1170.4L2010 1170.4L2011 1170.1L2012 1170L2013 1170.2L2014 1169.6L2015 1170.2L2016 1169.8L2017 1170L2018 1170.2L2019 1170L2020 1169.4L2021 1169.7L2022 1169.8L2023 1169.7L2024 1170.1L2025 1169.9L2026 1169.8L2027 1170L2028 1169.7L2029 1170L2030 1170.2L2031 1169.7L2032 1170.1L2033 1170.2L2034 1170.3L2035 1170.3L2036 1170.5L2037 1169.4L2038 1170L2039 1169.9L2040 1169.8L2041 1169.8L2042 1170.1L2043 1170.1L2044 1170L2045 1169.9L2046 1170.2L2047 1169.8L2048 1169.5L2049 1170.5L2050 1170.2L2051 1170.3L2052 1170.3L2053 1169.6L2054 1170L2055 1170.2L2056 1170.2L2057 1169.6L2058 1170.2L2059 1169.9L2060 1169.9L2061 1170.5L2062 1169.6L2063 1170.8L2064 1169.9L2065 1170.2L2066 1169.9L2067 1170L2068 1169.4L2069 1170.5L2070 1169.8L2071 1169.7L2072 1169.7L2073 1169.5L2074 1170.8L2075 1170.3L2076 1170.3L2077 1169.8L2078 1170.1L2079 1170.5L2080 1169.8L2081 1169.9L2082 1169.7L2083 1169.8L2084 1169.9L2085 1170L2086 1169.7L2087 1169.9L2088 1170.3L2089 1169.6L2090 1169.9L2091 1169.6L2092 1170.1L2093 1170.6L2094 1169.9L2095 1170.8L2096 1169.7L2097 1169.9L2098 1169.7L2099 1170.2L2100 1169.8L2101 1170L2102 1169.9L2103 1170.1L2104 1169.8L2105 1169.9L2106 1170L2107 1170.1L2108 1169.9L2109 1170L2110 1169.5L2111 1170.1L2112 1170.2L2113 1170.2L2114 1169.9L2115 1170.3L2116 1169.9L2117 1170.3L2118 1170L2119 1169.9L2120 1170.6L2121 1169.7L2122 1169.6L2123 1169.6L2124 1170L2125 1169.7L2126 1170.1L2127 1170.1L2128 1169.6L2129 1169.7L2130 1169.8"/>
<path id="sol" d="M170 732.1L171 732.3L172 732.6L173 732.3L174 732.1L175 731.9L176 732.7L177 732.4L178 732.2L179 732.1L180 731.6L181 732.5L182 732.1L183 732.4L184 732.9L185 732.3L186 732.4L187 732.8L188 732.4L189 732.5L190 732.1L191 732.2L192 731.9L193 732.8L194 732.9L195 732.3L196 732.4L197 732.4L198 733.4L199 732.8L200 732.5L201 732.7L202 732.9L203 732.2L204 732.7L205 732.7L206 732.5L207 732.8L208 732.9L209 732.5L210 732.4L211 732.8L212 732.6L213 732.6L214 733.2L215 732.6L216 732.5L217 732.1L218 732.6L219 732.6L220 732.7L221 732.7L222 732.7L223 732.6L224 732.6L225 732.7L226 732.3L227 732.2L228 732.2L229 732.6L230 731.9L231 732.4L232 732.5L233 732.6L234 732.2L235 732.5L236 732.5L237 732.3L238 732.5L239 732.5L240 732.2L241 732.4L242 732.2L243 733.1L244 732.4L245 732.3L246 732L247 732.5L248 732.6L249 732.5L250 732.1L251 732.2L252 732.2L253 732.6L254 732.2L255 732.5L256 733.1L257 731.9L258 732.4L259 732.5L260 732L261 732.9L262 732.4L263 732.6L264 732.7L265 733L266 732.3L267 732.3L268 732.1L269 732.1L270 733.1L271 732.4L272 731.9L273 732.7L274 733.1L275 732.2L276 732.5L277 732.1L278 731.9L279 732.5L280 732.1L281 732.1L282 732.5L283 732.6L284 732.4L285 732.9L286 732.3L287 732.4L288 732.8L289 733.2L290 733.2L291 732.8L292 732.6L293 732.1L294 733L295 732.5L296 733.3L297 732.5L298 731.9L299 732.9L300 732.6L301 732.3L302 732.6L303 732.5L304 732.6L305 731.9L306 732.5L307 732.7L308 732.1L309 732.9L310 732.5L311 731.8L312 733L313 732.4L314 732.5L315 732.4L316 733.2L317 732.5L318 732.3L319 732.3L320 732.7L321 732.7L322 732.3L323 732.8L324 732.3L325 732.6L326 732.7L327 732.6L328 732.6L329 732.6L330 732.4L331 732.6L332 732.6L333 732.1L334 732L335 732.6L336 732.5L337 732.6L338 732.8L339 732.6L340 732.3L341 732.7L342 732.3L343 733.1L344 732.9L345 732.5L346 732.3L347 732.7L348 732.5L349 732.3L350 732.7L351 732.6L352 732.8L353 732.5L354 733.2L355 733.1L356 732L357 731.8L358 732.2L359 733L360 732.7L361 732.6L362 732.6L363 732.1L364 732.6L365 732.2L366 732.6L367 732.4L368 732.3L369 732.3L370 732.7L371 733.1L372 731.9L373 732.7L374 732.4L375 733L376 732.9L377 732.2L378 732.5L379 733L380 733.1L381 732.3L382 732.2L383 732.6L384 732.9L385 732.8L386 732.6L387 732.7L388 732.7L389 732.5L390 732.2L391 732.7L392 732.6L393 732.8L394 732.5L395 732.3L396 732.7L397 732.8L398 733.1L399 732.1L400 732.4L401 732.4L402 733.2L403 731.7L404 732.8L405 732.2L406 732.2L407 732.8L408 732.7L409 731.5L410 732.1L411 732.5L412 732.3L413 732.9L414 732.2L415 732.4L416 731.8L417 732.7L418 732.5L419 732.7L420 732.3L421 733.1L422 732.3L423 733.1L424 733.1L425 732.2L426 732.5L427 732.3L428 731.9L429 732.7L430 732.5L431 732.9L432 733L433 731.9L434 732.4L435 732.6L436 732.7L437 732.5L438 732.2L439 732.4L440 732.7L441 732L442 732L443 732L444 732.2L445 732.9L446 732.3L447 732.7L448 732.9L449 732.8L450 732.5L451 732.4L452 732.4L453 732.3L454 732.2L455 732.6L456 732.7L457 732.2L458 732.1L459 732.4L460 732.4L461 732.7L462 732.5L463 732.4L464 731.9L465 732.2L466 732.3L467 732.2L468 732.5L469 732.4L470 732.1L471 732.5L472 732.7L473 733.1L474 732.3L475 732.2L476 732.6L477 732.9L478 732.1L479 732.5L480 732.2L481 732.6L482 732.1L483 732.1L484 732.2L485 732.2L486 731.8L487 732.1L488 731.9L489 732.8L490 732.6L491 731.9L492 731.9L493 732.2L494 731.8L495 731.8L496 732.1L497 732.2L498 731.9L499 732.2L500 731.6L501 731.5L502 731.2L503 731L504 730.7L505 731.1L505.5 730.8L506 730.3L506.5 730.1L507 729.6L507.5 729.7L508 729.1L508.5 728.7L509 728.1L509.5 727.1L510 726.7L510.5 726.4L511 724.3L511.5 722.3L512 719.6L512.5 714.5L513 706.4L513.5 693.5L514 674.4L514.5 649.3L515 618.9L515.5 591.7L516 577.2L516.1 577.2L516.5 583.8L517 608L517.5 637.4L518 665.6L518.5 686.4L519 702.9L519.5 711.6L520 717.9L520.5 721.3L521 723.8L521.5 725.9L522 726.7L522.5 727.2L523 728.2L523.5 729.1L524 729.2L524.5 729.3L525 729.8L525.5 730.1L526 729.6L526.5 730.2L527 730.6L527.5 731.4L528 731.1L528.5 731.1L529.5 730.7L530.5 731.2L531.5 731L532.5 731.7L533.5 731.5L534.5 732L535.5 731.8L536.5 731.9L537.5 732.1L538.5 732.3L539.5 731.9L540.5 731.9L541.5 732.1L542.5 733.1L543.5 731.9L544.5 731.9L545.5 732.3L546.5 731.7L547.5 732.4L548.5 731.8L549.5 732.1L550.5 732.1L551.5 731.9L552.5 732.4L553.5 732.2L554.5 732.6L555.5 732.4L556.5 732.1L557.5 732.5L558.5 732.4L559.5 732.3L560.5 732.3L561.5 732.6L562.5 732L563.5 732.6L564.5 732.2L565.5 732.3L566.5 732.4L567 732.9L567.5 731.7L568 731.6L568.5 732.3L569 731.8L569.5 731.9L570 731.3L570.5 732.1L571 731.8L571.5 731.1L572 731.8L572.5 731.3L573 730.9L573.5 730.2L574 730.8L574.5 729.1L575 728.2L575.5 725.6L576 722.3L576.5 718.8L577 714L577.5 709.9L578 707.9L578.5 709.9L579 714L579.5 718.9L580 722.6L580.5 725.9L581 728.2L581.5 728.6L582 730.3L582.5 731.2L583 731.3L583.5 731.4L584 731.7L584.5 732L585 731.1L585.5 731.5L586 731.5L586.5 731.4L587 732.2L587.5 731.7L588 732L588.5 732.2L589 732.4L589.5 731.6L590 731.6L591 731.5L592 732.3L593 731.9L594 732.3L595 732.5L596 732.8L597 731.9L598 732.2L599 732.2L600 731.5L601 732.4L602 732.7L603 731.8L604 732.4L605 732.3L606 732.2L607 731.8L608 731.8L609 732.9L610 732.5L611 732.1L612 732.4L613 731.7L614 732.2L615 731.8L616 731.1L617 731.6L618 732.1L619 732.1L620 731.9L621 731.6L622 731.7L623 730.9L624 731.3L625 732.2L626 731.1L627 730.6L628 731.2L629 730.2L629.5 729.9L630 729.8L630.5 729.6L631 728.8L631.5 728.9L632 728.3L632.5 727.4L633 727.4L633.5 726.6L634 725.6L634.5 724.6L635 723.7L635.5 720.6L636 719.2L636.5 714.9L637 708.1L637.5 696.9L638 679.1L638.5 653.1L639 617.4L639.5 577.4L640 538.5L640.5 519L640.6 518.1L641 528.4L641.5 560.8L642 601.1L642.5 639.9L643 669.4L643.5 690.9L644 704.3L644.5 712.3L645 717.2L645.5 720.6L646 722.7L646.5 724.1L647 725L647.5 726.4L648 726.8L648.5 727.1L649 727.7L649.5 729.3L650 729L650.5 729.1L651 729.4L651.5 729.8L652 730.1L652.5 730.3L653 730.8L654 730.6L655 731.1L656 731.2L657 731.2L658 731.7L659 731.7L660 731.4L661 732L662 731.7L663 731.4L664 732.6L665 732.5L666 731.4L667 732.1L668 732.2L669 732L670 731.9L671 732.3L672 732.3L673 732.1L674 732.5L675 731.7L676 731.4L677 732.5L678 732.8L679 731.7L680 731.9L681 733L682 732.3L683 732.7L684 732.7L685 732.4L686 732L687 732.9L688 732.5L689 732L690 732L691 732.4L692 731.8L693 733.1L694 732.6L695 732.7L696 732.3L697 732.6L698 731.6L699 732.1L700 732.5L701 732L702 732.1L703 732L704 732.7L705 732.7L706 732.3L707 732.6L708 732.3L709 731.9L710 732.1L711 732.2L712 732.6L713 732.4L714 732.7L715 732.2L716 732.7L717 732.5L718 732.9L719 732.5L720 732.7L721 731.7L722 732.6L723 732.4L724 732.7L725 732.5L726 732L727 733.1L728 733.1L729 732.6L730 732.9L731 732.5L732 733.1L733 732.1L734 732.8L735 732.6L736 732L737 732.4L738 732.7L739 732.1L740 732.3L741 732.4L742 732.3L743 732.5L744 732.5L745 732.5L746 732.3L747 732.5L748 732.1L749 732.9L750 732.3L751 732.6L752 732.4L753 732.7L754 732.3L755 733.1L756 732.6L757 732.5L758 733L759 732.8L760 732.5L761 732.1L762 732.6L763 732.6L764 732.2L765 732.6L766 732.4L767 732.7L768 732.4L769 732.1L770 731.8L771 732.2L772 731.9L773 733.2L774 732.9L775 733L776 732.6L777 732.7L778 732L779 732.4L780 732L781 732.7L782 732.5L783 733L784 732.2L785 732.6L786 732.8L787 732.3L788 732.6L789 732.9L790 732L791 732.5L792 732.4L793 732.4L794 731.7L795 732.3L796 731.8L797 733L798 732.4L799 732.5L800 732.2L801 732.5L802 732.2L803 732.5L804 732.8L805 732.5L806 732.6L807 732.7L808 732.7L809 732.5L810 732.6L811 732.4L812 731.9L813 732.2L814 733L815 732.6L816 732.4L817 732.1L818 732.3L819 732.8L820 733.1L821 732.6L822 732.1L823 731.9L824 732.4L825 733.1L826 732.7L827 732.2L828 732.5L829 732.5L830 732.9L831 733L832 732.9L833 731.9L834 732.9L835 733.1L836 732.3L837 732.7L838 732.7L839 732L840 731.9L841 732.3L842 732.3L843 732.6L844 732.2L845 732.2L846 732.3L847 732.9L848 732.4L849 732.9L850 732.8L851 732.3L852 732.6L853 732.2L854 732.5L855 732.7L856 732.4L857 732.5L858 732.5L859 732.3L860 732.9L861 732L862 732.5L863 732.1L864 732.3L865 732.5L866 733.2L867 732.4L868 732.4L869 732.6L870 732.3L871 732.1L872 732.7L873 732.7L874 732.4L875 732.4L876 732.9L877 732.3L878 732.2L879 732.2L880 731.5L881 732.8L882 732.6L883 732.7L884 731.9L885 732.8L886 732.4L887 732.5L888 733L889 732.8L890 732L891 732.3L892 732.5L893 732.4L894 732.2L895 732.5L896 732.5L897 732.3L898 732.8L899 732.1L900 732.4L901 732L902 732.5L903 732.7L904 733L905 732.2L906 732L907 732.1L908 732.3L909 732.7L910 732.1L911 732.4L912 733.1L913 732.6L914 732.7L915 732.6L916 732.2L917 732.9L918 733.1L919 732.4L920 732.4L921 732.3L922 732.7L923 732.4L924 733L925 732.5L926 732.6L927 732.7L928 732.1L929 731.8L930 732.5L931 732.2L932 731.8L933 732.3L934 732.7L935 732.2L936 732.7L937 732.2L938 732.3L939 731.6L940 732L941 732.3L942 732.3L943 731.8L944 732.3L944.5 733.1L945 732.5L945.5 732.2L946 731.6L946.5 731.5L947 731.9L947.5 731.5L948 732.1L948.5 731.4L949 731.5L949.5 731.3L950 731.1L950.5 730.6L951 730L951.5 729.2L952 727.9L952.5 725.6L953 722.3L953.5 718.9L954 715.3L954.5 712.2L955 711L955.5 712.4L956 716L956.5 719.2L957 722.5L957.5 725.8L958 728L958.5 729.3L959 729.9L959.5 730.8L960 731.5L960.5 730.9L961 731.5L961.5 731.5L962 732.1L962.5 732.4L963 731.9L963.5 732.1L964 732.4L964.5 732.6L965 732.9L965.5 732.1L966 733L966.5 732.3L967 732.5L968 732.1L969 732.6L970 732.2L971 732.6L972 732.2L973 732.5L974 732L975 732L976 732.4L977 732.6L978 732.6L979 732.5L980 732L981 732.4L982 733L983 732.2L984 732.6L985 732.7L986 732.5L987 732.6L988 732.9L989 732.5L990 733.3L991 732.2L992 732.7L993 732.5L994 732.1L995 733L996 732.8L997 732.7L998 732.9L999 732.1L1000 732.7L1001 732.8L1002 732.4L1003 732.3L1004 732.8L1005 732.1L1006 732.3L1007 732.7L1008 733.1L1009 732.9L1010 732.6L1011 732.9L1012 732.3L1013 732.1L1014 732.6L1015 732.2L1016 732.4L1017 732.3L1018 732.3L1019 732L1020 732L1021 732.6L1022 732.5L1023 732.4L1024 732.5L1025 732.7L1026 732.3L1027 731.9L1028 732.6L1029 733.2L1030 732.6L1031 732.8L1032 732.7L1033 732.3L1034 732.6L1035 732.4L1036 732.3L1037 733.1L1038 732.4L1039 732.4L1040 732.1L1041 732.5L1042 733.2L1043 732.6L1044 733.2L1045 732.6L1046 732.3L1047 732L1048 732.3L1049 732.7L1050 731.7L1051 732.5L1052 732.8L1053 732.7L1054 731.8L1055 732L1056 732.3L1057 731.7L1058 732.4L1059 732.2L1060 732.6L1061 732.5L1062 732.5L1063 732.4L1064 732.6L1065 732.6L1066 731.9L1067 732.7L1068 732.6L1069 732.1L1070 732.3L1071 732.7L1072 732.2L1073 732.6L1074 732L1075 732.4L1076 733.1L1077 732.9L1078 732.9L1079 733L1080 732.5L1081 732.5L1082 732.8L1083 732.4L1084 732L1085 732.8L1086 732.9L1087 732.7L1088 732.7L1089 732.2L1090 732.7L1091 732.5L1092 732.6L1093 732.3L1094 732.3L1095 732L1096 732.5L1097 732L1098 731.9L1099 732.3L1100 732.4L1101 732.2L1102 732.9L1103 732.7L1104 732L1105 732.2L1106 732.2L1107 733.4L1108 732.2L1109 732.3L1110 732.6L1111 732.6L1112 732.4L1113 733L1114 731.9L1115 732.8L1116 732.2L1117 733L1118 732.9L1119 732.4L1120 732.5L1121 732.2L1122 732.1L1123 732.5L1124 731.7L1125 733L1126 732L1127 733.2L1128 732.4L1129 732.2L1130 732.1L1131 732.6L1132 731.7L1133 732.6L1134 732.2L1135 732.1L1136 732.2L1137 732.3L1138 732.7L1139 732.7L1140 732.6L1141 731.9L1142 732.9L1143 732.5L1144 732.5L1145 732L1146 732.7L1147 732.3L1148 732.6L1149 732.7L1150 733L1151 732.5L1152 731.9L1153 732.6L1154 732L1155 732.4L1156 732L1157 732.8L1158 733.1L1159 731.6L1160 732L1161 732.2L1162 731.6L1163 732L1164 732.3L1165 732.4L1166 731.7L1167 732.3L1168 732.5L1169 732.6L1170 732L1171 732L1172 732L1173 732.8L1174 732.5L1175 731.8L1176 732.4L1177 732.1L1178 732L1179 732.4L1180 732.1L1181 732.6L1182 732.7L1183 732L1184 732.4L1185 732.6L1186 732L1187 731.9L1188 732L1189 732.2L1190 731.5L1191 732.2L1192 731.8L1193 732.2L1194 732L1195 732.8L1196 731.8L1197 732.1L1198 731.8L1199 732.1L1200 731.7L1201 730.9L1202 730.8L1203 731L1204 731.1L1205 731.6L1206 730.7L1207 730.9L1208 730.3L1209 730.3L1210 729.7L1211 729.3L1212 728.8L1212.5 728.1L1213 728.6L1213.5 727.9L1214 727.1L1214.5 726.5L1215 726.2L1215.5 725.4L1216 724.6L1216.5 723.4L1217 722.8L1217.5 720.8L1218 718.5L1218.5 716.1L1219 712.8L1219.5 708.2L1220 701.7L1220.5 693.6L1221 683L1221.5 670.5L1222 655.8L1222.5 639.4L1223 625.8L1223.5 617.8L1223.7 616.7L1224 618.8L1224.5 630.5L1225 647.3L1225.5 666L1226 683.2L1226.5 696.9L1227 707.3L1227.5 713.6L1228 719.6L1228.5 722.1L1229 724.5L1229.5 725.6L1230 726.9L1230.5 727.4L1231 728.3L1231.5 728.9L1232 729.5L1232.5 729.6L1233 729.7L1233.5 729.5L1234 729.8L1234.5 730.2L1235 730.5L1235.5 731.2L1236 730.6L1237 731.2L1238 731.4L1239 731.8L1240 731.4L1241 731.7L1242 731.8L1243 732L1244 732.4L1245 731.8L1246 731.9L1247 732.1L1248 731.5L1249 732.5L1250 732.4L1251 732L1252 732.5L1253 732.1L1254 732.6L1255 733L1256 732.7L1257 732.9L1258 733.1L1259 732.6L1260 732.4L1261 732.2L1262 733.3L1263 731.6L1264 733.5L1265 732.2L1266 732.5L1267 732.3L1268 732.5L1269 732.2L1270 732.4L1271 732.4L1272 732.6L1273 731.9L1274 733.3L1275 732L1276 732.3L1277 732.6L1278 732.1L1279 732.4L1280 732.4L1281 731.8L1282 732.3L1283 732.3L1284 732.6L1285 732.9L1286 732.1L1287 732.4L1288 732.6L1289 732.2L1290 732.7L1291 732.4L1292 733.1L1293 731.9L1294 732.2L1295 731.7L1296 732.3L1297 732.2L1298 732.2L1299 731.8L1300 732.5L1301 732.2L1302 732.2L1303 732.8L1304 733L1305 732L1306 731.6L1307 732.3L1308 732.6L1309 732.7L1310 732.6L1311 732.2L1312 732.5L1313 732.4L1314 732.2L1315 732.6L1316 732.4L1317 732.5L1318 732.6L1319 732.6L1320 731.8L1321 732.4L1322 732.2L1323 732.7L1324 732L1325 732.4L1326 733.2L1327 732.5L1328 732.2L1329 732.4L1330 732.5L1331 732.6L1332 732.5L1333 732.6L1334 732.1L1335 731.9L1336 732L1337 732.4L1338 732.6L1339 732.4L1340 733.2L1341 732.4L1342 732.5L1343 732.7L1344 732.6L1345 732.6L1346 732.3L1347 732.5L1348 732.1L1349 732.9L1350 732.4L1351 732.5L1352 732.7L1353 732.1L1354 732.4L1355 731.6L1356 732.7L1357 732.7L1358 732.5L1359 732.4L1360 731.7L1361 732.6L1362 732.2L1363 731.9L1364 732.9L1365 731.6L1366 732L1367 732.7L1368 732.7L1369 732.1L1370 731.2L1371 732.2L1372 732.6L1372.5 732.3L1373 731.8L1373.5 732.4L1374 732.3L1374.5 732L1375 732L1375.5 732.2L1376 731.7L1376.5 732.3L1377 731.2L1377.5 731.4L1378 731.1L1378.5 730.6L1379 729.7L1379.5 729.1L1380 727.7L1380.5 726.1L1381 722.5L1381.5 720L1382 715.9L1382.5 712.8L1383 711L1383.3 710.4L1383.5 710.4L1384 713.1L1384.5 714.9L1385 718.9L1385.5 722.5L1386 724.6L1386.5 726.8L1387 728.4L1387.5 729.6L1388 730.2L1388.5 730.4L1389 731.1L1389.5 731.7L1390 731.2L1390.5 731.7L1391 732L1391.5 731.8L1392 732.3L1392.5 732L1393 732.8L1393.5 731.9L1394 732.8L1394.5 733.1L1395 732.4L1395.5 732L1396.5 732.2L1397.5 732.5L1398.5 731.9L1399.5 732.4L1400.5 732.4L1401.5 732.7L1402.5 732.2L1403.5 732.3L1404.5 732.3L1405.5 732.3L1406.5 732.2L1407.5 732.5L1408.5 732.7L1409.5 732.8L1410.5 732.6L1411.5 732.1L1412.5 732.6L1413.5 732.6L1414.5 732.7L1415.5 732.1L1416.5 732.4L1417.5 732.8L1418.5 732.7L1419.5 732.8L1420.5 733L1421.5 732.5L1422.5 732.6L1423.5 732.8L1424.5 732.6L1425.5 732.4L1426.5 732.2L1427.5 732.9L1428.5 732L1429.5 732L1430.5 732.6L1431.5 732.1L1432.5 732.5L1433.5 732.2L1434.5 732.6L1435.5 731.9L1436.5 733L1437.5 732.5L1438.5 732.4L1439.5 732.6L1440.5 732.6L1441.5 732.7L1442.5 732.7L1443.5 731.9L1444.5 732.3L1445.5 732.2L1446.5 732.4L1447.5 732.7L1448.5 732.8L1449.5 732.6L1450.5 732.1L1451.5 732L1452.5 732.5L1453.5 731.8L1454.5 732L1455.5 732.2L1456.5 732.1L1457.5 732.1L1458.5 732.5L1459.5 732.3L1460.5 732.7L1461.5 732.5L1462.5 732.2L1463.5 732.7L1464.5 732.9L1465.5 732.6L1466.5 732.2L1467.5 732.2L1468.5 732.6L1469.5 732.3L1470.5 732L1471.5 733.2L1472.5 732.4L1473.5 732.6L1474.5 732.7L1475.5 732.5L1476.5 732.1L1477.5 732.2L1478.5 732L1479.5 732.2L1480.5 731.4L1481.5 732L1482.5 732.4L1483.5 732.2L1484.5 732.8L1485.5 732.1L1486.5 732.4L1487.5 731.6L1488.5 732.4L1489.5 732L1490.5 731.8L1491.5 732.4L1492 731.6L1492.5 732L1493 731.6L1493.5 732.2L1494 731.8L1494.5 732.1L1495 731.6L1495.5 731.5L1496 731.5L1496.5 731.8L1497 731.2L1497.5 731.4L1498 730.6L1498.5 730.8L1499 730L1499.5 729L1500 727.1L1500.5 724.9L1501 722.6L1501.5 719.3L1502 716.1L1502.5 714.2L1503 712.9L1503.5 714.4L1504 717.1L1504.5 719.1L1505 723L1505.5 725.6L1506 726.9L1506.5 728.4L1507 729.8L1507.5 730.7L1508 730.7L1508.5 731.2L1509 731.9L1509.5 731L1510 731.8L1510.5 731.7L1511 732.3L1511.5 732.6L1512 731.7L1512.5 731.8L1513 731.9L1513.5 731.6L1514 731.9L1514.5 731.4L1515 732.1L1516 732.4L1517 731.7L1518 731.4L1519 731.7L1520 732.1L1521 732.1L1522 732.2L1523 732.5L1524 731.9L1525 732.1L1526 732.2L1527 731.5L1528 732.2L1529 732.2L1529.5 731.3L1530 732.3L1530.5 731.6L1531 731.6L1531.5 731.8L1532 731.1L1532.5 731.2L1533 731.4L1533.5 731.8L1534 731L1534.5 730.6L1535 730.2L1535.5 729.7L1536 728.2L1536.5 726.4L1537 724.4L1537.5 721.6L1538 717.4L1538.5 712.1L1539 708L1539.5 703.6L1540 702.1L1540.5 703.9L1541 707.6L1541.5 712.7L1542 717.5L1542.5 720.8L1543 724.3L1543.5 725.9L1544 728.4L1544.5 729.1L1545 730L1545.5 730.5L1546 730.7L1546.5 730.8L1547 731.3L1547.5 730.7L1548 731.8L1548.5 732.1L1549 731.4L1549.5 732L1550 731.8L1550.5 731.7L1551 731.9L1551.5 732.1L1552 732.3L1553 731.3L1554 731.8L1555 732L1556 732.1L1557 731.8L1558 731.4L1559 731.5L1560 732L1561 731.5L1562 731.6L1563 731.6L1564 731.5L1565 731.7L1566 731.5L1567 730.8L1567.5 731.7L1568 731.4L1568.5 730.9L1569 730.6L1569.5 730.7L1570 730.7L1570.5 730.7L1571 730.9L1571.5 730.4L1572 730L1572.5 729.6L1573 728.5L1573.5 727.9L1574 726.7L1574.5 725.5L1575 722.3L1575.5 718.1L1576 712.3L1576.5 704.2L1577 695.4L1577.5 686.1L1578 678.8L1578.5 674.4L1578.6 674.4L1579 676L1579.5 683.3L1580 691.6L1580.5 700.9L1581 708.8L1581.5 715.7L1582 720.7L1582.5 724L1583 726.3L1583.5 727.2L1584 728.5L1584.5 729.6L1585 729.8L1585.5 730.2L1586 730.4L1586.5 731L1587 730.7L1587.5 731.1L1588 731.3L1588.5 730.9L1589 731.9L1589.5 731.5L1590 732L1590.5 732L1591 731.3L1592 731.9L1593 731.5L1594 732.5L1595 732L1596 732.2L1597 731.6L1598 732L1599 732.2L1600 732.6L1601 732.2L1602 732.1L1603 732.4L1604 732L1605 732L1606 732.3L1607 732.4L1608 731.9L1609 732.1L1610 732.5L1611 732.4L1612 732.1L1613 732.4L1614 732.5L1615 732.9L1616 731.9L1617 732.7L1618 731.5L1619 731.8L1620 732.7L1621 732.2L1622 732.2L1623 732.2L1624 732.7L1625 732.3L1626 732.7L1627 732L1628 733.1L1629 732.8L1630 732.6L1631 732.5L1632 731.9L1633 733L1634 732.6L1635 732.3L1636 732.9L1637 731.9L1638 732.1L1639 732.9L1640 732.2L1641 732.6L1642 732.6L1643 732.3L1644 732.5L1645 732.2L1646 732.4L1647 732.5L1648 731.9L1649 732.6L1650 731.5L1651 732.6L1652 731.9L1653 732.2L1654 732.6L1655 731.9L1656 732.8L1657 732.3L1658 732.8L1659 732.5L1660 732.3L1661 732.4L1662 732.4L1663 732.5L1664 733L1665 732.1L1666 731.7L1667 732.1L1668 731.9L1669 732.5L1670 732.2L1671 732.6L1672 732.5L1673 732.5L1674 732.1L1675 732.5L1676 732.8L1677 732.4L1678 731.8L1679 731.8L1680 732.6L1681 732.2L1682 733.1L1683 733L1684 732.3L1685 732.3L1686 732.7L1687 732.9L1688 732.9L1689 732.6L1690 732.3L1691 732.9L1692 733.1L1693 732.7L1694 732.1L1695 733.1L1696 732.6L1697 732.5L1698 732.9L1699 732.7L1700 733.1L1701 732.4L1702 732.4L1703 732.4L1704 732.3L1705 732.5L1706 732.2L1707 732L1708 732.4L1709 732.4L1710 732.6L1711 732.4L1712 732.6L1713 732.6L1714 732.2L1715 732.9L1716 732.5L1717 732L1718 732.7L1719 732.4L1720 732.5L1721 733.4L1722 732.5L1723 732.2L1724 732.3L1725 732.6L1726 733L1727 732.7L1728 732.1L1729 732.6L1730 732.8L1731 732.7L1732 732.2L1733 732.5L1734 732.4L1735 731.9L1736 732.2L1737 732.9L1738 732L1739 732.3L1740 732.7L1741 732.2L1742 732.5L1743 732.3L1744 732.3L1745 733.3L1746 732.1L1747 732L1748 732.7L1749 733.2L1750 732L1751 732.2L1752 732.6L1753 732.6L1754 732.5L1755 732.3L1756 732.5L1757 731.9L1758 732.6L1759 732.3L1760 732.9L1761 732.8L1762 732.4L1763 732.8L1764 731.7L1765 732.4L1766 732.7L1767 732.5L1768 732.1L1769 732.5L1770 732.8L1771 732.3L1772 732.2L1773 732.4L1774 732.2L1775 732.4L1776 732.8L1777 732.6L1778 732.3L1779 732.5L1780 732.6L1781 732.2L1782 731.8L1783 732.4L1784 733.4L1785 732.3L1786 732.1L1787 731.8L1788 732.6L1789 731.9L1790 732L1791 732.5L1792 732.5L1793 732.1L1794 731.4L1795 731L1796 730.6L1797 729.7L1798 729.5L1799 729.5L1800 730.3L1801 730.6L1802 731.7L1803 731.7L1804 732L1805 732.4L1806 732.2L1807 732.2L1808 732.4L1809 732.1L1810 732.5L1811 732.2L1812 732.5L1813 732.1L1814 732.8L1815 732.4L1816 732.7L1817 732.7L1818 732.7L1819 732.6L1820 733L1821 732.2L1822 732.5L1823 731.9L1824 731.7L1825 732.1L1826 732.5L1827 732.2L1828 732.2L1829 732.9L1830 732.5L1831 732.9L1832 732.7L1833 732.2L1834 732.3L1835 732.1L1836 732L1837 732.2L1838 732.6L1839 732.8L1840 732.6L1841 732.4L1842 732.4L1843 732.9L1844 732.3L1845 732.4L1846 732.9L1847 732.4L1848 732.1L1849 732.1L1850 733L1851 732.4L1852 731.5L1853 732.2L1854 732.8L1855 732.7L1856 732.7L1857 732.8L1858 731.8L1859 732.6L1860 732.3L1861 732.3L1862 733L1863 732.7L1864 732.4L1865 732.6L1866 732.7L1867 732.4L1868 732.7L1869 732.7L1870 732.6L1871 732.9L1872 732.1L1873 732.6L1874 732.1L1875 732.2L1876 732.4L1877 732.4L1878 732.7L1879 732.9L1880 732.5L1881 732.2L1882 732.7L1883 732.6L1884 732.5L1885 732.9L1886 732.9L1887 732L1888 732.6L1889 732.1L1890 732L1891 732.8L1892 732L1893 732.2L1894 732L1895 732.6L1896 732.8L1897 731.7L1898 731.9L1899 732.4L1900 732L1901 731.3L1902 730.9L1903 731.8L1904 731.1L1905 732.1L1906 732.2L1907 731.6L1908 732.3L1909 732.5L1910 732.3L1911 732.7L1912 731.9L1913 733.1L1914 732.7L1915 732.4L1916 732.6L1917 732.4L1918 732L1919 732.7L1920 732.5L1921 732.6L1922 732.7L1923 733L1924 732.2L1925 733.1L1926 732.4L1927 733.1L1928 732.4L1929 731.9L1930 732.4L1931 731.9L1932 732.6L1933 732.7L1934 732.5L1935 732.7L1936 733L1937 732.9L1938 732.5L1939 733L1940 732.3L1941 732.5L1942 732.3L1943 732.4L1944 732.5L1945 732.4L1946 732.5L1947 732.3L1948 732.8L1949 732.5L1950 732.2L1951 732.5L1952 732.1L1953 732.2L1954 732L1955 733.1L1956 732.5L1957 733.1L1958 732.3L1959 732.6L1960 731.9L1961 732.6L1962 732.8L1963 731.7L1964 732.6L1965 732.9L1966 732.1L1967 732L1968 732.7L1969 732.3L1970 732.1L1971 732.6L1972 733.2L1973 732.9L1974 732.6L1975 732.2L1976 732.1L1977 732.3L1978 732.7L1979 732.2L1980 733L1981 733.2L1982 732.2L1983 732.2L1984 732.7L1985 732.6L1986 732.7L1987 732.9L1988 732.7L1989 732.4L1990 732.7L1991 732.2L1992 732.7L1993 733.3L1994 732.9L1995 732.8L1996 732.8L1997 732.6L1998 732.5L1999 732.6L2000 733.1L2001 732.8L2002 732.1L2003 732.7L2004 732L2005 732.6L2006 732.3L2007 732.8L2008 731.8L2009 732.5L2010 733L2011 732.8L2012 732.7L2013 733L2014 732.5L2015 732.6L2016 733.1L2017 732.2L2018 732L2019 732.5L2020 732.3L2021 732.5L2022 732.9L2023 732.8L2024 732.5L2025 732.4L2026 732.2L2027 732.3L2028 732.8L2029 732.6L2030 732.3L2031 732.9L2032 732.1L2033 732.7L2034 732.9L2035 732L2036 732.6L2037 732.2L2038 732.1L2039 733L2040 732.6L2041 732.5L2042 732.9L2043 733.2L2044 732.8L2045 732.6L2046 732.5L2047 732.6L2048 732.6L2049 733.3L2050 732.6L2051 732.1L2052 732.6L2053 732.5L2054 732.5L2055 732.4L2056 732.2L2057 732.4L2058 732.1L2059 732.8L2060 732L2061 732.8L2062 732.5L2063 732.9L2064 732.4L2065 733.5L2066 732.9L2067 732.3L2068 732.7L2069 732L2070 732.8L2071 732.2L2072 732.5L2073 732.8L2074 732.3L2075 732.3L2076 733L2077 732.6L2078 732.3L2079 732.6L2080 732.4L2081 732.7L2082 732.1L2083 732.1L2084 732.3L2085 732.3L2086 732.4L2087 732.4L2088 732.6L2089 732L2090 733L2091 732.5L2092 733.4L2093 732.3L2094 732.2L2095 732.3L2096 732.1L2097 732.7L2098 732.4L2099 732.9L2100 732.3L2101 732.1L2102 732L2103 733.2L2104 732.5L2105 732.8L2106 732.7L2107 732.6L2108 732.7L2109 732.9L2110 733L2111 732.5L2112 732.2L2113 732.8L2114 732.4L2115 732.5L2116 732.5L2117 732.4L2118 732.9L2119 732.7L2120 733L2121 731.9L2122 733L2123 732.7L2124 732.8L2125 732.4L2126 732.2L2127 732.3L2128 732.7L2129 732.5L2130 732.7"/>
<path id="cryo" d="M170 476.8L171 477.3L172 477.2L173 476.9L174 477.1L175 477.2L176 477.1L177 477.1L178 477.3L179 477.4L180 477.6L181 477.1L182 476.9L183 477.3L184 477L185 476.8L186 477.7L187 477.4L188 477L189 477L190 477.2L191 477.2L192 477.3L193 477.1L194 476.5L195 476.5L196 477.4L197 477.2L198 476.4L199 477.2L200 477.2L201 477.3L202 477.1L203 477.2L204 476.8L205 476.6L206 477L207 477.1L208 477L209 476.6L210 476.9L211 476.9L212 477.3L213 476.7L214 476.8L215 476.9L216 477.1L217 477.5L218 477.2L219 476.6L220 476.8L221 477.6L222 477.2L223 477L224 477.2L225 477.3L226 477.6L227 477.2L228 476.9L229 476.8L230 477.4L231 477.1L232 477.2L233 477.3L234 476.8L235 477.6L236 477L237 477L238 477L239 477.1L240 477L241 477L242 477.3L243 477.5L244 477.3L245 476.7L246 477L247 477.6L248 477.1L249 477.1L250 477L251 477.6L252 476.9L253 476.9L254 477.4L255 476.6L256 476.9L257 477.9L258 477.1L259 477.2L260 476.4L261 477L262 476.8L263 476.9L264 476.8L265 477.1L266 477L267 477.4L268 476.3L269 476.9L270 477.3L271 477.2L272 477.6L273 476.9L274 477.4L275 477.3L276 476.7L277 476.5L278 477.7L279 477.5L280 477.1L281 476.8L282 476.5L283 477L284 477.1L285 477.6L286 477L287 477.1L288 477.1L289 477.4L290 477.6L291 477.7L292 477.1L293 477.3L294 476.8L295 476.9L296 477L297 477.4L298 476.4L299 477.1L300 477.7L301 477.4L302 477.6L303 476.9L304 477.2L305 476.8L306 477.6L307 477L308 477L309 476.8L310 477.2L311 477.6L312 477.1L313 477.1L314 476.9L315 477.5L316 477.1L317 477.3L318 477.1L319 477.2L320 477.3L321 477.3L322 476.6L323 477.1L324 477L325 477.3L326 477.5L327 476.9L328 476.9L329 476.6L330 476.9L331 477.5L332 476.9L333 477.5L334 477.1L335 477L336 477.1L337 476.9L338 477.2L339 477.1L340 476.5L341 476.9L342 477.3L343 477L344 476.4L345 477.4L346 477.6L347 476.7L348 477.1L349 477.4L350 477.3L351 477.3L352 476.6L353 477.4L354 477L355 476.9L356 477.3L357 477.4L358 477.4L359 476.9L360 477.2L361 476.6L362 477.4L363 476.8L364 476.8L365 477.4L366 477.2L367 476.8L368 477.3L369 477.7L370 476.6L371 477.2L372 477.1L373 477.2L374 477.1L375 477.4L376 477.4L377 477.1L378 477.4L379 477L380 477.7L381 477.1L382 477L383 477.3L384 476.8L385 476.7L386 476.9L387 477.6L388 477.3L389 476.9L390 477.1L391 477.1L392 476.9L393 476.9L394 476.8L395 476.6L396 476.8L397 477.5L398 477.3L399 477L400 477.2L401 476.7L402 477.2L403 477L404 476.9L405 477.2L406 477L407 477.8L408 476.8L409 477L410 477.2L411 477.1L412 477.6L413 477.2L414 476.5L415 476.9L416 476.3L417 477.1L418 477L419 477.3L420 477.4L421 476.8L422 477.1L423 477.1L424 477.6L425 477.1L426 477L427 477L428 477.2L429 476.5L430 476.8L431 476.8L432 476.6L433 477.3L434 476.5L435 477.6L436 476.7L437 476.8L438 477.9L439 476.7L440 476.9L441 477L442 476.3L443 477L444 477.1L445 477.3L446 477L447 477.3L448 477.2L449 476.7L450 477.4L451 477.3L452 477L453 477L454 477.1L455 477.1L456 476.9L457 476.7L458 477.3L459 477.1L460 477.2L461 477.5L462 476.7L463 477.2L464 477L465 477.1L466 476.8L467 477.5L468 476.6L469 476.9L470 477.1L471 477.1L472 477.1L473 476.5L474 476.6L475 476.3L476 476.8L477 477.5L478 476.9L479 477.4L480 477.3L481 476.8L482 476.2L483 476.3L484 476.7L485 477L486 477.4L487 476.8L488 476.8L489 477.1L490 477L491 476.9L492 477.3L493 476.8L494 476.9L495 476.5L496 477L497 476.3L498 476.9L499 476.4L500 476.9L501 476.3L502 476.9L503 476.9L504 476L505 476.8L505.5 475.6L506 475.7L506.5 475.4L507 475.5L507.5 475.5L508 475.3L508.5 475.6L509 475.1L509.5 474.3L510 474L510.5 473.1L511 473L511.5 471.4L512 470L512.5 468L513 466L513.5 460.8L514 453.5L514.5 443.4L515 432L515.5 418.8L516 409.5L516.4 406.3L516.5 406.5L517 412.3L517.5 424.6L518 437L518.5 448.3L519 456.4L519.5 462.5L520 467.6L520.5 469.4L521 471.1L521.5 472.3L522 473.2L522.5 474L523 473.8L523.5 474.7L524 475.1L524.5 475.2L525 474.8L525.5 475.8L526 476L526.5 476.1L527 475.5L527.5 476.4L528 476L528.5 476L529.5 476.2L530.5 476.1L531.5 476.5L532.5 476.5L533.5 476.4L534.5 477L535.5 476.6L536.5 477L537.5 476.5L538.5 476.7L539.5 477L540.5 476.6L541.5 476.5L542.5 476.1L543.5 477.4L544.5 477.3L545.5 477L546.5 477.2L547.5 477.4L548.5 477.4L549.5 476.8L550.5 477.3L551.5 477.1L552.5 476.9L553.5 477.4L554.5 477.1L555.5 477.1L556.5 476.9L557.5 476.9L558.5 476.9L559.5 476.8L560.5 477L561.5 477.2L562.5 476.7L563.5 477.4L564.5 476.9L565.5 476.8L566.5 477.4L567 476.9L567.5 476.7L568 476.2L568.5 477.1L569 477.4L569.5 476.2L570 476.6L570.5 476.7L571 476.7L571.5 475.7L572 476.2L572.5 475.8L573 475.9L573.5 475.3L574 475.2L574.5 474L575 473.5L575.5 473.6L576 472.1L576.5 472.3L577 471.4L577.5 471.6L578 471L578.3 471.1L578.5 470.6L579 471.2L579.5 471.4L580 472L580.5 473L581 473.5L581.5 473.6L582 473.9L582.5 474.4L583 475.4L583.5 475.8L584 474.9L584.5 475.6L585 476.5L585.5 476.5L586 475.8L586.5 476.3L587 476.3L587.5 476.7L588 476.2L588.5 476.6L589 476.1L589.5 476.7L590 476.8L590.5 476.8L591.5 476.3L592.5 476.9L593.5 476.8L594.5 476.4L595.5 477.1L596.5 477.2L597.5 477.2L598.5 476.6L599.5 477.3L600.5 476.8L601.5 477.1L602.5 477.2L603.5 477.3L604.5 476.8L605.5 476.8L606.5 477.3L607.5 477.2L608.5 476.8L609.5 477.6L610.5 477.4L611.5 476.7L612.5 476.9L613.5 476.9L614.5 476.9L615.5 476.4L616.5 476.8L617.5 476.7L618.5 476.6L619.5 476.8L620.5 477L621.5 476.6L622.5 476.7L623.5 476.4L624.5 476.1L625.5 475.6L626.5 476.1L627.5 475.6L628.5 475.8L629.5 475.8L630 475.4L630.5 474.5L631 474.8L631.5 474.3L632 474.2L632.5 473.3L633 473.5L633.5 473L634 472.6L634.5 471.8L635 471.4L635.5 470L636 467.8L636.5 466.9L637 462.9L637.5 457.4L638 449.5L638.5 438L639 422.6L639.5 402.3L640 381.1L640.5 365.5L640.9 360.2L641 360.1L641.5 370.7L642 389.8L642.5 411.1L643 428.9L643.5 442.6L644 453.4L644.5 459.8L645 464.6L645.5 467.3L646 469.6L646.5 470.4L647 471L647.5 472.6L648 473.4L648.5 473.2L649 473.8L649.5 474.2L650 474.6L650.5 474.9L651 475.2L651.5 475.1L652 474.8L652.5 476.4L653 475.4L654 475.3L655 475.5L656 476.4L657 476L658 476.5L659 476L660 476.5L661 475.9L662 476.9L663 476.4L664 476.8L665 476.8L666 476.6L667 476.3L668 476.9L669 476.6L670 477.2L671 475.9L672 476.7L673 476.9L674 476.8L675 476.8L676 477.1L677 476.3L678 476.4L679 477.4L680 476.5L681 477.4L682 476.8L683 477.5L684 477.2L685 477.2L686 476.4L687 477.4L688 477.1L689 476.9L690 476.4L691 477.2L692 477.4L693 477L694 477.3L695 477.5L696 477.2L697 477.4L698 477L699 477.1L700 477.4L701 477.1L702 477.5L703 477.2L704 477L705 476.5L706 476.6L707 477L708 477.2L709 476.8L710 476.9L711 476.9L712 476.6L713 476L714 476.8L715 477.5L716 477.8L717 478.1L718 477.3L719 477.2L720 476.6L721 477.4L722 476.9L723 477L724 477L725 477L726 476.6L727 477.8L728 477L729 477.1L730 477.1L731 477.3L732 477.3L733 477.6L734 477L735 477.6L736 476.4L737 476.9L738 477.1L739 477.1L740 476.8L741 476.7L742 477.4L743 477.2L744 477.7L745 478L746 476.5L747 476.9L748 476.8L749 476.7L750 477.1L751 477L752 476.8L753 477.5L754 476.7L755 477.7L756 476.9L757 477.6L758 476.7L759 477L760 477.6L761 476.4L762 477.4L763 477L764 476.9L765 477L766 477.2L767 476.6L768 476.7L769 477.1L770 476.9L771 477.3L772 476.6L773 477.2L774 477.3L775 477.2L776 476.9L777 477.6L778 476.4L779 477.1L780 476.9L781 477.2L782 477.1L783 477.2L784 476.7L785 477.1L786 476.7L787 477.4L788 476.8L789 476.9L790 477L791 476.9L792 476.9L793 476.8L794 477.2L795 476.5L796 476.9L797 477.1L798 477.1L799 477.1L800 477.3L801 477.2L802 477.2L803 476.8L804 477L805 476.7L806 477.1L807 477.1L808 477.4L809 477L810 477.5L811 477.3L812 477.4L813 476.8L814 477L815 477L816 477.2L817 477.4L818 477.5L819 477.2L820 477.5L821 477.1L822 477L823 476.9L824 477.5L825 477.1L826 477.1L827 476.6L828 476.8L829 477L830 476.7L831 476.8L832 477.1L833 477.1L834 477.3L835 477L836 478.2L837 476.6L838 477.8L839 477.3L840 476.7L841 477.6L842 477.1L843 476.8L844 477.1L845 477L846 477.5L847 476.8L848 477.5L849 477L850 477L851 476.8L852 477.1L853 477.2L854 477L855 476.3L856 477L857 477.2L858 477.3L859 477.2L860 477.1L861 476.8L862 476.5L863 477.2L864 477.1L865 477L866 477.6L867 476.9L868 477.1L869 477.2L870 477.3L871 476.9L872 476.8L873 477.1L874 477.1L875 476.7L876 476.8L877 476.5L878 477.3L879 477.3L880 477L881 476.5L882 477.3L883 476.8L884 476.9L885 476.7L886 477.2L887 476.9L888 477.3L889 477.2L890 476.9L891 477.6L892 476.9L893 476.9L894 477.4L895 477.2L896 477.2L897 477.1L898 477.4L899 476.9L900 476.8L901 476.9L902 477.6L903 476.9L904 476.9L905 476.7L906 476.9L907 477L908 476.6L909 476.6L910 477.4L911 477.2L912 476.7L913 477.1L914 477.5L915 477L916 476.9L917 477.1L918 476.9L919 477.7L920 476.7L921 476.7L922 477.7L923 476.7L924 477.8L925 476.5L926 477.5L927 476.8L928 477L929 477L930 477.4L931 476.9L932 476.9L933 477.3L934 477L935 476.4L936 476.9L937 477.2L938 476.8L939 477.1L940 476.4L941 476.5L942 476.7L943 477L944 477L944.5 476.7L945 476.9L945.5 477.1L946 476.5L946.5 476.4L947 476.8L947.5 476.7L948 477.1L948.5 475.7L949 476.2L949.5 476.5L950 475.9L950.5 474.8L951 475L951.5 474.5L952 474.2L952.5 473.4L953 472.6L953.5 472.3L954 470.9L954.5 470.6L955 470.3L955.3 470.3L955.5 469.9L956 470.4L956.5 470.6L957 471.7L957.5 472.8L958 473.3L958.5 474L959 474.5L959.5 475.3L960 475.4L960.5 474.9L961 475.9L961.5 476.9L962 476.4L962.5 476.6L963 476.7L963.5 477.1L964 476.3L964.5 476.8L965 476.6L965.5 476.9L966 477L966.5 476.6L967 477.2L967.5 477.3L968.5 477L969.5 477.2L970.5 476.9L971.5 476.7L972.5 476.9L973.5 476.9L974.5 476.5L975.5 476.7L976.5 476.8L977.5 476.7L978.5 477.2L979.5 477.8L980.5 475.7L981.5 477.2L982.5 477.7L983.5 477.1L984.5 476.6L985.5 476.5L986.5 477.2L987.5 477.5L988.5 477L989.5 477.5L990.5 477.1L991.5 477.1L992.5 477.2L993.5 476.8L994.5 476.9L995.5 477.1L996.5 476.7L997.5 477.2L998.5 477L999.5 477.6L1000.5 476.9L1001.5 477.3L1002.5 477.2L1003.5 477.6L1004.5 476.8L1005.5 477.6L1006.5 477.3L1007.5 476.8L1008.5 477.2L1009.5 477.1L1010.5 476.9L1011.5 476.9L1012.5 476.9L1013.5 477.6L1014.5 476.5L1015.5 477.3L1016.5 477L1017.5 477.4L1018.5 477.2L1019.5 477.3L1020.5 477.3L1021.5 476.6L1022.5 476.9L1023.5 476L1024.5 476.5L1025.5 477.1L1026.5 476.2L1027.5 476.9L1028.5 476.9L1029.5 477.5L1030.5 477L1031.5 477L1032.5 477L1033.5 477.1L1034.5 477.1L1035.5 477.3L1036.5 477.3L1037.5 476.7L1038.5 477.5L1039.5 476.8L1040.5 477.3L1041.5 476.7L1042.5 477.3L1043.5 477.6L1044.5 476.3L1045.5 477.1L1046.5 477.4L1047.5 476.7L1048.5 477.3L1049.5 477L1050.5 477.3L1051.5 477.4L1052.5 476.9L1053.5 477.1L1054.5 476.6L1055.5 477.3L1056.5 477.2L1057.5 476.6L1058.5 477L1059.5 477.3L1060.5 477.1L1061.5 477.7L1062.5 477.3L1063.5 477.2L1064.5 477L1065.5 476.9L1066.5 477.2L1067.5 477L1068.5 477.4L1069.5 476.8L1070.5 477.3L1071.5 477.1L1072.5 477.4L1073.5 476.8L1074.5 476.9L1075.5 476.9L1076.5 477.1L1077.5 476.5L1078.5 477.2L1079.5 477.1L1080.5 477.3L1081.5 476.9L1082.5 477.2L1083.5 477.1L1084.5 477.3L1085.5 477.5L1086.5 476.9L1087.5 476.7L1088.5 477.3L1089.5 476.7L1090.5 477.2L1091.5 476.9L1092.5 476.9L1093.5 476.6L1094.5 478L1095.5 477.1L1096.5 476.7L1097.5 476.9L1098.5 476.8L1099.5 477.3L1100.5 477.6L1101.5 476.9L1102.5 477.4L1103.5 477.4L1104.5 476.7L1105.5 476.7L1106.5 477L1107.5 476.9L1108.5 477.6L1109.5 476.9L1110.5 477.6L1111.5 477.2L1112.5 476.6L1113.5 477L1114.5 476.9L1115.5 477.4L1116.5 476.9L1117.5 477.4L1118.5 477L1119.5 477.3L1120.5 476.8L1121.5 476.8L1122.5 477.2L1123.5 477.2L1124.5 476.7L1125.5 477.1L1126.5 477.1L1127.5 477.1L1128.5 477L1129.5 476.9L1130.5 477.3L1131.5 477L1132.5 476.9L1133.5 477.3L1134.5 476.5L1135.5 476.6L1136.5 477L1137.5 476.7L1138.5 477L1139.5 476.9L1140.5 477.1L1141.5 477.4L1142.5 477.3L1143.5 477.4L1144.5 477.4L1145.5 476.7L1146.5 476.6L1147.5 476.7L1148.5 477.2L1149.5 476.9L1150.5 477.4L1151.5 476.8L1152.5 476.4L1153.5 477.2L1154.5 477.7L1155.5 477.3L1156.5 476.8L1157.5 476.3L1158.5 476.9L1159.5 476.9L1160.5 476.9L1161.5 477.2L1162.5 476.8L1163.5 477.3L1164.5 477.5L1165.5 476.6L1166.5 477.6L1167.5 476.8L1168.5 477.2L1169.5 477.2L1170.5 477.5L1171.5 477L1172.5 477.2L1173.5 476.6L1174.5 477.3L1175.5 478L1176.5 477L1177.5 477.1L1178.5 476.3L1179.5 476.6L1180.5 476.8L1181.5 476.6L1182.5 477.7L1183.5 476.9L1184.5 476.9L1185.5 477.4L1186.5 477.5L1187.5 478.2L1188.5 476L1189.5 476.8L1190.5 477.2L1191.5 476.9L1192.5 476.6L1193.5 476.6L1194.5 476.7L1195.5 476.9L1196.5 477L1197.5 476.7L1198.5 476.6L1199.5 476.5L1200.5 476.6L1201.5 476.5L1202.5 477.2L1203.5 476.6L1204.5 476.4L1205.5 476.3L1206.5 476.4L1207.5 476.1L1208.5 476.3L1209.5 476.2L1210.5 475.8L1211.5 475L1212.5 475.4L1213 475.4L1213.5 474L1214 474.6L1214.5 474.1L1215 474L1215.5 473.5L1216 472.7L1216.5 472.3L1217 471.7L1217.5 471.8L1218 469.9L1218.5 469L1219 468.1L1219.5 467L1220 464.3L1220.5 462L1221 458.6L1221.5 454L1222 449.8L1222.5 443.8L1223 438.2L1223.5 434L1224 432.7L1224.5 434.2L1225 439.7L1225.5 446.4L1226 452.1L1226.5 458.5L1227 462.5L1227.5 466.2L1228 468.3L1228.5 469.7L1229 470.9L1229.5 471.8L1230 473.3L1230.5 473.8L1231 474L1231.5 474.4L1232 474.6L1232.5 475.7L1233 475.3L1233.5 475.4L1234 475.3L1234.5 475.5L1235 475.4L1235.5 475.5L1236 475.5L1237 476.1L1238 476.2L1239 475.9L1240 476.7L1241 476.5L1242 476.8L1243 476.7L1244 477L1245 476.7L1246 476.3L1247 476.8L1248 476.8L1249 476.8L1250 476.8L1251 476.9L1252 476.8L1253 476.9L1254 477.2L1255 477.2L1256 476.7L1257 477L1258 477L1259 476.8L1260 477.1L1261 477.1L1262 476.7L1263 477.3L1264 477.2L1265 476.8L1266 477L1267 476.5L1268 476.8L1269 476.9L1270 477.3L1271 477.7L1272 476.5L1273 477.3L1274 477.6L1275 477.6L1276 477.3L1277 477.2L1278 476.5L1279 476.8L1280 477.2L1281 477L1282 477.3L1283 477.2L1284 476.6L1285 477L1286 477.4L1287 476.5L1288 476.8L1289 476.3L1290 477.1L1291 477L1292 477L1293 477.1L1294 477.1L1295 477.5L1296 476.5L1297 477.1L1298 477.4L1299 476.7L1300 476.9L1301 477.1L1302 477.2L1303 477.8L1304 477.7L1305 476.9L1306 477.2L1307 476.5L1308 477.3L1309 477.3L1310 477.7L1311 477.1L1312 477.2L1313 476.5L1314 476.9L1315 476.9L1316 477L1317 477.1L1318 477L1319 477.6L1320 476.9L1321 477.1L1322 477.3L1323 476.8L1324 476.9L1325 477.1L1326 476.3L1327 477.5L1328 476.9L1329 477.2L1330 477.5L1331 476.8L1332 477.1L1333 477.1L1334 476.9L1335 477.4L1336 477.1L1337 477L1338 477L1339 476.7L1340 477.1L1341 477.2L1342 476.9L1343 477.1L1344 478.3L1345 477.4L1346 477L1347 476.5L1348 477.1L1349 476.9L1350 477.1L1351 476.8L1352 476.7L1353 476.9L1354 477.6L1355 477.5L1356 477.3L1357 476.6L1358 476.9L1359 477L1360 477.1L1361 477.1L1362 477.5L1363 476.3L1364 477L1365 476.7L1366 477.5L1367 476.1L1368 477.3L1369 477L1370 477L1371 477.2L1372 477.1L1372.5 477.1L1373 476.6L1373.5 476.2L1374 476.3L1374.5 476.8L1375 477.1L1375.5 477L1376 476.2L1376.5 475.9L1377 475.8L1377.5 475.2L1378 475.8L1378.5 475.7L1379 475L1379.5 474.9L1380 474.4L1380.5 473.3L1381 473.2L1381.5 472.8L1382 471.2L1382.5 471.7L1383 471.7L1383.5 470.8L1383.6 471.4L1384 471.6L1384.5 471.6L1385 471.6L1385.5 472.4L1386 473.2L1386.5 473.1L1387 473.4L1387.5 475.1L1388 475.2L1388.5 475.4L1389 475.8L1389.5 476L1390 477L1390.5 476L1391 476.3L1391.5 476.4L1392 476.5L1392.5 477L1393 477L1393.5 477.1L1394 477.1L1394.5 476.9L1395 476.4L1395.5 476.6L1396 476.7L1397 476.9L1398 476.4L1399 476.5L1400 476.9L1401 476.9L1402 477.2L1403 476.5L1404 477.6L1405 476.6L1406 476.8L1407 477.6L1408 477.4L1409 476.7L1410 476.9L1411 477.1L1412 477.1L1413 476.8L1414 477.2L1415 477.2L1416 476.3L1417 476.3L1418 476.8L1419 477.7L1420 477.3L1421 476.2L1422 477L1423 477.3L1424 476.8L1425 477L1426 476.8L1427 477.2L1428 477.7L1429 476.7L1430 477L1431 477.3L1432 477L1433 477.4L1434 477.1L1435 476.4L1436 477.3L1437 476.9L1438 476.9L1439 477L1440 476.7L1441 477.3L1442 477L1443 477.2L1444 477.2L1445 477.3L1446 477.4L1447 476.7L1448 477.3L1449 476.5L1450 477.2L1451 477L1452 477.1L1453 477.2L1454 477.1L1455 476.6L1456 477.6L1457 476.7L1458 477.1L1459 477.1L1460 477.2L1461 477.3L1462 477.1L1463 476.9L1464 477.5L1465 477.2L1466 476.7L1467 477.2L1468 476.8L1469 477.1L1470 476.7L1471 477.3L1472 477.7L1473 477.3L1474 477L1475 476.9L1476 476.6L1477 476.9L1478 477.3L1479 477.3L1480 477.2L1481 476.8L1482 476.9L1483 477.1L1484 476.9L1485 476.6L1486 476.7L1487 476.6L1488 476.6L1489 477.1L1490 476.9L1491 477.1L1492 476L1492.5 476.6L1493 477.5L1493.5 476.8L1494 477.2L1494.5 476.7L1495 476.8L1495.5 476.3L1496 476L1496.5 476.1L1497 475.8L1497.5 475.6L1498 476.2L1498.5 475.2L1499 474.9L1499.5 474.5L1500 474.5L1500.5 473.8L1501 473.5L1501.5 471.9L1502 472.2L1502.5 471L1503 471L1503.3 471.2L1503.5 472L1504 471.4L1504.5 472.1L1505 471.4L1505.5 472.4L1506 473.2L1506.5 474.1L1507 474.1L1507.5 475L1508 475.2L1508.5 476L1509 475.9L1509.5 476L1510 475.5L1510.5 476.3L1511 476.7L1511.5 476.3L1512 476.4L1512.5 476.3L1513 477L1513.5 477.1L1514 475.9L1514.5 476.9L1515 476.3L1515.5 476.8L1516.5 476.6L1517.5 476.5L1518.5 476L1519.5 476.5L1520.5 476.6L1521.5 476.8L1522.5 476.3L1523.5 476.5L1524.5 476L1525.5 476L1526.5 476.3L1527.5 476.1L1528.5 476.6L1529 476.5L1529.5 476.4L1530 476L1530.5 476.5L1531 476.6L1531.5 476L1532 476L1532.5 475.7L1533 475.3L1533.5 475.2L1534 474.1L1534.5 474.7L1535 474.1L1535.5 472.8L1536 472.1L1536.5 470.8L1537 469.5L1537.5 468.1L1538 465.9L1538.5 463.2L1539 461.2L1539.5 459.3L1540 458.3L1540.3 458.2L1540.5 458.9L1541 459.1L1541.5 461L1542 463.2L1542.5 465.5L1543 467.8L1543.5 469.2L1544 470.9L1544.5 472.6L1545 473.8L1545.5 474.2L1546 474.8L1546.5 475L1547 474.9L1547.5 476.3L1548 475.5L1548.5 475.8L1549 476.5L1549.5 476.1L1550 477L1550.5 476.3L1551 476.1L1551.5 476.6L1552 476.6L1552.5 475.9L1553.5 476.4L1554.5 476.4L1555.5 476.4L1556.5 477L1557.5 476.2L1558.5 476.5L1559.5 477L1560.5 477.1L1561.5 476.8L1562.5 476.6L1563.5 476.6L1564.5 476.9L1565.5 476.2L1566.5 476.8L1567.5 476.6L1568 476.5L1568.5 476.4L1569 476.5L1569.5 476.7L1570 476.2L1570.5 476.8L1571 476.3L1571.5 476L1572 475.6L1572.5 475.5L1573 475.1L1573.5 475L1574 474.9L1574.5 473.9L1575 472.7L1575.5 472L1576 470.4L1576.5 468.9L1577 468.2L1577.5 466.9L1578 465.6L1578.5 464.9L1578.9 464.7L1579 464.7L1579.5 464.9L1580 465.4L1580.5 467.1L1581 468.6L1581.5 469.3L1582 471.4L1582.5 472L1583 472.7L1583.5 474.5L1584 474.8L1584.5 475.1L1585 474.6L1585.5 475.6L1586 475.7L1586.5 476.5L1587 476.3L1587.5 476.9L1588 476.3L1588.5 476.7L1589 476.8L1589.5 476L1590 476.4L1590.5 476.6L1591 476.9L1592 476.9L1593 476.9L1594 476.6L1595 476.9L1596 477L1597 476.8L1598 476.7L1599 476.9L1600 477.1L1601 477.2L1602 477.3L1603 477.3L1604 476.2L1605 477.2L1606 476.5L1607 476.9L1608 476.9L1609 477L1610 477.3L1611 476.7L1612 477.1L1613 476.7L1614 477.2L1615 476.7L1616 477.2L1617 476.6L1618 476.6L1619 476.5L1620 477.3L1621 477.6L1622 476.9L1623 477L1624 477L1625 476.7L1626 477L1627 476.9L1628 476.7L1629 477L1630 477.6L1631 476.8L1632 477.4L1633 477.2L1634 476.6L1635 477.2L1636 477.7L1637 476.6L1638 476.6L1639 476.7L1640 477.6L1641 476.5L1642 477.7L1643 477.2L1644 477L1645 476.5L1646 476.7L1647 476.9L1648 476L1649 476.5L1650 476.3L1651 477L1652 476.8L1653 477.3L1654 477.6L1655 478.1L1656 476.7L1657 476.7L1658 477.4L1659 477L1660 476.8L1661 477.4L1662 477.2L1663 476.8L1664 477.5L1665 477.1L1666 477.5L1667 476.9L1668 477.2L1669 477.3L1670 477L1671 477L1672 477.3L1673 477.5L1674 476.9L1675 477.2L1676 476.9L1677 477.3L1678 477.9L1679 477.8L1680 477.4L1681 477.8L1682 476.7L1683 476.7L1684 476.9L1685 477L1686 477.4L1687 477.1L1688 477.2L1689 477L1690 477.2L1691 477.1L1692 477.1L1693 476.9L1694 477L1695 476.5L1696 477.1L1697 477.3L1698 477.3L1699 477L1700 476.3L1701 476.7L1702 476.7L1703 476.7L1704 477.4L1705 477.7L1706 477.5L1707 476.7L1708 476.9L1709 477.1L1710 476.7L1711 477.2L1712 476.8L1713 477.2L1714 476.8L1715 477.4L1716 477.5L1717 477.4L1718 476.6L1719 476.7L1720 476.7L1721 476.9L1722 477.3L1723 477.1L1724 477L1725 477.1L1726 477.2L1727 477.5L1728 476.9L1729 477.4L1730 476.7L1731 477.2L1732 476.7L1733 477.5L1734 476.8L1735 477L1736 476.9L1737 476.9L1738 477.3L1739 477.2L1740 477.6L1741 476.8L1742 476.2L1743 477.2L1744 477.3L1745 476.7L1746 477.3L1747 477.2L1748 476.7L1749 476.9L1750 477L1751 477.2L1752 477.5L1753 477.3L1754 477.5L1755 476.9L1756 476.8L1757 477.4L1758 476.7L1759 477.7L1760 477L1761 477.7L1762 477.1L1763 477L1764 476.5L1765 476.6L1766 476.9L1767 477.4L1768 477.1L1769 477.4L1770 476.7L1771 477.1L1772 477.3L1773 477.1L1774 477.8L1775 476.6L1776 477L1777 476.9L1778 477.2L1779 477.4L1780 477.3L1781 477.8L1782 477.5L1783 477L1784 476.9L1785 476.6L1786 476.8L1787 477L1788 477.6L1789 477L1790 477L1791 476.7L1792 477.2L1793 477.5L1794 477L1795 476.9L1796 476.5L1797 475.7L1798 475.7L1799 475.8L1800 476.2L1801 476.4L1802 476.7L1803 477.1L1804 476.9L1805 477.6L1806 477.1L1807 477.2L1808 477.5L1809 476.6L1810 476.9L1811 477.3L1812 477.7L1813 476.9L1814 477L1815 477.2L1816 477.2L1817 477.1L1818 477.8L1819 477.1L1820 477L1821 476.7L1822 477.2L1823 476.8L1824 477.4L1825 476.6L1826 477.3L1827 477.1L1828 477.7L1829 477.5L1830 477.1L1831 477L1832 477.2L1833 476.9L1834 477.2L1835 476.5L1836 477L1837 476.2L1838 476.8L1839 477.7L1840 477.1L1841 477L1842 477.6L1843 477.2L1844 476.9L1845 476.9L1846 476.9L1847 477.2L1848 476.8L1849 477.2L1850 477L1851 477.2L1852 476.6L1853 477.9L1854 476.9L1855 477.2L1856 477.6L1857 477.4L1858 476.9L1859 477.3L1860 477.4L1861 477.1L1862 476.9L1863 477.1L1864 476.4L1865 477.1L1866 476.7L1867 476.8L1868 476.4L1869 476.9L1870 477.2L1871 477.2L1872 477.2L1873 476.9L1874 477.5L1875 476.8L1876 477.4L1877 476.6L1878 476.9L1879 476.8L1880 478.1L1881 477.4L1882 476.3L1883 477.6L1884 477.2L1885 476.8L1886 477.2L1887 477L1888 476.9L1889 477L1890 477.1L1891 477.3L1892 476.9L1893 476.1L1894 477L1895 476.6L1896 477.1L1897 477L1898 477.8L1899 476.6L1900 475.7L1901 476.2L1902 476.3L1903 476.2L1904 476.1L1905 476.4L1906 476.3L1907 476.7L1908 476.4L1909 476.9L1910 477.3L1911 477.4L1912 477.7L1913 477L1914 477.1L1915 476.9L1916 476.8L1917 477.5L1918 477L1919 476.9L1920 476.9L1921 477.2L1922 477.2L1923 477.2L1924 477.2L1925 477L1926 477.6L1927 477.1L1928 476.8L1929 477L1930 477L1931 477.3L1932 477.3L1933 477.1L1934 477.4L1935 477.1L1936 477.1L1937 477.2L1938 477.1L1939 477.3L1940 477.3L1941 477L1942 476.6L1943 477.2L1944 476.7L1945 476.8L1946 477.4L1947 477.4L1948 477.2L1949 476.9L1950 477.3L1951 477.4L1952 477.5L1953 477.2L1954 477.2L1955 477L1956 477.2L1957 476.9L1958 477.5L1959 477.1L1960 477L1961 477.3L1962 477.3L1963 477.2L1964 477.1L1965 477.4L1966 476.9L1967 477.2L1968 477L1969 477.4L1970 476.7L1971 477.2L1972 476.9L1973 477.1L1974 477.5L1975 477.2L1976 476.7L1977 477.1L1978 477.6L1979 477.8L1980 478L1981 477L1982 476.9L1983 477.1L1984 477L1985 476.8L1986 477.4L1987 477.3L1988 477.9L1989 477.3L1990 477L1991 476.9L1992 476.8L1993 476.9L1994 476.6L1995 477.4L1996 477L1997 476.7L1998 477.3L1999 477L2000 476.9L2001 477L2002 477.2L2003 476.7L2004 477.2L2005 477.2L2006 476.2L2007 477.1L2008 477L2009 477.6L2010 477.3L2011 476.6L2012 476.9L2013 477.1L2014 476.8L2015 477.1L2016 477.1L2017 476.9L2018 476.8L2019 477.1L2020 477.5L2021 477.8L2022 476.9L2023 477.2L2024 476.7L2025 477.3L2026 477.2L2027 477.2L2028 477.5L2029 477.2L2030 477.4L2031 476.8L2032 476.8L2033 476.8L2034 477.9L2035 476.9L2036 476.9L2037 477.1L2038 477.6L2039 476.7L2040 477.1L2041 476.8L2042 476.9L2043 477.2L2044 476.9L2045 476.5L2046 477.4L2047 477.1L2048 477.4L2049 477.6L2050 477L2051 476.8L2052 477.8L2053 476.4L2054 477L2055 477L2056 476.9L2057 477.1L2058 476.8L2059 477.6L2060 476.6L2061 476.9L2062 476.6L2063 477L2064 477.2L2065 477.1L2066 476.7L2067 477.3L2068 477L2069 477.1L2070 476.7L2071 477.2L2072 477.2L2073 477.2L2074 477.4L2075 476.9L2076 477.2L2077 476.4L2078 476.9L2079 477.5L2080 476.9L2081 476.5L2082 477.6L2083 477.9L2084 477.4L2085 476.9L2086 476.8L2087 476.8L2088 476.9L2089 477L2090 476.9L2091 477.1L2092 477.3L2093 477.1L2094 477L2095 476.8L2096 477.4L2097 477.8L2098 476.7L2099 477.5L2100 477.2L2101 477.5L2102 477.6L2103 477.5L2104 477L2105 477.7L2106 477L2107 477.7L2108 477.2L2109 476.8L2110 477.1L2111 477.6L2112 476.6L2113 477.3L2114 477.3L2115 477.3L2116 476.8L2117 476.7L2118 477.5L2119 477.1L2120 476.3L2121 476.7L2122 476.4L2123 477.5L2124 476.5L2125 476.4L2126 477L2127 477.3L2128 478L2129 476.2L2130 476.7"/>
<path id="solcryo" d="M170 320L171 319.7L172 319.6L173 319.7L174 319.6L175 318.8L176 319.2L177 319.6L178 319.1L179 318.5L180 319.1L181 318.9L182 319L183 319.5L184 319.2L185 319L186 318.8L187 319.2L188 319.2L189 319.2L190 319.4L191 319.8L192 318.7L193 319L194 319.5L195 319.4L196 318.8L197 319.3L198 319.5L199 319.8L200 319.1L201 319.5L202 319.4L203 319.2L204 319.6L205 319.2L206 319.2L207 319.5L208 318.7L209 319.4L210 319.4L211 319.7L212 319L213 319.4L214 319.6L215 319.7L216 319L217 319.5L218 319.2L219 319.2L220 319.6L221 318.7L222 319.3L223 319.9L224 319.2L225 319L226 319.3L227 319.4L228 319L229 319.5L230 318.9L231 319.3L232 319.1L233 319.2L234 319.4L235 319.7L236 319.1L237 319.3L238 319.1L239 320.2L240 319.5L241 318.8L242 319.1L243 319.6L244 319.2L245 318.9L246 319.2L247 319.2L248 319.2L249 319.1L250 319.1L251 319.7L252 319.6L253 319.2L254 319.2L255 319.1L256 319.5L257 319.2L258 318.8L259 319.2L260 319.2L261 319L262 319.3L263 319.3L264 319.7L265 319.3L266 319.1L267 319.2L268 318.8L269 319.4L270 319.2L271 319.4L272 319.5L273 319.9L274 319.4L275 319.7L276 319.2L277 319.1L278 319.4L279 318.9L280 319.5L281 319.2L282 319L283 319.4L284 319.2L285 319.6L286 319L287 319.4L288 319.5L289 319.1L290 319.8L291 319.5L292 319.2L293 319.3L294 319.3L295 318.8L296 319L297 318.8L298 319.2L299 319.9L300 318.9L301 319.8L302 319.7L303 319.3L304 318.8L305 319.6L306 319.2L307 318.9L308 319.6L309 319.5L310 319.3L311 319.2L312 318.7L313 319.7L314 319.2L315 319L316 319.6L317 319.6L318 319.1L319 319.1L320 318.3L321 319.2L322 319.1L323 319L324 319.6L325 319.4L326 320.1L327 319.4L328 318.9L329 319.3L330 319.3L331 319.2L332 319.5L333 318.8L334 320L335 319.6L336 320L337 318.6L338 319.9L339 319.7L340 319.3L341 319.1L342 319.7L343 319.5L344 319.7L345 319.5L346 319.4L347 319L348 319.1L349 319.6L350 319.4L351 319.4L352 318.7L353 319.1L354 319.5L355 319.3L356 319.1L357 319.9L358 319.2L359 319.8L360 319.9L361 319.1L362 318.9L363 318.9L364 319.4L365 319.2L366 319L367 319.8L368 318.7L369 319.4L370 319.8L371 319.2L372 318.9L373 319L374 319.4L375 319.2L376 319.9L377 319.5L378 319.6L379 318.9L380 319L381 319.4L382 319.8L383 319.2L384 319.8L385 319.3L386 319.4L387 319.1L388 319.3L389 319.2L390 319.1L391 319.6L392 318.3L393 319.1L394 319.2L395 319.2L396 319.5L397 318.8L398 319.7L399 318.6L400 319.4L401 318.9L402 319.2L403 319.2L404 319.1L405 319.5L406 319.3L407 319.2L408 319.4L409 319.5L410 319.4L411 319.7L412 319.6L413 319.3L414 319.4L415 319.3L416 319.3L417 319L418 319.5L419 319.3L420 319.6L421 319.2L422 320.1L423 319.2L424 319.2L425 319.4L426 319L427 319L428 319.2L429 319.2L430 319.5L431 319L432 319.2L433 319.4L434 319.6L435 319.3L436 319.5L437 319.5L438 319.2L439 318.7L440 319.1L441 319.4L442 319.1L443 319.1L444 319.8L445 319.2L446 319.5L447 319.1L448 319.3L449 318.9L450 319.3L451 319.4L452 318.8L453 319.2L454 319.3L455 319.4L456 318.9L457 319.1L458 319.2L459 318.6L460 319.7L461 320L462 319.1L463 319.8L464 319.3L465 319.8L466 319L467 319.6L468 319.7L469 318.9L470 319.3L471 318.5L472 319.1L473 319.4L474 319.5L475 318.9L476 319.1L477 320.2L478 319.7L479 318.9L480 318.7L481 319.4L482 319L483 319.4L484 319.4L485 318.8L486 319.2L487 319.1L488 318.9L489 319.2L490 319.8L491 319.4L492 318.8L493 319.3L494 318.8L495 319L496 319.3L497 319.3L498 319.5L499 319.4L500 319.4L501 319.5L502 319.2L503 318.5L504 319.4L505 318.9L505.5 318.5L506 318.8L506.5 318.5L507 318.5L507.5 318.7L508 319.2L508.5 318.6L509 318.2L509.5 318.7L510 318.5L510.5 318L511 318.1L511.5 317.8L512 316.3L512.5 315.9L513 312.9L513.5 308.6L514 301.5L514.5 291.7L515 280.4L515.5 270.5L516 265.4L516.1 264.6L516.5 267.2L517 276.3L517.5 287.3L518 298.3L518.5 306L519 312L519.5 314.3L520 316.2L520.5 317.3L521 317.3L521.5 317.9L522 317.8L522.5 318.1L523 318.7L523.5 318.6L524 318.1L524.5 318.6L525 318.8L525.5 319.2L526 319L526.5 319.4L527 318.7L527.5 318.7L528 319.6L528.5 319.7L529.5 319.2L530.5 319.4L531.5 319.2L532.5 319.3L533.5 319.4L534.5 319.7L535.5 319L536.5 319.1L537.5 319.6L538.5 319.3L539.5 319.2L540.5 319.7L541.5 318.8L542.5 318.9L543.5 319.3L544.5 319.4L545.5 319.4L546.5 318.2L547.5 318.8L548.5 319.2L549.5 319L550.5 319.2L551.5 319.2L552.5 319.3L553.5 319.4L554.5 319.3L555.5 319.5L556.5 319.8L557.5 319.3L558.5 318.2L559.5 319.6L560.5 319.1L561.5 319L562.5 318.4L563.5 319.7L564.5 319.2L565.5 319.3L566.5 318.7L567 318.6L567.5 318.4L568 318.7L568.5 318.4L569 317.9L569.5 317.9L570 318.1L570.5 318.4L571 317.9L571.5 317.6L572 317.6L572.5 317.7L573 316.8L573.5 315.9L574 314.7L574.5 312.3L575 307.7L575.5 298.8L576 287.7L576.5 270.4L577 251.1L577.5 235.1L578 228.5L578.5 234.9L579 251.4L579.5 270.5L580 287.2L580.5 299.8L581 307.3L581.5 312.6L582 315L582.5 316.1L583 317L583.5 317L584 317.9L584.5 318L585 318L585.5 317.9L586 318.5L586.5 317.7L587 318.2L587.5 317.7L588 318.5L588.5 318.1L589 319.1L589.5 319.3L590 318.9L591 318.6L592 318.4L593 318.8L594 319L595 319.2L596 319.2L597 319.7L598 319L599 319.2L600 319.5L601 318.7L602 319.1L603 319.1L604 318.5L605 319.4L606 319.2L607 319.4L608 319.4L609 319.1L610 318.5L611 318.9L612 319.1L613 319.3L614 318.9L615 319L616 319L617 318.4L618 319.1L619 319.1L620 319.3L621 318.4L622 318.7L623 318.5L624 318.6L625 318.9L626 318.3L627 317.9L628 318.4L629 317.3L629.5 318.5L630 318L630.5 317.1L631 317.3L631.5 316.7L632 316.7L632.5 316.2L633 316.2L633.5 315.7L634 315.1L634.5 314.6L635 314L635.5 313.2L636 310.9L636.5 308.2L637 302.1L637.5 292L638 272.9L638.5 243.1L639 200.7L639.5 151.9L640 106L640.5 83.8L640.6 82L641 93.2L641.5 131.4L642 181.5L642.5 227.8L643 262.6L643.5 285.3L644 299.1L644.5 306.8L645 309.9L645.5 312.2L646 313.4L646.5 314.7L647 315.3L647.5 315.6L648 316.1L648.5 317.1L649 316.8L649.5 317.3L650 317.4L650.5 317L651 317.7L651.5 317.6L652 317.8L652.5 318.1L653 317.9L654 318.2L655 318.2L656 318.5L657 318.8L658 318.8L659 319L660 318.7L661 318.9L662 319.2L663 319.4L664 319.2L665 319.4L666 319.7L667 318.9L668 319.1L669 319.1L670 319.4L671 319.3L672 319.8L673 319.1L674 318.8L675 318.5L676 319.1L677 318.7L678 318.9L679 319.4L680 319.9L681 319.1L682 319.9L683 319.3L684 319.1L685 319L686 319.5L687 319.6L688 319.4L689 318.7L690 319L691 319.3L692 319.3L693 319.1L694 319.5L695 318.8L696 319.3L697 319.3L698 319.1L699 319.4L700 320L701 319.5L702 318.8L703 319.4L704 319.2L705 319L706 319.2L707 319.4L708 319.6L709 319.3L710 319.1L711 319.2L712 319.3L713 319.1L714 319.3L715 319.4L716 318.8L717 319.3L718 319.8L719 319.6L720 318.9L721 319.6L722 319.2L723 319L724 319L725 318.7L726 319.2L727 319.3L728 319.6L729 319.4L730 319.7L731 319.4L732 319.7L733 319.5L734 319.1L735 320.1L736 319.5L737 319.7L738 319.6L739 319.6L740 319.1L741 319.1L742 319L743 319.1L744 319.6L745 318.9L746 319.2L747 319.1L748 319.3L749 319.6L750 319.3L751 318.7L752 318.8L753 319.7L754 319.4L755 319.3L756 319.8L757 319.8L758 318.8L759 319.1L760 319.4L761 318.9L762 318.8L763 319.7L764 319.1L765 320L766 319.6L767 319.5L768 318.4L769 319.3L770 319.6L771 319.4L772 319.4L773 319L774 319L775 319.2L776 319.8L777 319.2L778 319.4L779 318.8L780 319L781 319.2L782 319.4L783 319.6L784 319L785 319L786 318.9L787 319.4L788 318.8L789 319.7L790 319.2L791 319.4L792 319L793 318.9L794 319.2L795 319L796 319.8L797 319.1L798 319.2L799 319.6L800 319.5L801 319.6L802 319.3L803 319L804 319L805 319.2L806 319.1L807 319.3L808 319.4L809 319.6L810 320.1L811 318.7L812 319.4L813 319.3L814 319L815 318.9L816 319.7L817 320L818 319.1L819 319.4L820 319.2L821 319.1L822 319L823 320.2L824 319.5L825 319.7L826 319L827 319.2L828 319.2L829 319.4L830 319.1L831 319.5L832 319.4L833 319.7L834 319.4L835 319.7L836 318.7L837 319.5L838 319.8L839 319.8L840 319.5L841 319.8L842 319.6L843 318.2L844 319.4L845 319L846 319.4L847 318.9L848 319.9L849 319.4L850 318.8L851 319.2L852 318.7L853 319.8L854 320L855 319.3L856 319.7L857 319.1L858 319.7L859 319.2L860 319.6L861 318.9L862 319.4L863 319.4L864 319.5L865 319.6L866 319.4L867 319.3L868 319.3L869 319L870 318.9L871 319.4L872 319.2L873 319.2L874 319.3L875 319.1L876 320.3L877 320.2L878 319.3L879 318.7L880 319L881 319.5L882 320.1L883 319.4L884 319.6L885 319.2L886 318.8L887 319.4L888 319.4L889 319.2L890 319.5L891 318.7L892 319.4L893 319.6L894 319.1L895 318.5L896 320L897 318.7L898 318.8L899 319.4L900 319.6L901 319.8L902 319.6L903 319.3L904 319.2L905 319.4L906 319L907 319.3L908 320.2L909 319.5L910 318.8L911 319.2L912 319.3L913 319.8L914 318.9L915 319.2L916 319.3L917 319L918 319.3L919 318.9L920 319.5L921 319.2L922 319L923 319.5L924 319.3L925 319.2L926 319.5L927 319L928 319.4L929 319.4L930 319.3L931 319.8L932 318.9L933 319.3L934 319.4L935 319.1L936 318.9L937 319.1L938 319.3L939 319L940 318.4L941 318.9L942 318.9L943 319.4L944 318.8L944.5 318.7L945 318.4L945.5 318.5L946 318.7L946.5 318.2L947 318.1L947.5 318.1L948 317.2L948.5 317.7L949 317.1L949.5 317.7L950 317.7L950.5 316.3L951 315.5L951.5 313.5L952 311.1L952.5 306.9L953 301.4L953.5 293.4L954 285.2L954.5 278.7L955 275.5L955.5 278.9L956 285.9L956.5 293.2L957 300.9L957.5 307L958 311.3L958.5 313.6L959 315.5L959.5 315.8L960 317.1L960.5 317.7L961 317.5L961.5 318.6L962 318.2L962.5 318.6L963 318.3L963.5 318.5L964 318.7L964.5 318.4L965 318.5L965.5 318.6L966 319.3L966.5 319.8L967 318.9L968 319.2L969 319.1L970 319.6L971 319.4L972 319.5L973 319.2L974 319L975 319.4L976 319.4L977 319.4L978 318.8L979 319.2L980 319.1L981 319.8L982 319.6L983 319.4L984 319.5L985 319.7L986 319.2L987 319.4L988 319L989 319.1L990 318.8L991 319.6L992 319.7L993 319.3L994 319.5L995 319.4L996 319.3L997 318.8L998 319.1L999 319.2L1000 319.3L1001 318.7L1002 319L1003 319L1004 318.7L1005 319.5L1006 319.2L1007 319.2L1008 319.7L1009 319.6L1010 320L1011 319.2L1012 319.4L1013 319L1014 319.2L1015 319L1016 319.5L1017 319.2L1018 319.2L1019 319.4L1020 318.8L1021 319.7L1022 319.7L1023 319.5L1024 319L1025 319.7L1026 319L1027 319.3L1028 319.4L1029 319.3L1030 320.2L1031 319.8L1032 319.2L1033 319.2L1034 319.7L1035 318.9L1036 319.5L1037 319.4L1038 319L1039 318.9L1040 319.1L1041 319.5L1042 319.5L1043 319.4L1044 319.4L1045 319.8L1046 319.2L1047 319L1048 318.8L1049 319.5L1050 319.3L1051 319.6L1052 319.6L1053 319.1L1054 319.7L1055 319.1L1056 319.3L1057 319.8L1058 319.3L1059 319.6L1060 319.2L1061 319.2L1062 318.1L1063 319.2L1064 319.6L1065 318.8L1066 319L1067 318.9L1068 318.6L1069 318.8L1070 319.1L1071 318.9L1072 319.8L1073 319.2L1074 319.6L1075 319.8L1076 319.5L1077 319L1078 319.4L1079 319.5L1080 319.7L1081 318.8L1082 319.5L1083 319.5L1084 319.4L1085 319.6L1086 319.4L1087 319.6L1088 319.8L1089 319.6L1090 319.4L1091 318.9L1092 318.8L1093 319.6L1094 319.4L1095 319.2L1096 319.4L1097 319.4L1098 319.3L1099 319.3L1100 319.4L1101 319.4L1102 319L1103 319.6L1104 319.5L1105 319.3L1106 319.4L1107 318.9L1108 319.6L1109 319L1110 319.2L1111 318.9L1112 319.1L1113 319.5L1114 318.9L1115 318.3L1116 319.5L1117 320.2L1118 318.7L1119 319.3L1120 319.3L1121 319.2L1122 319.7L1123 319.1L1124 319.5L1125 319.2L1126 319.2L1127 318.9L1128 318.9L1129 319.5L1130 319.4L1131 319.8L1132 319.6L1133 319.1L1134 319.3L1135 319.3L1136 319.8L1137 318.9L1138 319.3L1139 319.2L1140 318.9L1141 319.6L1142 319L1143 318.7L1144 319.6L1145 319.3L1146 320L1147 319.3L1148 319.2L1149 319.2L1150 319.3L1151 319.1L1152 318.9L1153 319.7L1154 319.5L1155 319.3L1156 319.3L1157 319.1L1158 319.2L1159 319.4L1160 319L1161 319.6L1162 319.5L1163 319.5L1164 319.1L1165 319.1L1166 318.5L1167 319.5L1168 318.7L1169 318.7L1170 319L1171 318.7L1172 319.4L1173 319.7L1174 319.1L1175 318.7L1176 319.3L1177 319L1178 318.9L1179 319.7L1180 319.3L1181 319.3L1182 319L1183 319.6L1184 319.3L1185 319L1186 319.1L1187 319.5L1188 319.6L1189 319.1L1190 319.3L1191 319.2L1192 318.7L1193 319.3L1194 318.9L1195 319.1L1196 318.6L1197 319.4L1198 319L1199 319.4L1200 319.1L1201 318.7L1202 319.1L1203 318.8L1204 318.6L1205 318.7L1206 318.6L1207 319.3L1208 318.8L1209 318.6L1210 318.3L1211 318.2L1212 318.5L1212.5 318.2L1213 318L1213.5 317.5L1214 317.3L1214.5 317.7L1215 317.7L1215.5 317.8L1216 316.6L1216.5 316.9L1217 316.3L1217.5 316.2L1218 315.2L1218.5 315.1L1219 314.3L1219.5 312.5L1220 310.4L1220.5 307.7L1221 304.7L1221.5 301L1222 295.1L1222.5 290L1223 285.2L1223.5 282.5L1223.7 282.2L1224 283L1224.5 286.3L1225 293.3L1225.5 299.3L1226 305.2L1226.5 309.2L1227 312.7L1227.5 315L1228 315.6L1228.5 317.3L1229 317.5L1229.5 317.5L1230 317.8L1230.5 317.7L1231 318.2L1231.5 318.3L1232 318.6L1232.5 318.5L1233 318.2L1233.5 318.7L1234 318.7L1234.5 319.1L1235 318.5L1235.5 318.4L1236 318.9L1237 318.8L1238 318.6L1239 319.2L1240 318.8L1241 319.4L1242 319L1243 318.4L1244 319.4L1245 319.3L1246 319.5L1247 319.3L1248 318.3L1249 318.9L1250 319.6L1251 319.4L1252 319.4L1253 318.8L1254 318.8L1255 319L1256 319L1257 319.2L1258 319L1259 319.3L1260 319.6L1261 319.4L1262 319.4L1263 319.3L1264 319.6L1265 319.6L1266 319.1L1267 318.8L1268 319.1L1269 319.5L1270 318.9L1271 319.1L1272 319.4L1273 319.2L1274 319.1L1275 319.2L1276 318.9L1277 319.6L1278 319.5L1279 319.3L1280 318.9L1281 319.7L1282 319.4L1283 319.5L1284 319.1L1285 319.4L1286 320.1L1287 319L1288 319.3L1289 319.2L1290 319.3L1291 319.3L1292 318.6L1293 319.6L1294 318.9L1295 319.4L1296 319.3L1297 319.1L1298 319.1L1299 319.3L1300 319.1L1301 319.6L1302 319.1L1303 319.2L1304 319.3L1305 320L1306 319L1307 319.3L1308 319.4L1309 319.5L1310 319.7L1311 319.1L1312 319L1313 319.2L1314 319.2L1315 320L1316 319.1L1317 319.2L1318 318.8L1319 319.1L1320 319.6L1321 318.6L1322 319.6L1323 318.8L1324 319.8L1325 319L1326 319.1L1327 319L1328 319.2L1329 319.7L1330 319.3L1331 319.4L1332 319.2L1333 319.2L1334 318.3L1335 319L1336 318.7L1337 319.2L1338 319.7L1339 319.1L1340 318.7L1341 319.2L1342 319.6L1343 319.1L1344 318.9L1345 319.3L1346 319.7L1347 319.5L1348 318.5L1349 318.9L1350 319.3L1351 319.4L1352 319.6L1353 319.4L1354 319L1355 318.7L1356 319.3L1357 319.1L1358 319.7L1359 319.6L1360 319.6L1361 319L1362 318.9L1363 319.5L1364 319.4L1365 318.5L1366 319.1L1367 319.2L1368 318.8L1369 318.8L1370 318.3L1371 318.9L1372 318.8L1372.5 318.8L1373 318.1L1373.5 318.1L1374 318.3L1374.5 318L1375 318L1375.5 317.5L1376 318.2L1376.5 317.5L1377 317.3L1377.5 317.3L1378 316.5L1378.5 315.4L1379 314.8L1379.5 312.6L1380 309.8L1380.5 305.1L1381 299.2L1381.5 291.7L1382 282.4L1382.5 274.9L1383 268.6L1383.3 267.2L1383.5 267.7L1384 272.5L1384.5 280.8L1385 289.1L1385.5 297.6L1386 303.8L1386.5 308.6L1387 312.1L1387.5 314L1388 315.5L1388.5 316.1L1389 316.5L1389.5 317.2L1390 317.3L1390.5 317.9L1391 317.9L1391.5 318.1L1392 318.3L1392.5 318.8L1393 318.4L1393.5 318.3L1394 318.7L1394.5 319L1395 319.4L1395.5 318.8L1396.5 319.4L1397.5 319L1398.5 318.8L1399.5 318.4L1400.5 319.2L1401.5 318.9L1402.5 319.8L1403.5 318.5L1404.5 318.9L1405.5 319.1L1406.5 318.8L1407.5 319.3L1408.5 319.5L1409.5 319.5L1410.5 319.4L1411.5 319.4L1412.5 320L1413.5 319.3L1414.5 319.3L1415.5 319.5L1416.5 319.3L1417.5 319.7L1418.5 319.3L1419.5 318.6L1420.5 319.1L1421.5 318.8L1422.5 319.3L1423.5 319.2L1424.5 318.8L1425.5 319.3L1426.5 318.6L1427.5 318.8L1428.5 318.8L1429.5 319.4L1430.5 318.9L1431.5 319.3L1432.5 319.3L1433.5 319.2L1434.5 319.1L1435.5 319.3L1436.5 319.1L1437.5 319.2L1438.5 318.9L1439.5 319.3L1440.5 319.6L1441.5 319.6L1442.5 319.3L1443.5 319.7L1444.5 319.5L1445.5 319.4L1446.5 319.6L1447.5 318.8L1448.5 319.3L1449.5 319.5L1450.5 319.6L1451.5 319.7L1452.5 319L1453.5 319.4L1454.5 320.1L1455.5 318.9L1456.5 319.4L1457.5 318.5L1458.5 319.6L1459.5 319.7L1460.5 319.1L1461.5 319.3L1462.5 319L1463.5 319.9L1464.5 319.2L1465.5 318.9L1466.5 318.7L1467.5 319.7L1468.5 320L1469.5 319.8L1470.5 318.6L1471.5 319.5L1472.5 319.6L1473.5 319L1474.5 319.7L1475.5 319.4L1476.5 319.4L1477.5 318.9L1478.5 319.4L1479.5 318.9L1480.5 320L1481.5 319.2L1482.5 319.2L1483.5 319.4L1484.5 318.9L1485.5 319.1L1486.5 319.2L1487.5 319.5L1488.5 319.7L1489.5 319.3L1490.5 319.7L1491.5 319.3L1492 318.7L1492.5 318.9L1493 319.2L1493.5 319.4L1494 318.9L1494.5 318.6L1495 319.3L1495.5 319L1496 318.9L1496.5 318.5L1497 318.6L1497.5 318.4L1498 318.1L1498.5 318.1L1499 317.9L1499.5 317.6L1500 316.3L1500.5 315.9L1501 315.5L1501.5 314.5L1502 315.1L1502.5 314.4L1503 313.8L1503.5 314.1L1504 315.2L1504.5 315.1L1505 316.1L1505.5 316.7L1506 316.5L1506.5 318L1507 317.6L1507.5 318.7L1508 318.3L1508.5 318.4L1509 319L1509.5 318.2L1510 319.1L1510.5 319L1511 319.2L1511.5 319L1512 319.1L1512.5 318.7L1513 319.4L1513.5 319.9L1514 318.3L1514.5 318.5L1515 318.6L1516 318.9L1517 319.1L1518 318.5L1519 318.7L1520 319.1L1521 319.2L1522 318.6L1523 319.4L1524 318.9L1525 318.5L1526 318.4L1527 318.7L1528 318L1529 318.9L1529.5 319.1L1530 317.5L1530.5 318.2L1531 317.6L1531.5 318.1L1532 317.1L1532.5 317.3L1533 317.2L1533.5 317.6L1534 316.2L1534.5 316.7L1535 315.2L1535.5 314.5L1536 313.2L1536.5 310.8L1537 307.5L1537.5 302.8L1538 296.2L1538.5 288.9L1539 280.9L1539.5 273.7L1540 271.3L1540.5 273.3L1541 280.4L1541.5 288.6L1542 296.9L1542.5 302.5L1543 307.5L1543.5 310.6L1544 312.6L1544.5 314.2L1545 315.7L1545.5 316.1L1546 316.5L1546.5 317.2L1547 317.7L1547.5 317.9L1548 318L1548.5 317.8L1549 318L1549.5 318.1L1550 318.4L1550.5 318.5L1551 319L1551.5 318.6L1552 318.1L1553 319.1L1554 318.2L1555 318.8L1556 318.9L1557 318.4L1558 319L1559 318.8L1560 319.2L1561 318.9L1562 319L1563 318.9L1564 318.5L1565 318.5L1566 318.8L1567 318.7L1567.5 318.5L1568 318.7L1568.5 319L1569 318.6L1569.5 318.9L1570 317.9L1570.5 317.8L1571 318.4L1571.5 317.5L1572 316.9L1572.5 316.7L1573 316.1L1573.5 315.8L1574 315.1L1574.5 313.4L1575 311.7L1575.5 308.6L1576 305.1L1576.5 299.3L1577 291.7L1577.5 284.5L1578 277.6L1578.5 273.9L1578.6 273.9L1579 275.8L1579.5 281.4L1580 289.2L1580.5 296L1581 303.2L1581.5 307L1582 311.1L1582.5 312.9L1583 314.5L1583.5 315.4L1584 316.3L1584.5 316.8L1585 316.9L1585.5 316.7L1586 317.7L1586.5 318.2L1587 318.2L1587.5 318.7L1588 318.3L1588.5 318L1589 318.1L1589.5 318.7L1590 318L1590.5 317.9L1591 319.2L1592 318.9L1593 318.7L1594 319.4L1595 319.1L1596 319.1L1597 318.6L1598 318.5L1599 318.8L1600 319.5L1601 318.8L1602 318.8L1603 319.2L1604 318.9L1605 318.6L1606 319.2L1607 318.6L1608 319L1609 319.1L1610 318.6L1611 319.4L1612 319.5L1613 318.6L1614 319.2L1615 319.3L1616 319.7L1617 319L1618 319.4L1619 318.7L1620 318.9L1621 319.3L1622 319.6L1623 319.2L1624 318.8L1625 319.1L1626 319.5L1627 319.2L1628 319L1629 319.2L1630 319.1L1631 318.8L1632 318L1633 319.5L1634 319.8L1635 319.3L1636 319.2L1637 319.5L1637.5 319.1L1638 319.3L1638.5 319.2L1639 319.1L1639.5 319.1L1640 319.1L1640.5 318.7L1641 319.1L1641.5 319.2L1642 318.9L1642.5 318.4L1643 318.6L1643.5 317.8L1644 317L1644.5 316.4L1645 315.6L1645.5 314.9L1646 313.7L1646.5 312.6L1647 311.9L1647.5 310.9L1648 310.9L1648.5 311.7L1649 311.8L1649.5 312.3L1650 313.2L1650.5 314.6L1651 315.8L1651.5 315.7L1652 316.7L1652.5 317.4L1653 318.5L1653.5 318.5L1654 318.7L1654.5 319.2L1655 318.4L1655.5 318.6L1656 319L1656.5 318.9L1657 319.4L1657.5 318.7L1658 318.8L1658.5 319.2L1659 319.2L1659.5 319.4L1660 319L1661 319.1L1662 319.3L1663 319.2L1664 319.2L1665 319.3L1666 319.5L1667 318.7L1668 319.2L1669 319.6L1670 319.3L1671 319.9L1672 319.7L1673 319.5L1674 319L1675 319.3L1676 318.8L1677 319.1L1678 318.6L1679 319.1L1680 319.6L1681 319.3L1682 319.7L1683 319.4L1684 319.1L1685 318.9L1686 318.8L1687 318.9L1688 319L1689 319.7L1690 319.4L1691 319.4L1692 318.7L1693 318.6L1694 319.6L1695 319.5L1696 319.4L1697 319.7L1698 319.2L1699 319L1700 319.6L1701 318.8L1702 319.7L1703 320L1704 319.2L1705 319.1L1706 318.6L1707 318.8L1708 318.8L1709 319.3L1710 319.4L1711 319.4L1712 319.8L1713 319.2L1714 320L1715 319.4L1716 319.4L1717 318.9L1718 319.5L1719 319.2L1720 318.9L1721 320.1L1722 319.6L1723 319.7L1724 319.6L1725 319.2L1726 318.6L1727 319.3L1728 319.3L1729 319L1730 319.3L1731 318.6L1732 319.4L1733 318.9L1734 318.8L1735 319.3L1736 319.4L1737 318.4L1738 318.9L1739 318.8L1740 318.9L1741 319.4L1742 319.3L1743 319.2L1744 319L1745 319.4L1746 319.3L1747 319.2L1748 319.5L1749 319.4L1750 319.3L1751 319.2L1752 319.3L1753 319.3L1754 319.2L1755 318.7L1756 319.2L1757 319.4L1758 319.1L1759 319.3L1760 319.5L1761 319.4L1762 319.2L1763 319.8L1764 319.5L1765 318.6L1766 319.9L1767 319.3L1768 319.4L1769 319.8L1770 318.9L1771 319.3L1772 319L1773 319.4L1774 319.1L1775 319.5L1776 318.9L1777 319.3L1778 318.9L1779 319.6L1780 319.3L1781 319.3L1782 319.3L1783 319.6L1784 319.3L1785 320.3L1786 319.5L1787 319.3L1787.5 319L1788 318.8L1788.5 319.5L1789 318.6L1789.5 319.7L1790 318.9L1790.5 319.5L1791 319.4L1791.5 319.5L1792 319L1792.5 318.5L1793 317.8L1793.5 317.9L1794 317.6L1794.5 317.6L1795 316.4L1795.5 315.6L1796 315.3L1796.5 314.6L1797 313.2L1797.5 313.3L1798 313L1798.1 312.7L1798.5 313.3L1799 313.3L1799.5 314.2L1800 315.1L1800.5 315.2L1801 316.3L1801.5 316.6L1802 317.6L1802.5 318.9L1803 317.8L1803.5 318.2L1804 318.7L1804.5 318.9L1805 319.8L1805.5 319.2L1806 319.5L1806.5 319.1L1807 319.2L1807.5 319.4L1808 319L1808.5 319.2L1809 319.4L1809.5 318.8L1810 319.6L1810.5 319.5L1811.5 319.7L1812.5 319L1813.5 319.4L1814.5 318.7L1815.5 319.4L1816.5 319.7L1817.5 318.8L1818.5 319.7L1819.5 318.9L1820.5 319.1L1821.5 318.6L1822.5 319.2L1823.5 319.2L1824.5 318.9L1825.5 319.3L1826.5 318.7L1827.5 319.5L1828.5 319.3L1829.5 319.4L1830.5 319.1L1831.5 319.5L1832.5 318.9L1833.5 319.5L1834.5 319.2L1835.5 318.6L1836.5 319.8L1837.5 318.9L1838.5 319.2L1839.5 319.6L1840.5 319.1L1841.5 319.6L1842.5 318.9L1843.5 319.9L1844.5 319.3L1845.5 319.8L1846.5 319.4L1847.5 319.4L1848.5 319.4L1849.5 319.6L1850.5 319.5L1851.5 319.5L1852.5 319.2L1853.5 319.7L1854.5 319.5L1855.5 319.6L1856.5 319.3L1857.5 318.9L1858.5 319.2L1859.5 319.4L1860.5 319.3L1861.5 319.7L1862.5 319.9L1863.5 319.6L1864.5 318.8L1865.5 319.1L1866.5 319.1L1867.5 319.8L1868.5 319.9L1869.5 319.9L1870.5 318.9L1871.5 319.4L1872.5 319.4L1873.5 318.8L1874.5 319.1L1875.5 318.8L1876.5 319.6L1877.5 318.9L1878.5 319.8L1879.5 319.3L1880.5 318.8L1881.5 319.2L1882.5 319.4L1883.5 319.4L1884.5 319.4L1885.5 318.9L1886.5 319.9L1887.5 318.8L1888.5 319.1L1889.5 319.2L1890.5 319.4L1891 319.6L1891.5 319.5L1892 318.9L1892.5 319.4L1893 319.5L1893.5 319.6L1894 319.2L1894.5 319.3L1895 318.8L1895.5 318.5L1896 319.2L1896.5 319.1L1897 318.4L1897.5 317.4L1898 317.9L1898.5 317.5L1899 316.6L1899.5 316.1L1900 315.3L1900.5 315L1901 313.9L1901.5 314.6L1902 313.8L1902.5 314.6L1903 314L1903.5 315.2L1904 315.8L1904.5 315.8L1905 316.8L1905.5 318L1906 318.2L1906.5 317.8L1907 318.6L1907.5 318.3L1908 318.7L1908.5 319.1L1909 319.1L1909.5 318.9L1910 319.1L1910.5 319.5L1911 319L1911.5 319.4L1912 319.1L1912.5 319.2L1913 318.8L1913.5 319.4L1914 319.5L1915 318.9L1916 319.6L1917 319.1L1918 319.1L1919 319.4L1920 319.1L1921 318.7L1922 319.2L1923 319.1L1924 319.1L1925 319.3L1926 319.4L1927 318.9L1928 319.7L1929 319.3L1930 319.1L1931 319.3L1932 319.3L1933 319.1L1934 318.5L1935 319.3L1936 319.1L1937 319.1L1938 319.5L1939 319.4L1940 319.6L1941 318.9L1942 319.6L1943 319.1L1944 319.3L1945 319.8L1946 319.3L1947 319.2L1948 319.7L1949 319.5L1950 319.4L1951 319.5L1952 319.3L1953 318.9L1954 319L1955 319L1956 319L1957 319.4L1958 319.7L1959 319.2L1960 319.5L1961 319.8L1962 319.5L1963 319.2L1964 319.3L1965 319.1L1966 319.6L1967 319.5L1968 319.8L1969 319.6L1970 319.6L1971 320.4L1972 318.5L1973 318.9L1974 319.5L1975 319L1976 319.7L1977 319.6L1978 319.9L1979 318.6L1980 319.3L1981 319.2L1982 319.9L1983 319.6L1984 319.3L1985 319.2L1986 320L1987 319.1L1988 319.4L1989 319.4L1990 319.3L1991 319.5L1992 318.7L1993 319.7L1994 319L1995 319.3L1996 318.9L1997 319.3L1998 319.2L1999 319.2L2000 319.1L2001 319.8L2002 318.7L2003 319.4L2004 318.9L2005 319.4L2006 319.3L2007 320.1L2008 319.4L2009 319.4L2010 319L2011 319.9L2012 318.9L2013 319.3L2014 319.3L2015 319.8L2016 319.2L2017 319L2018 319.3L2019 320.1L2020 319.4L2021 318.6L2022 319.5L2023 319.3L2024 319.6L2025 319.3L2026 319.3L2027 319.7L2028 319.6L2029 319.3L2030 319.2L2031 318.9L2032 318.8L2033 319.2L2034 319L2035 319.3L2036 319.3L2037 319.5L2038 319.2L2039 319.7L2040 319.3L2041 319.1L2042 319.3L2043 319.1L2044 319.7L2045 319.2L2046 319.4L2047 319.1L2048 320L2049 319.4L2050 319.9L2051 318.9L2052 318.7L2053 319.3L2054 319.6L2055 319.4L2056 319.2L2057 319.4L2058 319.2L2059 319.6L2060 318.7L2061 319.5L2062 319.5L2063 319.4L2064 319.5L2065 318.8L2066 319.1L2067 319.8L2068 319.1L2069 319.8L2070 319.3L2071 319L2072 319L2073 318.6L2074 319L2075 319.4L2076 319.3L2077 319.9L2078 319.5L2079 319L2080 319.5L2081 318.9L2082 318.8L2083 319.2L2084 319.3L2085 318.9L2086 318.8L2087 318.6L2088 319.2L2089 319.4L2090 319.6L2091 319.2L2092 319.6L2093 319.3L2094 319.2L2095 319.1L2096 319.7L2097 319.9L2098 319.2L2099 319.5L2100 318.9L2101 319.2L2102 318.8L2103 319.9L2104 319.4L2105 319.3L2106 319L2107 319.5L2108 319.2L2109 318.9L2110 319.4L2111 319.3L2112 319.7L2113 319.5L2114 318.8L2115 319.3L2116 319.2L2117 319.4L2118 319L2119 319.1L2120 319.3L2121 318.5L2122 319.7L2123 319.2L2124 319.7L2125 319.2L2126 319L2127 319.1L2128 319.2L2129 319.1L2130 319.6"/>
</defs>
<g clip-path="url(#cp)">
<use href="#base" class="c ca" stroke="#515151"/><use href="#base" class="c cb" stroke="#515151"/>
<use href="#asw" class="c ca" stroke="#F14040"/><use href="#asw" class="c cb" stroke="#F14040"/>
<use href="#sol" class="c ca" stroke="#1A6FDF"/><use href="#sol" class="c cb" stroke="#1A6FDF"/>
<use href="#cryo" class="c ca" stroke="#37AD6B"/><use href="#cryo" class="c cb" stroke="#37AD6B"/>
<use href="#solcryo" class="c ca" stroke="#B177DE"/><use href="#solcryo" class="c cb" stroke="#B177DE"/>
</g>
<text class="t" transform="translate(1451.3 396.6) scale(0.9975 1.018)">Solution + Cryogenic</text>
<text class="t" transform="translate(1787.5 557.3) scale(1 1.018)">Cryogenic</text>
<text class="t" transform="translate(1834 809.5) scale(1 1.018)">Solution</text>
<text class="t" transform="translate(1772.6 1245) scale(1 1.018)">As-welded</text>
<text class="t" transform="translate(1774.7 1424.6) scale(1 1.018)">Base metal</text>
<text class="t" style="font-size:72px" x="1695.8" y="91.93">•</text>
<text class="t" transform="translate(1745 96.5) scale(1 1.018)">α-Mg</text>
<polygon points="1707.65,137.08 1711.71,148.86 1723.72,149.24 1714.22,156.91 1717.58,168.92 1707.65,161.88 1697.72,168.92 1701.08,156.91 1691.58,149.24 1703.59,148.86" fill="#fff" stroke="#000" stroke-width="1.15" stroke-linejoin="miter"/>
<text class="t" transform="translate(1746.5 167) scale(1 1.018)">β-Al<tspan font-size="51" dy="19.6">17</tspan><tspan dy="-19.6">Mg</tspan><tspan font-size="51" dy="19.6">12</tspan></text>
<text class="pk" font-size="47.8" y="256.5"><tspan x="434.63" textLength="40.02" lengthAdjust="spacingAndGlyphs">1</tspan><tspan x="466.63" textLength="40.02" lengthAdjust="spacingAndGlyphs">1</tspan><tspan x="498.63" textLength="40.02" lengthAdjust="spacingAndGlyphs">1</tspan><tspan x="533.54" textLength="31.43" lengthAdjust="spacingAndGlyphs">0</tspan></text><rect x="504" y="214" width="25" height="3.2" fill="#000"/>
<text class="pk" font-size="43" y="195.9"><tspan x="514.04" textLength="29.54" lengthAdjust="spacingAndGlyphs">0</tspan><tspan x="545.24" textLength="29.54" lengthAdjust="spacingAndGlyphs">0</tspan><tspan x="576.24" textLength="29.54" lengthAdjust="spacingAndGlyphs">0</tspan><tspan x="606.84" textLength="32.35" lengthAdjust="spacingAndGlyphs">2</tspan></text>
<text class="pk" font-size="46.1" y="73.2"><tspan x="565.56" textLength="40.36" lengthAdjust="spacingAndGlyphs">1</tspan><tspan x="602.68" textLength="32.95" lengthAdjust="spacingAndGlyphs">0</tspan><tspan x="633.56" textLength="40.36" lengthAdjust="spacingAndGlyphs">1</tspan><tspan x="667.56" textLength="40.36" lengthAdjust="spacingAndGlyphs">1</tspan></text><rect x="639" y="30.8" width="26.2" height="3.5" fill="#000"/>
<text class="t" style="font-size:72px" x="505.8" y="1231.93">•</text>
<text class="t" style="font-size:72px" x="564.9" y="1338.03">•</text>
<text class="t" style="font-size:72px" x="631.8" y="1216.93">•</text>
<text class="t" style="font-size:72px" x="944.8" y="1328.93">•</text>
<text class="t" style="font-size:72px" x="1370.8" y="1343.43">•</text>
<text class="t" style="font-size:72px" x="1531" y="1340.43">•</text>
<polygon points="1225.55,1282.08 1229.61,1293.86 1241.62,1294.24 1232.12,1301.91 1235.48,1313.92 1225.55,1306.88 1215.62,1313.92 1218.98,1301.91 1209.48,1294.24 1221.49,1293.86" fill="#fff" stroke="#000" stroke-width="1.15" stroke-linejoin="miter"/>
<polygon points="1504.95,1303.28 1509.01,1315.06 1521.02,1315.44 1511.52,1323.11 1514.88,1335.12 1504.95,1328.08 1495.02,1335.12 1498.38,1323.11 1488.88,1315.44 1500.89,1315.06" fill="#fff" stroke="#000" stroke-width="1.15" stroke-linejoin="miter"/>
<polygon points="1581.05,1268.28 1585.11,1280.06 1597.12,1280.44 1587.62,1288.11 1590.98,1300.12 1581.05,1293.08 1571.12,1300.12 1574.48,1288.11 1564.98,1280.44 1576.99,1280.06" fill="#fff" stroke="#000" stroke-width="1.15" stroke-linejoin="miter"/>
</svg>
</body></html>
